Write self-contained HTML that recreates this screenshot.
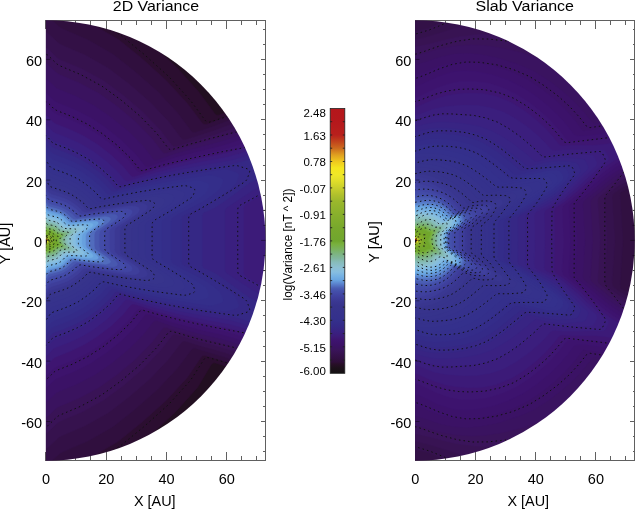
<!DOCTYPE html><html><head><meta charset="utf-8"><title>Variance</title><style>html,body{margin:0;padding:0;background:#fff;}body{width:635px;height:509px;overflow:hidden;font-family:"Liberation Sans",sans-serif;}svg{display:block;will-change:transform;}</style></head><body><svg width="635" height="509" viewBox="0 0 635 509" font-family="'Liberation Sans', sans-serif"><rect width="635" height="509" fill="#fff"/><g stroke="#606060" stroke-width="1" fill="none" shape-rendering="crispEdges"><rect x="46.5" y="20.2" width="219.0" height="440.5"/><path d="M45.8,460.7v-9.0M45.8,20.2v9.0M60.8,460.7v-4.5M60.8,20.2v4.5M75.9,460.7v-4.5M75.9,20.2v4.5M90.9,460.7v-4.5M90.9,20.2v4.5M106.0,460.7v-9.0M106.0,20.2v9.0M121.0,460.7v-4.5M121.0,20.2v4.5M136.1,460.7v-4.5M136.1,20.2v4.5M151.1,460.7v-4.5M151.1,20.2v4.5M166.2,460.7v-9.0M166.2,20.2v9.0M181.2,460.7v-4.5M181.2,20.2v4.5M196.3,460.7v-4.5M196.3,20.2v4.5M211.3,460.7v-4.5M211.3,20.2v4.5M226.4,460.7v-9.0M226.4,20.2v9.0M241.4,460.7v-4.5M241.4,20.2v4.5M256.5,460.7v-4.5M256.5,20.2v4.5M45.8,451.6h2.2M265.5,451.6h-2.2M45.8,436.6h2.2M265.5,436.6h-2.2M45.8,421.5h4.4M265.5,421.5h-4.4M45.8,406.4h2.2M265.5,406.4h-2.2M45.8,391.3h2.2M265.5,391.3h-2.2M45.8,376.2h2.2M265.5,376.2h-2.2M45.8,361.1h4.4M265.5,361.1h-4.4M45.8,346.0h2.2M265.5,346.0h-2.2M45.8,331.0h2.2M265.5,331.0h-2.2M45.8,315.9h2.2M265.5,315.9h-2.2M45.8,300.8h4.4M265.5,300.8h-4.4M45.8,285.7h2.2M265.5,285.7h-2.2M45.8,270.6h2.2M265.5,270.6h-2.2M45.8,255.5h2.2M265.5,255.5h-2.2M45.8,240.4h4.4M265.5,240.4h-4.4M45.8,225.4h2.2M265.5,225.4h-2.2M45.8,210.3h2.2M265.5,210.3h-2.2M45.8,195.2h2.2M265.5,195.2h-2.2M45.8,180.1h4.4M265.5,180.1h-4.4M45.8,165.0h2.2M265.5,165.0h-2.2M45.8,149.9h2.2M265.5,149.9h-2.2M45.8,134.9h2.2M265.5,134.9h-2.2M45.8,119.8h4.4M265.5,119.8h-4.4M45.8,104.7h2.2M265.5,104.7h-2.2M45.8,89.6h2.2M265.5,89.6h-2.2M45.8,74.5h2.2M265.5,74.5h-2.2M45.8,59.4h4.4M265.5,59.4h-4.4M45.8,44.3h2.2M265.5,44.3h-2.2M45.8,29.3h2.2M265.5,29.3h-2.2"/></g><g font-size="14.5" fill="#000"><text x="46.1" y="483.7" text-anchor="middle">0</text><text x="106.3" y="483.7" text-anchor="middle">20</text><text x="166.5" y="483.7" text-anchor="middle">40</text><text x="226.7" y="483.7" text-anchor="middle">60</text><text x="42.2" y="428.1" text-anchor="end">-60</text><text x="42.2" y="367.7" text-anchor="end">-40</text><text x="42.2" y="307.4" text-anchor="end">-20</text><text x="42.2" y="247.0" text-anchor="end">0</text><text x="42.2" y="186.7" text-anchor="end">20</text><text x="42.2" y="126.4" text-anchor="end">40</text><text x="42.2" y="66.0" text-anchor="end">60</text></g><text x="154.8" y="505.6" text-anchor="middle" font-size="14.4">X [AU]</text><text transform="translate(9.6,243.5) rotate(-90)" text-anchor="middle" font-size="14.5">Y [AU]</text><g stroke="#606060" stroke-width="1" fill="none" shape-rendering="crispEdges"><rect x="415.7" y="20.2" width="219.0" height="440.5"/><path d="M415.0,460.7v-9.0M415.0,20.2v9.0M430.0,460.7v-4.5M430.0,20.2v4.5M445.1,460.7v-4.5M445.1,20.2v4.5M460.1,460.7v-4.5M460.1,20.2v4.5M475.2,460.7v-9.0M475.2,20.2v9.0M490.2,460.7v-4.5M490.2,20.2v4.5M505.3,460.7v-4.5M505.3,20.2v4.5M520.3,460.7v-4.5M520.3,20.2v4.5M535.4,460.7v-9.0M535.4,20.2v9.0M550.4,460.7v-4.5M550.4,20.2v4.5M565.5,460.7v-4.5M565.5,20.2v4.5M580.5,460.7v-4.5M580.5,20.2v4.5M595.6,460.7v-9.0M595.6,20.2v9.0M610.6,460.7v-4.5M610.6,20.2v4.5M625.7,460.7v-4.5M625.7,20.2v4.5M415.0,451.6h2.2M634.7,451.6h-2.2M415.0,436.6h2.2M634.7,436.6h-2.2M415.0,421.5h4.4M634.7,421.5h-4.4M415.0,406.4h2.2M634.7,406.4h-2.2M415.0,391.3h2.2M634.7,391.3h-2.2M415.0,376.2h2.2M634.7,376.2h-2.2M415.0,361.1h4.4M634.7,361.1h-4.4M415.0,346.0h2.2M634.7,346.0h-2.2M415.0,331.0h2.2M634.7,331.0h-2.2M415.0,315.9h2.2M634.7,315.9h-2.2M415.0,300.8h4.4M634.7,300.8h-4.4M415.0,285.7h2.2M634.7,285.7h-2.2M415.0,270.6h2.2M634.7,270.6h-2.2M415.0,255.5h2.2M634.7,255.5h-2.2M415.0,240.4h4.4M634.7,240.4h-4.4M415.0,225.4h2.2M634.7,225.4h-2.2M415.0,210.3h2.2M634.7,210.3h-2.2M415.0,195.2h2.2M634.7,195.2h-2.2M415.0,180.1h4.4M634.7,180.1h-4.4M415.0,165.0h2.2M634.7,165.0h-2.2M415.0,149.9h2.2M634.7,149.9h-2.2M415.0,134.9h2.2M634.7,134.9h-2.2M415.0,119.8h4.4M634.7,119.8h-4.4M415.0,104.7h2.2M634.7,104.7h-2.2M415.0,89.6h2.2M634.7,89.6h-2.2M415.0,74.5h2.2M634.7,74.5h-2.2M415.0,59.4h4.4M634.7,59.4h-4.4M415.0,44.3h2.2M634.7,44.3h-2.2M415.0,29.3h2.2M634.7,29.3h-2.2"/></g><g font-size="14.5" fill="#000"><text x="415.3" y="483.7" text-anchor="middle">0</text><text x="475.5" y="483.7" text-anchor="middle">20</text><text x="535.7" y="483.7" text-anchor="middle">40</text><text x="595.9" y="483.7" text-anchor="middle">60</text><text x="411.4" y="428.1" text-anchor="end">-60</text><text x="411.4" y="367.7" text-anchor="end">-40</text><text x="411.4" y="307.4" text-anchor="end">-20</text><text x="411.4" y="247.0" text-anchor="end">0</text><text x="411.4" y="186.7" text-anchor="end">20</text><text x="411.4" y="126.4" text-anchor="end">40</text><text x="411.4" y="66.0" text-anchor="end">60</text></g><text x="528.3" y="505.6" text-anchor="middle" font-size="14.4">X [AU]</text><text transform="translate(378.7,242.0) rotate(-90)" text-anchor="middle" font-size="14.5">Y [AU]</text><mask id="cl" maskUnits="userSpaceOnUse" x="43.8" y="18.2" width="223.7" height="444.5"><path fill="#fff" d="M45.80,20.21A219.70,220.24 0 0 1 45.80,460.69Z"/></mask><g mask="url(#cl)" shape-rendering="geometricPrecision"><rect x="45.8" y="20.2" width="221.7" height="440.5" fill="#161014"/><g stroke-width="0.6" stroke-linejoin="round"><path stroke="#1b1019" fill="#1b1019" d="M45.8,240.5L29.6,472.2Q29.4,475.2 32.4,475.3L45.8,475.8L62.2,475.2L94.6,470.6L126.1,461.6L156.0,448.2L187.1,428.4L214.7,403.9L234.9,379.7L235.2,379.2Q235.5,378.6 235.6,378.7L235.6,378.7Q235.8,378.7 237.2,376.1L264.2,326.7L267.8,317.1L270.9,307.3L277.0,281.3L280.5,240.4L277.0,199.6L270.9,173.6L267.8,163.8L264.2,154.2L235.7,102.1L214.7,77.0L187.1,52.5L156.0,32.7L126.1,19.3L94.6,10.3L62.2,5.7L45.8,5.1L32.4,5.6Q29.4,5.7 29.6,8.7L45.8,240.5Z"/><path stroke="#220f21" fill="#220f21" d="M45.8,240.5L29.6,472.2Q29.4,475.2 32.4,475.3L45.8,475.8L62.2,475.2L94.6,470.6L126.1,461.6L156.0,448.2L167.2,441.1L184.6,425.1L206.5,400.2Q208.5,398.0 209.9,395.3L215.1,385.3L222.1,372.5Q223.5,369.9 226.3,370.9L235.0,373.9Q237.8,374.9 239.3,372.3L264.2,326.7L267.8,317.1L270.9,307.3L277.0,281.3L280.5,240.4L277.0,199.6L270.9,173.6L267.8,163.8L264.2,154.2L237.8,105.9Q236.4,103.3 233.8,104.4L233.8,104.4Q231.2,105.4 229.4,103.0L212.2,79.4L193.4,58.1L187.1,52.5L156.0,32.7L126.1,19.3L94.6,10.3L62.2,5.7L45.8,5.1L32.4,5.6Q29.4,5.7 29.6,8.7L45.8,240.5Z"/><path stroke="#2b0e30" fill="#2b0e30" d="M45.8,240.5L29.6,472.2Q29.4,475.2 32.4,475.3L45.8,475.8L62.2,475.2L94.6,470.6L104.4,467.8Q107.3,467.0 109.8,465.5L124.3,456.8L149.4,435.8L175.0,412.4L197.5,387.4L211.2,364.6Q212.8,362.0 215.6,363.0L228.8,367.2L237.0,370.2Q239.9,371.2 241.3,368.6L264.2,326.7L267.8,317.1L270.9,307.3L277.0,281.3L280.5,240.4L277.0,199.6L270.9,173.6L267.8,163.8L264.2,154.2L240.0,109.9Q238.5,107.3 235.8,108.4L219.3,115.0Q216.5,116.1 214.8,113.7L199.0,92.2L176.3,66.9L150.4,43.3L125.1,22.0L118.2,17.9Q115.6,16.3 112.8,15.5L94.6,10.3L62.2,5.7L45.8,5.1L32.4,5.6Q29.4,5.7 29.6,8.7L45.8,240.5Z"/><path stroke="#300f3e" fill="#300f3e" d="M45.8,240.5L30.0,467.2Q29.8,470.2 32.0,472.2L33.5,473.5Q35.8,475.4 38.8,475.5L45.8,475.8L52.8,475.5Q55.8,475.4 58.1,473.5L59.6,472.2Q61.8,470.2 64.6,469.0L91.7,457.0L118.6,441.1L142.1,422.0L166.1,400.5L187.3,377.4L201.0,357.2Q202.7,354.7 205.6,355.6L220.2,360.0L230.9,363.5L239.1,366.4Q241.9,367.4 243.4,364.8L264.2,326.7L267.8,317.1L270.9,307.3L277.0,281.3L280.5,240.4L277.0,199.6L270.9,173.6L267.8,163.8L264.2,154.2L242.1,113.9Q240.7,111.2 237.9,112.3L209.7,123.4L206.6,124.4Q203.8,125.4 202.0,123.0L187.3,103.4L166.1,80.4L142.2,58.7L118.7,39.8L91.7,23.9L64.6,11.9Q61.8,10.7 59.6,8.7L58.1,7.4Q55.8,5.5 52.8,5.4L45.8,5.1L38.8,5.4Q35.8,5.5 33.5,7.4L32.0,8.7Q29.8,10.7 30.0,13.7L45.8,240.5Z"/><path stroke="#331046" fill="#331046" d="M45.8,240.5L31.2,449.8Q31.0,452.8 33.2,454.8L43.6,463.9Q45.8,465.9 48.0,463.9L58.4,454.8Q60.6,452.8 63.4,451.6L88.3,440.8L113.3,426.4L135.2,409.1L157.7,389.3L177.6,368.0L191.1,350.0Q192.9,347.6 195.7,348.4L222.2,356.3L232.9,359.8L241.2,362.7Q244.0,363.7 245.4,361.0L264.2,326.7L267.8,317.1L270.9,307.3L277.0,281.3L280.5,240.4L277.0,199.6L270.9,173.6L267.8,163.8L264.2,154.2L244.3,117.8Q242.9,115.2 240.1,116.3L211.7,127.1L195.7,132.4Q192.9,133.3 191.1,130.9L177.6,112.9L157.7,91.6L135.2,71.8L113.3,54.5L88.3,40.1L63.4,29.3Q60.6,28.1 58.4,26.1L48.0,17.0Q45.8,15.0 43.6,17.0L33.2,26.1Q31.0,28.1 31.2,31.1L45.8,240.5Z"/><path stroke="#36124e" fill="#36124e" d="M45.8,240.5L32.3,433.8Q32.1,436.8 34.3,438.8L43.6,447.4Q45.8,449.4 48.0,447.4L57.3,438.8Q59.5,436.8 62.3,435.6L85.1,425.8L108.4,412.7L128.9,397.1L149.9,378.9L168.5,359.3L181.1,342.7Q182.9,340.3 185.8,341.2L194.9,344.2L204.1,346.9L214.0,349.5L224.3,352.6L234.9,356.1L243.2,358.9Q246.0,359.9 247.5,357.3L264.2,326.7L267.8,317.1L270.9,307.3L277.0,281.3L280.5,240.4L277.0,199.6L270.9,173.6L267.8,163.8L264.2,154.2L246.5,121.8Q245.0,119.2 242.2,120.2L213.7,130.8L185.8,139.7Q182.9,140.6 181.1,138.2L168.5,121.6L149.9,102.0L128.9,83.8L108.4,68.2L85.1,55.1L62.3,45.3Q59.5,44.1 57.3,42.1L48.0,33.5Q45.8,31.5 43.6,33.5L34.3,42.1Q32.1,44.1 32.3,47.1L45.8,240.5Z"/><path stroke="#391356" fill="#391356" d="M45.8,240.5L33.4,418.9Q33.1,421.9 35.3,424.0L43.6,432.0Q45.8,434.1 48.0,432.0L56.3,424.0Q58.5,421.9 61.2,420.7L82.2,412.0L103.8,400.1L122.9,385.9L142.6,369.2L160.1,351.1L171.7,335.9Q173.6,333.5 176.4,334.4L196.7,340.7L216.1,345.8L226.3,348.9L237.0,352.3L245.3,355.2Q248.1,356.1 249.5,353.5L264.2,326.7L267.8,317.1L270.9,307.3L277.0,281.3L280.5,240.4L277.0,199.6L270.9,173.6L267.8,163.8L264.2,154.2L248.7,125.8Q247.2,123.1 244.4,124.2L225.8,131.1L215.8,134.6L196.7,140.2L176.4,146.5Q173.6,147.4 171.7,145.0L160.1,129.8L142.6,111.7L122.9,95.0L103.8,80.8L82.2,68.9L61.2,60.2Q58.5,59.0 56.3,56.9L48.0,48.9Q45.8,46.8 43.6,48.9L35.3,56.9Q33.1,59.0 33.4,62.0L45.8,240.5Z"/><path stroke="#3a135f" fill="#3a135f" d="M45.8,240.5L34.4,404.0Q34.2,407.0 36.3,409.1L43.7,416.2Q45.8,418.3 47.9,416.2L55.3,409.1Q57.4,407.0 60.2,405.9L79.2,398.0L99.1,387.3L117.0,374.6L135.2,359.4L151.5,342.8L162.2,329.0Q164.1,326.6 166.9,327.6L173.5,329.9L189.8,334.8L198.6,337.3L218.1,342.1L228.3,345.2L247.3,351.4Q250.2,352.4 251.6,349.8L264.2,326.7L267.8,317.1L270.9,307.3L277.0,281.3L280.5,240.4L277.0,199.6L270.9,173.6L267.8,163.8L264.2,154.2L250.8,129.7Q249.4,127.1 246.6,128.1L227.9,134.9L217.8,138.3L198.6,143.6L181.4,148.6L173.5,151.0L166.9,153.3Q164.1,154.3 162.2,151.9L151.5,138.1L135.2,121.5L117.0,106.3L99.1,93.6L79.2,82.9L60.2,75.0Q57.4,73.9 55.3,71.8L47.9,64.7Q45.8,62.6 43.7,64.7L36.3,71.8Q34.2,73.9 34.4,76.9L45.8,240.5Z"/><path stroke="#3b1266" fill="#3b1266" d="M45.8,240.5L35.4,389.4Q35.2,392.4 37.3,394.5L43.6,400.7Q45.8,402.7 48.0,400.7L54.3,394.5Q56.4,392.4 59.2,391.3L76.3,384.3L94.6,374.9L111.1,363.5L128.0,349.8L143.1,334.7L152.9,322.2Q154.7,319.8 157.6,320.8L167.7,324.4L175.1,326.9L200.5,333.9L220.1,338.5L230.4,341.5L249.4,347.7Q252.2,348.6 253.7,346.0L264.2,326.7L267.8,317.1L270.9,307.3L277.0,281.3L280.5,240.4L277.0,199.6L270.9,173.6L267.8,163.8L264.2,154.2L253.0,133.7Q251.6,131.1 248.7,132.1L230.0,138.7L219.9,142.1L191.6,149.4L175.1,154.0L167.7,156.5L157.6,160.1Q154.7,161.1 152.9,158.7L143.1,146.2L128.0,131.1L111.1,117.4L94.6,106.0L76.3,96.6L59.2,89.6Q56.4,88.5 54.3,86.4L48.0,80.2Q45.8,78.2 43.6,80.2L37.3,86.4Q35.2,88.5 35.4,91.5L45.8,240.5Z"/><path stroke="#3d136c" fill="#3d136c" d="M45.8,240.5L36.3,376.1Q36.1,379.1 38.3,381.2L43.6,386.4Q45.8,388.5 48.0,386.4L53.3,381.2Q55.5,379.1 58.3,378.0L73.7,371.8L90.5,363.4L105.7,353.3L121.3,340.9L135.4,327.2L144.3,315.9Q146.2,313.5 149.0,314.5L162.2,319.2L176.8,323.8L202.4,330.4L222.1,334.8L232.4,337.8L251.4,343.9Q254.3,344.9 255.7,342.2L264.2,326.7L267.8,317.1L270.9,307.3L277.0,281.3L280.5,240.4L277.0,199.6L270.9,173.6L267.8,163.8L264.2,154.2L255.2,137.7Q253.7,135.0 250.9,136.0L232.1,142.5L221.9,145.8L193.4,152.7L176.8,157.1L162.2,161.7L149.0,166.4Q146.2,167.4 144.3,165.0L135.4,153.7L121.3,140.0L105.7,127.6L90.5,117.5L73.7,109.1L58.3,102.9Q55.5,101.8 53.3,99.7L48.0,94.5Q45.8,92.4 43.6,94.5L38.3,99.7Q36.1,101.8 36.3,104.8L45.8,240.5Z"/><path stroke="#3e1571" fill="#3e1571" d="M45.8,240.5L37.1,364.5Q36.9,367.5 39.0,369.6L43.7,374.3Q45.8,376.5 47.9,374.3L52.6,369.6Q54.7,367.5 57.5,366.4L71.3,360.9L86.8,353.4L101.0,344.4L115.4,333.1L128.5,320.5L136.7,310.3Q138.5,308.0 141.4,309.0L156.9,314.4L170.8,318.7L178.4,320.8L195.2,324.9L204.2,327.0L224.1,331.1L234.4,334.0L253.5,340.2Q256.3,341.1 257.8,338.5L264.2,326.7L267.8,317.1L270.9,307.3L277.0,281.3L280.5,240.4L277.0,199.6L270.9,173.6L267.8,163.8L264.2,154.2L257.3,141.6Q255.9,139.0 253.1,140.0L234.2,146.4L224.0,149.5L195.2,156.0L178.4,160.1L170.8,162.2L156.9,166.5L141.4,171.9Q138.5,172.9 136.7,170.6L128.5,160.4L115.4,147.8L101.0,136.5L86.8,127.5L71.3,120.0L57.5,114.5Q54.7,113.4 52.6,111.3L47.9,106.6Q45.8,104.4 43.7,106.6L39.0,111.3Q36.9,113.4 37.1,116.4L45.8,240.5Z"/><path stroke="#3c1b79" fill="#3c1b79" d="M45.8,240.5L37.8,354.6Q37.6,357.6 39.4,359.5L41.1,361.5L43.7,364.3Q45.8,366.5 47.9,364.3L50.5,361.5L52.2,359.5Q54.0,357.6 56.8,356.5L69.4,351.6L83.7,344.8L96.9,336.8L110.4,326.4L122.7,314.9L130.2,305.6Q132.0,303.3 134.9,304.2L158.3,311.8L172.4,315.8L180.1,317.8L197.0,321.6L206.1,323.6L226.1,327.4L236.5,330.3L255.5,336.4Q258.4,337.4 259.8,334.7L264.2,326.7L267.8,317.1L270.9,307.3L275.6,287.4Q276.2,284.5 273.6,283.1L269.5,280.9Q266.8,279.5 266.8,276.5L266.8,204.4Q266.8,201.4 269.5,200.0L273.6,197.8Q276.2,196.4 275.6,193.5L270.9,173.6L267.8,163.8L264.2,154.2L259.5,145.6Q258.1,143.0 255.2,143.9L236.3,150.2L226.0,153.3L197.0,159.3L180.1,163.1L172.4,165.1L158.3,169.1L134.9,176.7Q132.0,177.6 130.2,175.3L122.7,166.0L110.4,154.5L96.9,144.1L83.7,136.1L69.4,129.3L56.8,124.4Q54.0,123.3 52.2,121.4L50.5,119.4L47.9,116.6Q45.8,114.4 43.7,116.6L41.1,119.4L39.4,121.4Q37.6,123.3 37.8,126.3L45.8,240.5Z"/><path stroke="#3a1f7f" fill="#3a1f7f" d="M45.8,240.5L38.5,345.4Q38.3,348.4 40.2,350.7L43.9,355.0Q45.8,357.3 47.7,355.0L51.4,350.7Q53.3,348.4 56.1,347.3L67.5,343.0L80.8,336.9L93.1,329.7L105.7,320.2L117.2,309.6L124.1,301.2Q126.0,298.8 128.8,299.8L135.7,302.0L153.2,307.3L166.6,311.0L181.8,314.7L190.0,316.5L208.0,320.2L228.1,323.8L238.5,326.6L257.6,332.7Q260.4,333.6 261.9,331.0L264.2,326.7L267.8,317.1L270.9,307.3L273.7,295.2Q274.4,292.3 271.7,290.9L263.7,286.9L253.6,281.4L246.0,276.9Q243.5,275.4 243.5,272.4L243.5,208.5Q243.5,205.5 246.0,204.0L253.6,199.5L263.7,194.0L271.7,190.0Q274.4,188.6 273.7,185.7L270.9,173.6L267.8,163.8L264.2,154.2L261.7,149.6Q260.2,146.9 257.4,147.9L238.4,154.0L228.0,157.0L198.8,162.6L181.8,166.2L174.0,168.0L166.6,169.9L153.2,173.6L135.7,178.9L128.8,181.1Q126.0,182.1 124.1,179.7L117.2,171.3L105.7,160.7L93.1,151.2L80.8,144.0L67.5,137.9L56.1,133.6Q53.3,132.5 51.4,130.2L47.7,125.9Q45.8,123.6 43.9,125.9L40.2,130.2Q38.3,132.5 38.5,135.5L45.8,240.5Z"/><path stroke="#382382" fill="#382382" d="M45.8,240.5L39.1,337.0Q38.9,340.0 40.4,342.2L42.0,344.4L43.9,346.6Q45.8,348.8 47.7,346.6L49.6,344.4L51.2,342.2Q52.7,340.0 55.6,338.9L65.9,335.1L78.2,329.6L89.6,323.1L101.4,314.5L112.2,304.7L118.5,297.1Q120.4,294.8 123.2,295.7L131.6,298.3L142.4,301.5L154.6,304.9L168.1,308.3L183.4,311.7L191.7,313.4L209.9,316.7L230.1,320.1L240.5,322.9L259.6,328.9Q262.5,329.8 263.4,328.3L264.2,326.7L267.8,317.1L270.9,307.3L271.9,303.0Q272.6,300.1 269.9,298.8L261.8,294.9L251.6,289.8L233.4,277.7L227.1,273.7Q224.6,272.0 224.6,269.0L224.6,211.9Q224.6,208.9 227.1,207.2L233.4,203.2L251.6,191.1L261.8,186.0L269.9,182.1Q272.6,180.8 271.9,177.9L270.9,173.6L267.8,163.8L264.2,154.2L263.3,152.5Q262.4,150.9 259.5,151.8L240.4,157.8L230.1,160.7L209.9,164.2L191.7,167.5L183.4,169.2L168.1,172.6L154.6,176.0L142.4,179.4L131.6,182.6L123.2,185.2Q120.4,186.1 118.5,183.8L112.2,176.2L101.4,166.4L89.6,157.8L78.2,151.3L65.9,145.8L55.6,142.0Q52.7,140.9 51.2,138.7L49.6,136.5L47.7,134.3Q45.8,132.1 43.9,134.3L42.0,136.5L40.4,138.7Q38.9,140.9 39.1,143.9L45.8,240.5Z"/><path stroke="#352885" fill="#352885" d="M45.8,240.5L39.5,330.2Q39.3,333.2 41.1,335.6L43.7,339.2L44.8,340.5Q45.8,341.7 46.8,340.5L47.9,339.2L50.5,335.6Q52.3,333.2 55.1,332.2L64.5,328.7L76.0,323.7L86.8,317.8L97.9,309.7L108.0,300.7L113.8,293.7Q115.8,291.4 117.0,291.7L118.3,292.0L138.0,297.8L162.6,304.0L177.1,307.1L193.5,310.2L211.7,313.3L232.2,316.4L242.6,319.2L252.4,322.3Q255.2,323.2 258.1,322.2L264.1,320.3Q266.9,319.4 267.9,316.5L268.0,316.0Q269.0,313.2 268.0,310.4L267.5,308.8Q266.5,306.0 263.8,304.7L249.7,298.1L240.4,291.5L231.7,284.9L223.3,278.9L215.3,273.6L207.4,269.8L204.7,268.9Q202.1,268.1 202.1,265.1L202.1,215.8Q202.1,212.8 204.7,212.0L207.4,211.1L215.3,207.3L223.3,202.0L231.7,196.0L240.4,189.4L249.7,182.8L263.8,176.2Q266.5,174.9 267.5,172.1L268.0,170.5Q269.0,167.7 268.4,165.8L267.8,163.8L267.3,162.7Q266.9,161.5 264.1,160.6L258.1,158.7Q255.2,157.7 252.4,158.6L242.5,161.7L232.1,164.5L211.7,167.6L193.5,170.7L177.1,173.8L162.6,176.9L138.0,183.1L118.3,188.9L117.0,189.2Q115.8,189.5 113.8,187.2L108.0,180.2L97.9,171.2L86.8,163.1L76.0,157.2L64.5,152.2L55.1,148.7Q52.3,147.7 50.5,145.3L47.9,141.7L46.8,140.4Q45.8,139.2 44.8,140.4L43.7,141.7L41.1,145.3Q39.3,147.7 39.5,150.7L45.8,240.5Z"/><path stroke="#342b88" fill="#342b88" d="M45.8,240.5L39.9,324.3Q39.7,327.3 41.5,329.7L44.0,333.2Q45.8,335.6 47.6,333.2L50.1,329.7Q51.9,327.3 54.7,326.3L63.3,323.1L74.2,318.6L84.4,313.2L94.8,305.7L104.4,297.2L109.8,290.8Q111.8,288.5 114.7,289.2L119.3,290.3L139.1,295.7L150.9,298.5L164.0,301.4L186.7,305.6L213.6,309.9L223.1,311.2Q226.1,311.6 228.9,310.7L236.5,308.2Q239.4,307.3 238.4,304.4L236.7,299.7Q235.7,296.8 233.4,294.9L230.0,292.0L221.8,285.5L213.9,279.7L206.1,275.2L198.5,271.9L191.2,269.1L184.4,266.0L182.9,265.2Q181.4,264.4 181.4,261.4L181.4,240.4L181.4,219.5Q181.4,216.5 182.9,215.7L184.4,214.9L191.2,211.8L198.5,209.0L206.1,205.7L213.9,201.2L221.8,195.4L230.0,188.9L233.4,186.0Q235.7,184.1 236.7,181.2L238.4,176.5Q239.4,173.6 236.5,172.7L228.9,170.2Q226.1,169.3 223.1,169.7L213.6,171.0L186.7,175.3L164.0,179.5L150.9,182.4L139.1,185.2L119.3,190.6L114.7,191.7Q111.8,192.4 109.8,190.1L104.4,183.7L94.8,175.2L84.4,167.7L74.2,162.3L63.3,157.8L54.7,154.6Q51.9,153.6 50.1,151.2L47.6,147.7Q45.8,145.3 44.0,147.7L41.5,151.2Q39.7,153.6 39.9,156.6L45.8,240.5Z"/><path stroke="#342e8a" fill="#342e8a" d="M45.8,240.5L40.3,318.8Q40.1,321.8 41.9,324.3L44.1,327.4Q45.8,329.8 47.5,327.4L49.7,324.3Q51.5,321.8 54.3,320.8L62.2,318.0L72.4,313.8L82.1,308.8L91.9,301.8L101.1,293.9L106.1,288.0Q108.0,285.7 110.9,286.4L120.3,288.5L140.3,293.6L158.6,297.5L172.6,300.1L188.4,302.6L206.0,305.2L208.8,305.6Q211.7,305.9 214.5,305.0L221.1,302.9Q223.9,301.9 222.9,299.1L221.5,295.1Q220.5,292.3 218.2,290.4L212.4,285.8L204.9,280.5L197.4,276.4L183.5,269.5L173.7,264.1Q171.1,262.6 171.1,259.6L171.1,221.3Q171.1,218.3 173.7,216.8L183.5,211.4L197.4,204.5L204.9,200.4L212.4,195.1L218.2,190.5Q220.5,188.6 221.5,185.8L222.9,181.8Q223.9,179.0 221.1,178.0L214.5,175.9Q211.7,175.0 208.8,175.3L206.0,175.7L188.4,178.3L172.6,180.8L158.6,183.4L140.3,187.3L120.3,192.4L110.9,194.5Q108.0,195.2 106.1,192.9L101.1,187.0L91.9,179.1L82.1,172.1L72.4,167.1L62.2,162.9L54.3,160.1Q51.5,159.1 49.7,156.6L47.5,153.5Q45.8,151.1 44.1,153.5L41.9,156.6Q40.1,159.1 40.3,162.1L45.8,240.5Z"/><path stroke="#34308c" fill="#34308c" d="M45.8,240.5L40.7,313.7Q40.5,316.6 42.2,319.1L44.1,321.9Q45.8,324.4 47.5,321.9L49.4,319.1Q51.1,316.6 53.9,315.7L61.2,313.1L70.8,309.3L79.9,304.7L89.2,298.2L97.9,290.9L102.5,285.4Q104.4,283.2 107.4,283.8L121.2,286.8L141.4,291.5L153.4,293.9L166.8,296.2L174.1,297.4L195.4,300.3Q198.4,300.7 201.2,299.8L206.8,297.9Q209.6,297.0 208.7,294.2L207.6,291.0Q206.6,288.2 205.1,287.0L203.6,285.9L196.4,281.0L170.4,265.8L164.3,262.4Q161.6,260.9 161.6,257.9L161.6,240.4L161.6,223.0Q161.6,220.0 164.3,218.5L170.4,215.1L196.4,199.9L203.6,195.0L205.1,193.9Q206.6,192.7 207.6,189.9L208.7,186.7Q209.6,183.9 206.8,183.0L201.2,181.1Q198.4,180.2 195.4,180.6L174.1,183.5L166.8,184.7L153.4,187.0L141.4,189.4L121.2,194.1L107.4,197.1Q104.4,197.7 102.5,195.5L97.9,190.0L89.2,182.7L79.9,176.2L70.8,171.6L61.2,167.8L53.9,165.2Q51.1,164.3 49.4,161.8L47.5,159.0Q45.8,156.5 44.1,159.0L42.2,161.8Q40.5,164.3 40.7,167.2L45.8,240.5Z"/><path stroke="#35318c" fill="#35318c" d="M45.8,240.5L41.0,308.9Q40.8,311.9 42.4,314.5L44.0,317.0L44.9,318.2Q45.8,319.5 46.7,318.2L47.6,317.0L49.2,314.5Q50.8,311.9 53.6,310.9L60.3,308.6L69.3,305.1L77.9,300.9L86.7,294.9L94.9,288.0L99.2,283.0Q101.2,280.8 104.1,281.4L122.2,285.0L142.6,289.4L161.3,292.6L175.6,294.6L183.3,295.6Q186.3,295.9 189.1,295.0L193.8,293.5Q196.7,292.5 195.7,289.7L194.8,287.2Q193.8,284.4 191.3,282.7L188.5,280.7L169.7,268.9L164.0,265.5L155.5,260.8Q152.9,259.4 152.9,256.4L152.9,224.5Q152.9,221.5 155.5,220.1L164.0,215.4L169.7,212.0L188.5,200.2L191.3,198.2Q193.8,196.5 194.8,193.7L195.7,191.2Q196.7,188.4 193.8,187.4L189.1,185.9Q186.3,185.0 183.3,185.3L175.6,186.3L161.3,188.3L142.6,191.5L122.2,195.9L104.1,199.5Q101.2,200.1 99.2,197.9L94.9,192.9L86.7,186.0L77.9,180.0L69.3,175.8L60.3,172.3L53.6,170.0Q50.8,169.0 49.2,166.4L47.6,163.9L46.7,162.7Q45.8,161.4 44.9,162.7L44.0,163.9L42.4,166.4Q40.8,169.0 41.0,172.0L45.8,240.5Z"/><path stroke="#36328c" fill="#36328c" d="M45.8,240.5L41.3,304.7Q41.1,307.7 42.7,310.2L44.2,312.5Q45.8,315.1 47.4,312.5L48.9,310.2Q50.5,307.7 53.3,306.7L59.4,304.6L67.9,301.4L76.1,297.6L84.5,291.9L92.3,285.5L96.2,280.9Q98.2,278.6 101.2,279.1L106.3,280.0L143.7,287.3L156.0,289.2L169.6,291.1L172.8,291.4Q175.7,291.8 178.6,290.8L182.5,289.5Q185.3,288.6 184.3,285.8L183.7,283.9Q182.7,281.1 180.2,279.4L174.9,275.8L163.3,268.5L147.9,259.5Q145.3,258.0 145.3,255.0L145.3,240.4L145.3,225.9Q145.3,222.9 147.9,221.4L163.3,212.4L174.9,205.1L180.2,201.5Q182.7,199.8 183.7,197.0L184.3,195.1Q185.3,192.3 182.5,191.4L178.6,190.1Q175.7,189.1 172.8,189.5L169.6,189.8L156.0,191.7L143.7,193.6L106.3,200.9L101.2,201.8Q98.2,202.3 96.2,200.0L92.3,195.4L84.5,189.0L76.1,183.3L67.9,179.5L59.4,176.3L53.3,174.2Q50.5,173.2 48.9,170.7L47.4,168.4Q45.8,165.8 44.2,168.4L42.7,170.7Q41.1,173.2 41.3,176.2L45.8,240.5Z"/><path stroke="#36338c" fill="#36338c" d="M45.8,240.5L41.6,300.5Q41.4,303.5 43.0,306.1L44.2,308.2Q45.8,310.7 47.4,308.2L48.6,306.1Q50.2,303.5 53.0,302.6L58.6,300.7L66.6,297.7L74.3,294.2L82.3,289.0L89.7,282.9L93.3,278.8Q95.3,276.5 98.3,276.9L103.5,277.7L133.9,283.3L144.9,285.2L157.2,286.9L163.2,287.6Q166.1,288.0 169.0,287.0L172.2,286.0Q175.1,285.1 174.1,282.2L173.6,280.9Q172.6,278.1 170.1,276.5L157.2,268.1L140.9,258.3Q138.3,256.8 138.3,255.5L138.3,254.3L138.3,227.1Q138.3,224.1 140.9,222.6L157.2,212.8L170.1,204.4Q172.6,202.8 173.6,200.0L174.1,198.7Q175.1,195.8 172.2,194.9L169.0,193.9Q166.1,192.9 163.2,193.3L157.2,194.0L144.9,195.7L133.9,197.6L103.5,203.2L98.3,204.0Q95.3,204.4 93.3,202.1L89.7,198.0L82.3,191.9L74.3,186.7L66.6,183.2L58.6,180.2L53.0,178.3Q50.2,177.4 48.6,174.8L47.4,172.7Q45.8,170.2 44.2,172.7L43.0,174.8Q41.4,177.4 41.6,180.4L45.8,240.5Z"/><path stroke="#37348c" fill="#37348c" d="M45.8,240.5L41.9,296.2Q41.7,299.2 42.7,301.0L43.7,302.8L44.8,304.5Q45.8,306.2 46.8,304.5L47.9,302.8L48.9,301.0Q49.9,299.2 52.7,298.2L65.2,293.9L72.5,290.7L79.9,285.9L86.9,280.3L90.2,276.5Q92.2,274.3 95.2,274.7L104.4,276.1L116.1,278.3L140.3,282.2L154.3,284.1Q157.3,284.5 160.1,283.5L162.6,282.7Q165.5,281.8 164.5,278.9L164.2,278.1Q163.2,275.3 160.7,273.7L151.4,267.6L134.4,257.2Q131.9,255.7 131.9,252.7L131.9,240.4L131.9,228.2Q131.9,225.2 134.4,223.7L151.4,213.3L160.7,207.2Q163.2,205.6 164.2,202.8L164.5,202.0Q165.5,199.1 162.6,198.2L160.1,197.4Q157.3,196.4 154.3,196.8L140.3,198.7L116.1,202.6L104.4,204.8L95.2,206.2Q92.2,206.6 90.2,204.4L86.9,200.6L79.9,195.0L72.5,190.2L65.2,187.0L52.7,182.7Q49.9,181.7 48.9,179.9L47.9,178.1L46.8,176.4Q45.8,174.7 44.8,176.4L43.7,178.1L42.7,179.9Q41.7,181.7 41.9,184.7L45.8,240.5Z"/><path stroke="#38358e" fill="#38358e" d="M45.8,240.5L42.2,292.1Q42.0,295.0 43.4,297.7L44.4,299.3Q45.8,301.9 47.2,299.3L48.2,297.7Q49.6,295.0 52.5,294.1L63.9,290.3L70.7,287.4L77.7,282.9L84.3,277.7L87.3,274.4Q89.3,272.1 92.3,272.6L105.3,274.5L117.0,276.6L130.9,278.7L146.0,280.8Q149.0,281.2 151.9,280.3L153.8,279.6Q156.6,278.7 155.6,275.9L155.5,275.6Q154.5,272.7 152.0,271.1L141.4,264.2L128.4,256.2Q125.8,254.6 125.8,251.6L125.8,240.4L125.8,229.3Q125.8,226.3 128.4,224.7L141.4,216.7L152.0,209.8Q154.5,208.2 155.5,205.3L155.6,205.0Q156.6,202.2 153.8,201.3L151.9,200.6Q149.0,199.7 146.0,200.1L130.9,202.2L117.0,204.3L105.3,206.4L92.3,208.3Q89.3,208.8 87.3,206.5L84.3,203.2L77.7,198.0L70.7,193.5L63.9,190.6L52.5,186.8Q49.6,185.9 48.2,183.2L47.2,181.6Q45.8,179.0 44.4,181.6L43.4,183.2Q42.0,185.9 42.2,188.8L45.8,240.5Z"/><path stroke="#3b3893" fill="#3b3893" d="M45.8,240.5L42.5,288.1Q42.3,291.1 43.0,292.5L43.6,294.0L44.7,295.9Q45.8,297.9 46.9,295.9L48.0,294.0L48.6,292.5Q49.3,291.1 52.2,290.1L62.6,286.7L69.0,284.2L75.6,280.1L81.8,275.3L84.4,272.3Q86.4,270.0 89.4,270.5L106.1,272.9L117.9,274.9L138.1,277.7Q141.0,278.1 143.9,277.1L145.2,276.7Q148.1,275.8 147.1,273.0L147.1,273.0Q146.1,270.2 143.6,268.6L132.3,261.2L122.5,255.1Q120.0,253.6 120.0,250.6L120.0,230.3Q120.0,227.3 122.5,225.8L132.3,219.7L143.6,212.3Q146.1,210.7 147.1,207.9L147.1,207.9Q148.1,205.1 145.2,204.2L143.9,203.8Q141.0,202.8 138.1,203.2L117.9,206.0L106.1,208.0L89.4,210.4Q86.4,210.9 84.4,208.6L81.8,205.6L75.6,200.8L69.0,196.7L62.6,194.2L52.2,190.8Q49.3,189.8 48.6,188.4L48.0,186.9L46.9,185.0Q45.8,183.0 44.7,185.0L43.6,186.9L43.0,188.4Q42.3,189.8 42.5,192.8L45.8,240.5Z"/><path stroke="#3e3e9a" fill="#3e3e9a" d="M45.8,240.5L42.7,284.4Q42.5,287.4 43.4,289.3L44.4,291.3L45.1,292.7Q45.8,294.0 46.5,292.7L47.2,291.3L48.2,289.3Q49.1,287.4 51.9,286.4L61.4,283.4L67.4,281.2L73.6,277.4L79.4,272.9L81.7,270.3Q83.7,268.1 86.7,268.5L107.0,271.3L118.8,273.3L130.7,274.8Q133.6,275.1 136.5,274.2L137.3,273.9Q140.1,273.0 139.2,270.5L139.2,270.5Q138.3,267.9 135.9,266.3L127.8,260.9L117.0,254.2Q114.5,252.6 114.5,249.6L114.5,244.1L114.5,231.3Q114.5,228.3 117.0,226.7L127.8,220.0L135.9,214.6Q138.3,213.0 139.2,210.4L139.2,210.4Q140.1,207.9 137.3,207.0L136.5,206.7Q133.6,205.8 130.7,206.1L118.8,207.6L107.0,209.6L86.7,212.4Q83.7,212.8 81.7,210.6L79.4,208.0L73.6,203.5L67.4,199.7L61.4,197.5L51.9,194.5Q49.1,193.5 48.2,191.6L47.2,189.6L46.5,188.2Q45.8,186.9 45.1,188.2L44.4,189.6L43.4,191.6Q42.5,193.5 42.7,196.5L45.8,240.5Z"/><path stroke="#4145a2" fill="#4145a2" d="M45.8,240.5L43.0,280.9Q42.8,283.9 44.0,286.6L44.5,287.7Q45.8,290.4 47.1,287.7L47.6,286.6Q48.8,283.9 51.7,283.0L60.3,280.4L65.9,278.3L71.7,274.9L77.1,270.8L79.2,268.5Q81.2,266.3 84.2,266.6L104.3,269.2L119.7,271.6L123.8,272.1Q126.8,272.4 129.7,271.5L129.9,271.4Q132.8,270.5 132.0,268.1L132.0,268.1Q131.1,265.8 129.2,264.5L127.3,263.2L116.5,256.4L111.9,253.4Q109.4,251.7 109.4,248.7L109.4,232.2Q109.4,229.2 111.9,227.5L116.5,224.5L127.3,217.7L129.2,216.4Q131.1,215.1 132.0,212.8L132.0,212.8Q132.8,210.4 129.9,209.5L129.7,209.4Q126.8,208.5 123.8,208.8L119.7,209.3L104.3,211.7L84.2,214.3Q81.2,214.6 79.2,212.4L77.1,210.1L71.7,206.0L65.9,202.6L60.3,200.5L51.7,197.9Q48.8,197.0 47.6,194.3L47.1,193.2Q45.8,190.5 44.5,193.2L44.0,194.3Q42.8,197.0 43.0,200.0L45.8,240.5Z"/><path stroke="#434ca8" fill="#434ca8" d="M45.8,240.5L43.2,277.6Q43.0,280.6 44.2,283.3L44.6,284.2Q45.8,286.9 47.0,284.2L47.4,283.3Q48.6,280.6 51.5,279.7L59.2,277.5L64.5,275.6L69.8,272.4L74.9,268.6L76.9,266.6Q78.8,264.5 81.8,264.8L105.1,267.6L117.4,269.5Q120.4,269.9 123.2,269.0L123.2,269.0Q125.9,268.1 125.1,265.9L125.1,265.9Q124.2,263.7 121.7,262.1L112.8,256.5L107.1,252.5Q104.6,250.8 104.6,247.8L104.6,233.1Q104.6,230.1 107.1,228.4L112.8,224.4L121.7,218.8Q124.2,217.2 125.1,215.0L125.1,215.0Q125.9,212.8 123.2,211.9L123.2,211.9Q120.4,211.0 117.4,211.4L105.1,213.3L81.8,216.1Q78.8,216.4 76.9,214.3L74.9,212.3L69.8,208.5L64.5,205.3L59.2,203.4L51.5,201.2Q48.6,200.3 47.4,197.6L47.0,196.7Q45.8,194.0 44.6,196.7L44.2,197.6Q43.0,200.3 43.2,203.3L45.8,240.5Z"/><path stroke="#4858af" fill="#4858af" d="M45.8,240.5L43.5,274.0Q43.2,277.0 44.5,279.8L44.6,280.1Q45.8,282.8 47.0,280.1L47.1,279.8Q48.4,277.0 51.2,276.2L58.1,274.3L62.9,272.7L67.9,269.8L72.5,266.3L74.3,264.4Q76.1,262.5 78.1,262.8L80.2,263.2L96.1,264.8L110.1,266.6Q113.0,267.0 115.5,266.2L115.5,266.2Q118.0,265.4 117.3,263.4L117.3,263.4Q116.6,261.5 114.1,259.8L109.3,256.6L103.7,252.7L101.4,251.3Q99.2,249.9 99.2,246.9L99.2,241.8L99.2,234.0Q99.2,231.0 101.4,229.6L103.7,228.2L109.3,224.3L114.1,221.1Q116.6,219.4 117.3,217.5L117.3,217.5Q118.0,215.5 115.5,214.7L115.5,214.7Q113.0,213.9 110.1,214.3L96.1,216.1L80.2,217.7L78.1,218.1Q76.1,218.4 74.3,216.5L72.5,214.6L67.9,211.1L62.9,208.2L58.1,206.6L51.2,204.7Q48.4,203.9 47.1,201.1L47.0,200.8Q45.8,198.1 44.6,200.8L44.5,201.1Q43.2,203.9 43.5,206.9L45.8,240.5Z"/><path stroke="#516cbd" fill="#516cbd" d="M45.8,240.5L43.6,271.3Q43.4,274.3 43.9,275.2L44.4,276.0L45.1,277.5Q45.8,279.0 46.5,277.5L47.2,276.0L47.7,275.2Q48.2,274.3 51.1,273.6L57.2,271.9L61.7,270.4L66.3,267.7L70.2,264.1L71.9,262.4Q73.5,260.6 76.5,261.1L81.0,261.8L91.1,262.7L103.4,264.0Q106.4,264.4 108.6,263.6L108.6,263.6Q110.9,262.9 110.3,261.2L110.3,261.2Q109.6,259.4 107.2,257.7L100.5,253.1L96.7,250.6Q94.2,249.0 94.2,246.0L94.2,240.4L94.2,234.9Q94.2,231.9 96.7,230.3L100.5,227.8L107.2,223.2Q109.6,221.5 110.3,219.7L110.3,219.7Q110.9,218.0 108.6,217.3L108.6,217.3Q106.4,216.5 103.4,216.9L91.1,218.2L81.0,219.1L76.5,219.8Q73.5,220.3 71.9,218.5L70.2,216.8L66.3,213.2L61.7,210.5L57.2,209.0L51.1,207.3Q48.2,206.6 47.7,205.7L47.2,204.9L46.5,203.4Q45.8,201.9 45.1,203.4L44.4,204.9L43.9,205.7Q43.4,206.6 43.6,209.6L45.8,240.5Z"/><path stroke="#5c86cf" fill="#5c86cf" d="M45.8,240.5L43.8,269.0Q43.6,272.0 44.7,273.8L44.7,273.8Q45.8,275.7 46.9,273.8L46.9,273.8Q48.0,272.0 50.9,271.2L56.5,269.8L60.6,268.4L62.8,267.2Q65.0,266.0 66.7,264.2L68.5,262.4L70.0,260.8Q71.5,259.1 74.5,259.5L81.8,260.4L97.4,261.7Q100.4,262.0 102.4,261.3L102.4,261.3Q104.4,260.7 103.9,259.1L103.9,259.1Q103.3,257.5 100.9,255.8L95.2,251.9L92.1,249.8Q89.6,248.2 89.6,245.2L89.6,240.4L89.6,235.7Q89.6,232.7 92.1,231.1L95.2,229.0L100.9,225.1Q103.3,223.4 103.9,221.8L103.9,221.8Q104.4,220.2 102.4,219.6L102.4,219.6Q100.4,218.9 97.4,219.2L81.8,220.5L74.5,221.4Q71.5,221.8 70.0,220.1L68.5,218.5L66.7,216.7Q65.0,214.9 62.8,213.7L60.6,212.5L56.5,211.1L50.9,209.7Q48.0,208.9 46.9,207.1L46.9,207.1Q45.8,205.2 44.7,207.1L44.7,207.1Q43.6,208.9 43.8,211.9L45.8,240.5Z"/><path stroke="#67a0de" fill="#67a0de" d="M45.8,240.5L44.0,266.8Q43.8,269.8 44.8,271.5L44.8,271.5Q45.8,273.3 46.8,271.5L46.8,271.5Q47.8,269.8 50.8,269.1L55.7,267.8L59.7,266.6L61.7,265.4Q63.7,264.3 65.8,262.1L67.7,260.1Q69.8,257.9 72.1,258.0L74.4,258.1L82.5,259.0L92.0,259.7Q95.0,259.9 96.8,259.3L96.8,259.3Q98.6,258.7 98.1,257.3L98.1,257.3Q97.6,255.8 95.2,254.1L90.4,250.7L88.0,249.1Q85.5,247.5 85.5,244.5L85.5,240.4L85.5,236.4Q85.5,233.4 88.0,231.8L90.4,230.2L95.2,226.8Q97.6,225.1 98.1,223.6L98.1,223.6Q98.6,222.2 96.8,221.6L96.8,221.6Q95.0,221.0 92.0,221.2L82.5,221.9L74.4,222.8L72.1,222.9Q69.8,223.0 67.7,220.8L65.8,218.8Q63.7,216.6 61.7,215.5L59.7,214.3L55.7,213.1L50.8,211.8Q47.8,211.1 46.8,209.4L46.8,209.4Q45.8,207.6 44.8,209.4L44.8,209.4Q43.8,211.1 44.0,214.1L45.8,240.5Z"/><path stroke="#71ade3" fill="#71ade3" d="M45.8,240.5L44.1,264.8Q43.9,267.8 44.8,269.4L44.8,269.4Q45.8,271.1 46.8,269.4L46.8,269.4Q47.7,267.8 50.6,267.1L55.1,266.0L58.7,264.9L60.7,263.8Q62.6,262.7 64.6,260.5L66.1,258.9Q68.1,256.7 70.7,256.7L73.2,256.8L87.1,257.7Q90.1,258.0 91.8,257.4L91.8,257.4Q93.4,256.9 93.0,255.6L93.0,255.6Q92.5,254.3 90.1,252.6L84.3,248.5Q81.8,246.8 81.8,243.8L81.8,240.4L81.8,237.1Q81.8,234.1 84.3,232.4L90.1,228.3Q92.5,226.6 93.0,225.3L93.0,225.3Q93.4,224.0 91.8,223.5L91.8,223.5Q90.1,222.9 87.1,223.2L73.2,224.1L70.7,224.2Q68.1,224.2 66.1,222.0L64.6,220.4Q62.6,218.2 60.7,217.1L58.7,216.0L55.1,214.9L50.6,213.8Q47.7,213.1 46.8,211.5L46.8,211.5Q45.8,209.8 44.8,211.5L44.8,211.5Q43.9,213.1 44.1,216.1L45.8,240.5Z"/><path stroke="#7bb6e3" fill="#7bb6e3" d="M45.8,240.5L44.2,262.9Q44.0,265.9 44.9,267.5L44.9,267.5Q45.8,269.1 46.7,267.5L46.7,267.5Q47.6,265.9 50.5,265.2L54.5,264.3L57.9,263.3L59.7,262.3Q61.5,261.3 63.5,259.1L64.6,257.8Q66.7,255.6 69.7,255.6L73.8,255.6L82.8,256.1Q85.8,256.2 87.2,255.7L87.2,255.7Q88.7,255.3 88.3,254.1L88.3,254.1Q87.9,252.9 85.4,251.2L80.9,248.0Q78.4,246.2 78.4,243.3L78.4,240.4L78.4,237.6Q78.4,234.7 80.9,232.9L85.4,229.7Q87.9,228.0 88.3,226.8L88.3,226.8Q88.7,225.6 87.2,225.2L87.2,225.2Q85.8,224.7 82.8,224.8L73.8,225.3L69.7,225.3Q66.7,225.3 64.6,223.1L63.5,221.8Q61.5,219.6 59.7,218.6L57.9,217.6L54.5,216.6L50.5,215.7Q47.6,215.0 46.7,213.4L46.7,213.4Q45.8,211.8 44.9,213.4L44.9,213.4Q44.0,215.0 44.2,218.0L45.8,240.5Z"/><path stroke="#87bee0" fill="#87bee0" d="M45.8,240.5L44.4,261.2Q44.1,264.1 45.0,265.6L45.0,265.6Q45.8,267.1 46.6,265.6L46.6,265.6Q47.5,264.1 50.4,263.5L53.9,262.7L57.1,261.8L58.8,260.8Q60.5,259.9 62.5,257.7L63.2,256.8Q65.3,254.6 68.3,254.5L72.7,254.4L78.8,254.6Q81.8,254.7 83.1,254.2L83.1,254.2Q84.5,253.8 84.1,252.8L84.1,252.8Q83.7,251.7 81.3,250.0L77.8,247.4Q75.4,245.7 75.4,242.7L75.4,238.2Q75.4,235.2 77.8,233.5L81.3,230.9Q83.7,229.2 84.1,228.1L84.1,228.1Q84.5,227.1 83.1,226.7L83.1,226.7Q81.8,226.2 78.8,226.3L72.7,226.5L68.3,226.4Q65.3,226.3 63.2,224.1L62.5,223.2Q60.5,221.0 58.8,220.1L57.1,219.1L53.9,218.2L50.4,217.4Q47.5,216.8 46.6,215.3L46.6,215.3Q45.8,213.8 45.0,215.3L45.0,215.3Q44.1,216.8 44.4,219.7L45.8,240.5Z"/><path stroke="#8bbfd6" fill="#8bbfd6" d="M45.8,240.5L44.5,259.5Q44.3,262.5 45.0,263.8L45.0,263.8Q45.8,265.1 46.6,263.8L46.6,263.8Q47.3,262.5 50.3,261.8L53.4,261.0Q56.4,260.3 57.9,259.5L57.9,259.5Q59.5,258.7 61.5,256.4L62.0,255.9Q63.9,253.7 66.9,253.4L70.0,253.2L75.2,253.2Q78.2,253.3 79.4,252.9L79.4,252.9Q80.6,252.5 80.3,251.5L80.3,251.5Q80.0,250.6 77.6,248.8L75.0,247.0Q72.6,245.2 72.6,242.2L72.6,238.7Q72.6,235.7 75.0,233.9L77.6,232.1Q80.0,230.3 80.3,229.4L80.3,229.4Q80.6,228.4 79.4,228.0L79.4,228.0Q78.2,227.6 75.2,227.7L70.0,227.7L66.9,227.5Q63.9,227.2 62.0,225.0L61.5,224.5Q59.5,222.2 57.9,221.4L57.9,221.4Q56.4,220.6 53.4,219.9L50.3,219.1Q47.3,218.4 46.6,217.1L46.6,217.1Q45.8,215.8 45.0,217.1L45.0,217.1Q44.3,218.4 44.5,221.4L45.8,240.5Z"/><path stroke="#8bbfcb" fill="#8bbfcb" d="M45.8,240.5L44.6,258.0Q44.4,261.0 45.1,262.2L45.1,262.2Q45.8,263.3 46.5,262.2L46.5,262.2Q47.2,261.0 50.2,260.3L52.7,259.7Q55.7,259.0 57.1,258.3L57.1,258.3Q58.6,257.5 60.6,255.2L60.8,255.0Q62.7,252.8 65.1,252.5L67.5,252.2L72.0,252.1Q75.0,252.0 76.1,251.6L76.1,251.6Q77.2,251.3 76.9,250.4L76.9,250.4Q76.6,249.6 74.2,247.8L72.5,246.5Q70.1,244.7 70.1,242.6L70.1,240.4L70.1,238.3Q70.1,236.2 72.5,234.4L74.2,233.1Q76.6,231.3 76.9,230.5L76.9,230.5Q77.2,229.6 76.1,229.3L76.1,229.3Q75.0,228.9 72.0,228.8L67.5,228.7L65.1,228.4Q62.7,228.1 60.8,225.9L60.6,225.7Q58.6,223.4 57.1,222.6L57.1,222.6Q55.7,221.9 52.7,221.2L50.2,220.6Q47.2,219.9 46.5,218.7L46.5,218.7Q45.8,217.6 45.1,218.7L45.1,218.7Q44.4,219.9 44.6,222.9L45.8,240.5Z"/><path stroke="#88bdbd" fill="#88bdbd" d="M45.8,240.5L44.7,256.6Q44.5,259.6 45.1,260.6L45.1,260.6Q45.8,261.7 46.5,260.6L46.5,260.6Q47.1,259.6 50.1,258.9L52.1,258.5Q55.0,257.8 56.4,257.1L56.4,257.1Q57.8,256.4 59.7,254.2L59.7,254.2Q61.6,252.0 64.1,251.6L66.7,251.2L69.4,251.0Q72.1,250.9 73.1,250.5L73.1,250.5Q74.1,250.2 73.8,249.5L73.8,249.5Q73.5,248.7 71.2,246.8L70.4,246.2Q68.1,244.4 67.9,242.4L67.8,240.4L67.9,238.5Q68.1,236.5 70.4,234.7L71.2,234.1Q73.5,232.2 73.8,231.4L73.8,231.4Q74.1,230.7 73.1,230.4L73.1,230.4Q72.1,230.0 69.4,229.9L66.7,229.7L64.1,229.3Q61.6,228.9 59.7,226.7L59.7,226.7Q57.8,224.5 56.4,223.8L56.4,223.8Q55.0,223.1 52.1,222.4L50.1,222.0Q47.1,221.3 46.5,220.3L46.5,220.3Q45.8,219.2 45.1,220.3L45.1,220.3Q44.5,221.3 44.7,224.3L45.8,240.5Z"/><path stroke="#84b9aa" fill="#84b9aa" d="M45.8,240.5L44.8,255.2Q44.6,258.1 45.2,259.2L45.2,259.2Q45.8,260.2 46.4,259.2L46.4,259.2Q47.0,258.1 50.0,257.6L51.5,257.3Q54.4,256.7 55.7,256.0L55.7,256.0Q57.0,255.3 58.8,253.3L58.8,253.3Q60.5,251.2 62.5,250.8L64.5,250.3L69.5,249.8L70.4,249.5Q71.3,249.3 71.1,248.6L71.1,248.6Q70.8,247.9 68.5,246.0L68.5,246.0Q66.3,244.1 66.0,242.3L66.0,242.3Q65.7,240.4 66.0,238.6L66.0,238.6Q66.3,236.8 68.5,234.9L68.5,234.9Q70.8,233.0 71.1,232.3L71.1,232.3Q71.3,231.6 70.4,231.4L69.5,231.1L64.5,230.6L62.5,230.1Q60.5,229.7 58.8,227.6L58.8,227.6Q57.0,225.6 55.7,224.9L55.7,224.9Q54.4,224.2 51.5,223.6L50.0,223.3Q47.0,222.8 46.4,221.7L46.4,221.7Q45.8,220.7 45.2,221.7L45.2,221.7Q44.6,222.8 44.8,225.7L45.8,240.5Z"/><path stroke="#7fb695" fill="#7fb695" d="M45.8,240.5L44.9,253.5Q44.7,256.5 45.2,257.6L45.2,257.6Q45.8,258.8 46.4,257.6L46.4,257.6Q46.9,256.5 48.0,256.3L49.1,256.0L51.4,255.7Q53.7,255.3 54.9,254.7L54.9,254.7Q56.1,254.2 57.1,253.3L58.1,252.3L58.8,251.4Q59.6,250.5 61.1,250.0L62.6,249.6L67.2,248.9L68.0,248.6Q68.8,248.4 68.6,247.8L68.6,247.8Q68.3,247.1 66.5,245.5L66.5,245.5Q64.6,243.8 64.3,242.1L64.3,242.1Q63.9,240.4 64.3,238.8L64.3,238.8Q64.6,237.1 66.5,235.4L66.5,235.4Q68.3,233.8 68.6,233.1L68.6,233.1Q68.8,232.5 68.0,232.3L67.2,232.0L62.6,231.3L61.1,230.9Q59.6,230.4 58.8,229.5L58.1,228.6L57.1,227.6Q56.1,226.7 54.9,226.2L54.9,226.2Q53.7,225.6 51.4,225.2L49.1,224.9L48.0,224.6Q46.9,224.4 46.4,223.3L46.4,223.3Q45.8,222.1 45.2,223.3L45.2,223.3Q44.7,224.4 44.9,227.4L45.8,240.5Z"/><path stroke="#7db483" fill="#7db483" d="M45.8,240.5L45.0,252.0Q44.8,255.0 45.3,256.0L45.3,256.0Q45.8,257.0 46.3,256.0L46.3,256.0Q46.8,255.0 47.8,254.8L48.8,254.6L50.9,254.3Q53.0,254.0 54.1,253.5L54.1,253.5Q55.2,253.0 56.2,252.2L57.1,251.4L57.8,250.5Q58.5,249.7 60.3,249.2L62.0,248.7L65.1,248.1L65.8,247.8Q66.5,247.6 66.3,247.0L66.3,247.0Q66.1,246.5 64.6,245.0L64.6,245.0Q63.1,243.5 62.6,242.0L62.6,242.0Q62.2,240.4 62.6,238.9L62.6,238.9Q63.1,237.4 64.6,235.9L64.6,235.9Q66.1,234.4 66.3,233.9L66.3,233.9Q66.5,233.3 65.8,233.1L65.1,232.8L62.0,232.2L60.3,231.7Q58.5,231.2 57.8,230.4L57.1,229.5L56.2,228.7Q55.2,227.9 54.1,227.4L54.1,227.4Q53.0,226.9 50.9,226.6L48.8,226.3L47.8,226.1Q46.8,225.9 46.3,224.9L46.3,224.9Q45.8,223.9 45.3,224.9L45.3,224.9Q44.8,225.9 45.0,228.9L45.8,240.5Z"/><path stroke="#7bb36d" fill="#7bb36d" d="M45.8,240.5L45.1,250.7Q44.9,253.7 45.3,254.5L45.3,254.5Q45.8,255.4 46.3,254.5L46.3,254.5Q46.7,253.7 47.6,253.5L48.5,253.3L50.4,253.0Q52.4,252.8 53.4,252.4L53.4,252.4Q54.4,251.9 55.3,251.2L56.2,250.5L56.8,249.7Q57.4,248.9 60.3,248.1L61.6,247.7Q64.5,246.9 64.3,246.4L64.3,246.4Q64.1,245.9 62.9,244.6L62.9,244.6Q61.7,243.3 61.2,241.9L61.2,241.9Q60.6,240.4 61.2,239.0L61.2,239.0Q61.7,237.6 62.9,236.3L62.9,236.3Q64.1,235.0 64.3,234.5L64.3,234.5Q64.5,234.0 61.6,233.2L60.3,232.8Q57.4,232.0 56.8,231.2L56.2,230.4L55.3,229.7Q54.4,229.0 53.4,228.5L53.4,228.5Q52.4,228.1 50.4,227.9L48.5,227.6L47.6,227.4Q46.7,227.2 46.3,226.4L46.3,226.4Q45.8,225.5 45.3,226.4L45.3,226.4Q44.9,227.2 45.1,230.2L45.8,240.5Z"/><path stroke="#79b158" fill="#79b158" d="M45.8,240.5L45.2,249.4Q45.0,252.4 45.4,253.2L45.4,253.2Q45.8,253.9 46.2,253.2L46.2,253.2Q46.6,252.4 47.5,252.3L48.3,252.1L50.0,251.9Q51.8,251.7 52.7,251.3L52.7,251.3Q53.7,250.9 54.5,250.3L55.3,249.6L55.9,248.9Q56.4,248.2 59.3,247.3L59.7,247.2Q62.6,246.3 62.5,245.8L62.5,245.8Q62.3,245.3 61.4,244.2L61.4,244.2Q60.4,243.0 59.8,241.7L59.8,241.7Q59.2,240.4 59.8,239.2L59.8,239.2Q60.4,237.9 61.4,236.7L61.4,236.7Q62.3,235.6 62.5,235.1L62.5,235.1Q62.6,234.6 59.7,233.7L59.3,233.6Q56.4,232.7 55.9,232.0L55.3,231.3L54.5,230.6Q53.7,230.0 52.7,229.6L52.7,229.6Q51.8,229.2 50.0,229.0L48.3,228.8L47.5,228.6Q46.6,228.5 46.2,227.7L46.2,227.7Q45.8,227.0 45.4,227.7L45.4,227.7Q45.0,228.5 45.2,231.5L45.8,240.5Z"/><path stroke="#78b045" fill="#78b045" d="M45.8,240.5L45.3,248.3Q45.0,251.3 45.4,252.1L45.4,252.1Q45.8,252.8 46.2,252.1L46.2,252.1Q46.6,251.3 47.3,251.2L48.0,251.0L49.6,250.9Q51.2,250.7 52.1,250.4L52.1,250.4Q53.0,250.0 53.7,249.4L54.5,248.8L55.0,248.2Q55.5,247.5 58.2,246.6L58.2,246.6Q60.9,245.7 60.8,245.3L60.8,245.3Q60.7,244.9 59.9,243.8L59.2,242.8L58.6,241.6Q58.0,240.4 58.6,239.3L59.2,238.1L59.9,237.1Q60.7,236.0 60.8,235.6L60.8,235.6Q60.9,235.2 58.2,234.3L58.2,234.3Q55.5,233.4 55.0,232.7L54.5,232.1L53.7,231.5Q53.0,230.9 52.1,230.5L52.1,230.5Q51.2,230.2 49.6,230.0L48.0,229.9L47.3,229.7Q46.6,229.6 46.2,228.8L46.2,228.8Q45.8,228.1 45.4,228.8L45.4,228.8Q45.0,229.6 45.3,232.6L45.8,240.5Z"/><path stroke="#74ab34" fill="#74ab34" d="M45.8,240.5L45.3,247.3Q45.1,250.3 45.5,251.1L45.5,251.1Q45.8,251.8 46.1,251.1L46.1,251.1Q46.5,250.3 47.2,250.2L47.8,250.0L49.3,249.9Q50.8,249.8 51.6,249.5L51.6,249.5Q52.4,249.2 53.0,248.7L53.7,248.1L54.2,247.5Q54.7,246.9 57.1,246.1L57.1,246.1Q59.4,245.2 59.3,244.8L59.2,244.4L58.0,242.4Q56.8,240.4 58.0,238.5L59.2,236.5L59.3,236.1Q59.4,235.7 57.1,234.8L57.1,234.8Q54.7,234.0 54.2,233.4L53.7,232.8L53.0,232.2Q52.4,231.7 51.6,231.4L51.6,231.4Q50.8,231.1 49.3,231.0L47.8,230.9L47.2,230.7Q46.5,230.6 46.1,229.8L46.1,229.8Q45.8,229.1 45.5,229.8L45.5,229.8Q45.1,230.6 45.3,233.6L45.8,240.5Z"/><path stroke="#71a62e" fill="#71a62e" d="M45.8,240.5L45.4,246.4Q45.2,249.4 45.5,250.1L45.5,250.1Q45.8,250.9 46.1,250.1L46.1,250.1Q46.4,249.4 47.0,249.3L47.6,249.1L49.0,249.1Q50.3,249.0 51.1,248.7L51.1,248.7Q51.8,248.4 52.4,247.9L53.1,247.5L53.5,246.9Q54.0,246.4 56.0,245.5L56.0,245.5Q58.1,244.7 58.0,244.4L57.9,244.0L56.8,242.2Q55.8,240.4 56.8,238.7L57.9,236.9L58.0,236.5Q58.1,236.2 56.0,235.4L56.0,235.4Q54.0,234.5 53.5,234.0L53.1,233.4L52.4,233.0Q51.8,232.5 51.1,232.2L51.1,232.2Q50.3,231.9 49.0,231.8L47.6,231.8L47.0,231.6Q46.4,231.5 46.1,230.8L46.1,230.8Q45.8,230.0 45.5,230.8L45.5,230.8Q45.2,231.5 45.4,234.5L45.8,240.5Z"/><path stroke="#73a72d" fill="#73a72d" d="M45.8,240.5L45.4,245.5Q45.2,248.5 45.5,249.3L45.5,249.3Q45.8,250.1 46.1,249.3L46.1,249.3Q46.4,248.5 46.9,248.4L47.5,248.3L48.7,248.3Q49.9,248.2 50.6,248.0L50.6,248.0Q51.3,247.7 51.9,247.3L52.4,246.9L52.9,246.4Q53.3,245.9 55.1,245.1L55.1,245.1Q56.9,244.3 55.9,242.4L55.9,242.4Q54.9,240.4 55.9,238.5L55.9,238.5Q56.9,236.6 55.1,235.8L55.1,235.8Q53.3,235.0 52.9,234.5L52.4,234.0L51.9,233.6Q51.3,233.2 50.6,232.9L50.6,232.9Q49.9,232.7 48.7,232.6L47.5,232.6L46.9,232.5Q46.4,232.4 46.1,231.6L46.1,231.6Q45.8,230.8 45.5,231.6L45.5,231.6Q45.2,232.4 45.4,235.4L45.8,240.5Z"/><path stroke="#75a72d" fill="#75a72d" d="M45.8,240.5L45.5,244.8Q45.3,247.8 45.5,248.5L45.5,248.5Q45.8,249.3 46.1,248.5L46.1,248.5Q46.3,247.8 47.9,247.7L47.9,247.7Q49.6,247.5 50.2,247.3L50.2,247.3Q50.8,247.1 51.3,246.7L51.9,246.3L52.3,245.9Q52.6,245.4 53.8,244.8L55.0,244.2L55.4,244.0Q55.8,243.9 54.9,242.2L54.9,242.2Q54.0,240.4 54.9,238.7L54.9,238.7Q55.8,237.0 55.4,236.9L55.0,236.7L53.8,236.1Q52.6,235.5 52.3,235.0L51.9,234.6L51.3,234.2Q50.8,233.8 50.2,233.6L50.2,233.6Q49.6,233.4 47.9,233.2L47.9,233.2Q46.3,233.1 46.1,232.4L46.1,232.4Q45.8,231.6 45.5,232.4L45.5,232.4Q45.3,233.1 45.5,236.1L45.8,240.5Z"/><path stroke="#76a82c" fill="#76a82c" d="M45.8,240.5L45.5,244.1Q45.3,247.1 45.6,247.8L45.6,247.8Q45.8,248.6 46.0,247.8L46.0,247.8Q46.3,247.1 47.7,247.0L47.7,247.0Q49.2,246.9 49.8,246.7L49.8,246.7Q50.4,246.5 50.9,246.2L51.4,245.8L51.7,245.4Q52.1,245.0 53.1,244.4L54.1,243.8L54.5,243.7Q54.8,243.6 54.0,242.0L54.0,242.0Q53.2,240.4 54.0,238.9L54.0,238.9Q54.8,237.3 54.5,237.2L54.1,237.1L53.1,236.5Q52.1,235.9 51.7,235.5L51.4,235.1L50.9,234.7Q50.4,234.4 49.8,234.2L49.8,234.2Q49.2,234.0 47.7,233.9L47.7,233.9Q46.3,233.8 46.0,233.1L46.0,233.1Q45.8,232.3 45.6,233.1L45.6,233.1Q45.3,233.8 45.5,236.8L45.8,240.5Z"/><path stroke="#78a82c" fill="#78a82c" d="M45.8,240.5L45.6,243.5Q45.4,246.5 45.6,247.2L45.6,247.2Q45.8,247.9 46.0,247.2L46.0,247.2Q46.2,246.5 47.6,246.4L47.6,246.4Q48.9,246.3 49.5,246.2L49.5,246.2Q50.0,246.0 50.4,245.7L50.9,245.4L51.9,244.3L52.6,243.9Q53.3,243.4 53.6,243.3L53.6,243.3Q53.9,243.2 53.2,241.8L53.2,241.8Q52.5,240.4 53.2,239.1L53.2,239.1Q53.9,237.7 53.6,237.6L53.6,237.6Q53.3,237.5 52.6,237.0L51.9,236.6L50.9,235.5L50.4,235.2Q50.0,234.9 49.5,234.7L49.5,234.7Q48.9,234.6 47.6,234.5L47.6,234.5Q46.2,234.4 46.0,233.7L46.0,233.7Q45.8,233.0 45.6,233.7L45.6,233.7Q45.4,234.4 45.6,237.4L45.8,240.5Z"/><path stroke="#7caa2c" fill="#7caa2c" d="M45.8,240.5L45.6,243.2Q45.4,245.9 45.6,246.6L45.6,246.6Q45.8,247.3 46.0,246.6L46.0,246.6Q46.2,245.9 47.4,245.9L47.4,245.9Q48.7,245.8 49.1,245.7L49.1,245.7Q49.6,245.5 50.8,244.6L51.9,243.6L52.5,243.3Q53.1,243.0 52.5,241.7L52.5,241.7Q51.9,240.4 52.5,239.2L52.5,239.2Q53.1,237.9 52.5,237.6L51.9,237.3L50.8,236.3Q49.6,235.4 49.1,235.2L49.1,235.2Q48.7,235.1 47.4,235.0L47.4,235.0Q46.2,235.0 46.0,234.3L46.0,234.3Q45.8,233.6 45.6,234.3L45.6,234.3Q45.4,235.0 45.6,237.7L45.8,240.5Z"/><path stroke="#7fac2c" fill="#7fac2c" d="M45.8,240.5L45.6,242.9Q45.5,245.4 45.6,246.1L45.6,246.1Q45.8,246.8 46.0,246.1L46.0,246.1Q46.1,245.4 47.3,245.4L47.3,245.4Q48.4,245.4 48.8,245.2L48.8,245.2Q49.3,245.1 49.7,244.8L50.1,244.6L51.0,243.7Q51.9,242.9 52.2,242.8L52.2,242.8Q52.4,242.7 51.9,241.6L51.9,241.6Q51.3,240.4 51.9,239.3L51.9,239.3Q52.4,238.2 52.2,238.1L52.2,238.1Q51.9,238.0 51.0,237.2L50.1,236.3L49.7,236.1Q49.3,235.8 48.8,235.7L48.8,235.7Q48.4,235.5 47.3,235.5L47.3,235.5Q46.1,235.5 46.0,234.8L46.0,234.8Q45.8,234.1 45.6,234.8L45.6,234.8Q45.5,235.5 45.6,238.0L45.8,240.5Z"/><path stroke="#83ad2c" fill="#83ad2c" d="M45.8,240.5L45.6,242.7Q45.5,244.9 45.6,245.6L45.6,245.6Q45.8,246.3 46.0,245.6L46.0,245.6Q46.1,244.9 47.1,244.9L47.1,244.9Q48.2,244.9 48.6,244.8L48.6,244.8Q49.0,244.7 49.3,244.4L49.7,244.2L50.5,243.4Q51.3,242.6 51.5,242.6L51.5,242.6Q51.7,242.5 51.3,241.5L51.3,241.5Q50.8,240.4 51.3,239.4L51.3,239.4Q51.7,238.4 51.5,238.3L51.5,238.3Q51.3,238.3 50.5,237.5L49.7,236.7L49.3,236.5Q49.0,236.2 48.6,236.1L48.6,236.1Q48.2,236.0 47.1,236.0L47.1,236.0Q46.1,236.0 46.0,235.3L46.0,235.3Q45.8,234.6 45.6,235.3L45.6,235.3Q45.5,236.0 45.6,238.2L45.8,240.5Z"/><path stroke="#86af2c" fill="#86af2c" d="M45.8,240.5L45.7,242.5Q45.5,244.5 45.7,245.2L45.7,245.2Q45.8,245.8 45.9,245.2L45.9,245.2Q46.1,244.5 47.0,244.5L47.0,244.5Q48.0,244.5 48.3,244.4L48.3,244.4Q48.7,244.3 49.0,244.1L49.4,243.9L50.1,243.2Q50.8,242.4 51.0,242.4L51.0,242.4Q51.1,242.3 50.7,241.4L50.7,241.4Q50.4,240.4 50.7,239.5L50.7,239.5Q51.1,238.6 51.0,238.5L51.0,238.5Q50.8,238.5 50.1,237.7L49.4,237.0L49.0,236.8Q48.7,236.6 48.3,236.5L48.3,236.5Q48.0,236.4 47.0,236.4L47.0,236.4Q46.1,236.4 45.9,235.7L45.9,235.7Q45.8,235.1 45.7,235.7L45.7,235.7Q45.5,236.4 45.7,238.4L45.8,240.5Z"/><path stroke="#8ab12c" fill="#8ab12c" d="M45.8,240.5L45.7,242.3Q45.5,244.1 45.7,244.7L45.7,244.7Q45.8,245.4 45.9,244.7L45.9,244.7Q46.1,244.1 46.9,244.2L46.9,244.2Q47.8,244.2 48.1,244.1L48.1,244.1Q48.5,244.0 48.8,243.8L48.8,243.8Q49.1,243.6 49.7,242.9L49.7,242.9Q50.3,242.2 50.5,242.2L50.5,242.2Q50.6,242.1 50.3,241.3L50.3,241.3Q49.9,240.4 50.3,239.6L50.3,239.6Q50.6,238.8 50.5,238.7L50.5,238.7Q50.3,238.7 49.7,238.0L49.7,238.0Q49.1,237.3 48.8,237.1L48.8,237.1Q48.5,236.9 48.1,236.8L48.1,236.8Q47.8,236.7 46.9,236.7L46.9,236.7Q46.1,236.8 45.9,236.2L45.9,236.2Q45.8,235.5 45.7,236.2L45.7,236.2Q45.5,236.8 45.7,238.6L45.8,240.5Z"/><path stroke="#8fb32c" fill="#8fb32c" d="M45.8,240.5L45.7,242.1Q45.6,243.8 45.7,244.4L45.7,244.4Q45.8,245.0 45.9,244.4L45.9,244.4Q46.0,243.8 46.8,243.8L46.8,243.8Q47.6,243.8 47.9,243.8L47.9,243.8Q48.2,243.7 48.5,243.5L48.5,243.5Q48.8,243.3 49.3,242.7L49.3,242.7Q49.8,242.0 50.0,242.0L50.0,242.0Q50.1,241.9 49.8,241.2L49.8,241.2Q49.5,240.4 49.8,239.7L49.8,239.7Q50.1,239.0 50.0,238.9L50.0,238.9Q49.8,238.9 49.3,238.2L49.3,238.2Q48.8,237.6 48.5,237.4L48.5,237.4Q48.2,237.2 47.9,237.1L47.9,237.1Q47.6,237.1 46.8,237.1L46.8,237.1Q46.0,237.1 45.9,236.5L45.9,236.5Q45.8,235.9 45.7,236.5L45.7,236.5Q45.6,237.1 45.7,238.8L45.8,240.5Z"/><path stroke="#93b42c" fill="#93b42c" d="M45.8,240.5L45.7,242.0Q45.6,243.5 45.7,244.0L45.7,244.0Q45.8,244.6 45.9,244.0L45.9,244.0Q46.0,243.5 46.7,243.5L46.7,243.5Q47.4,243.5 47.7,243.5L47.7,243.5Q48.0,243.4 48.3,243.2L48.3,243.2Q48.5,243.1 49.0,242.5L49.0,242.5Q49.4,241.9 49.6,241.8L49.6,241.8Q49.7,241.8 49.4,241.1L49.4,241.1Q49.2,240.4 49.4,239.8L49.4,239.8Q49.7,239.1 49.6,239.1L49.6,239.1Q49.4,239.0 49.0,238.4L49.0,238.4Q48.5,237.8 48.3,237.7L48.3,237.7Q48.0,237.5 47.7,237.4L47.7,237.4Q47.4,237.4 46.7,237.4L46.7,237.4Q46.0,237.4 45.9,236.9L45.9,236.9Q45.8,236.3 45.7,236.9L45.7,236.9Q45.6,237.4 45.7,239.0L45.8,240.5Z"/><path stroke="#97b62c" fill="#97b62c" d="M45.8,240.5L45.7,241.8Q45.6,243.2 45.7,243.7L45.7,243.7Q45.8,244.3 45.9,243.7L45.9,243.7Q46.0,243.2 46.6,243.2L46.6,243.2Q47.3,243.3 47.6,243.2L47.6,243.2Q47.8,243.1 48.1,243.0L48.1,243.0Q48.3,242.9 48.7,242.3L48.7,242.3Q49.1,241.7 49.2,241.7L49.2,241.7Q49.3,241.7 49.1,241.1L49.1,241.1Q48.9,240.4 49.1,239.8L49.1,239.8Q49.3,239.2 49.2,239.2L49.2,239.2Q49.1,239.2 48.7,238.6L48.7,238.6Q48.3,238.0 48.1,237.9L48.1,237.9Q47.8,237.8 47.6,237.7L47.6,237.7Q47.3,237.6 46.6,237.7L46.6,237.7Q46.0,237.7 45.9,237.2L45.9,237.2Q45.8,236.6 45.7,237.2L45.7,237.2Q45.6,237.7 45.7,239.1L45.8,240.5Z"/><path stroke="#9cb82c" fill="#9cb82c" d="M45.8,240.5L45.6,242.9L45.7,243.4Q45.8,243.9 45.9,243.4L45.9,243.4Q46.0,242.9 46.6,243.0L46.6,243.0Q47.2,243.0 47.4,243.0L47.4,243.0Q47.6,242.9 48.0,242.6L48.0,242.6Q48.4,242.3 48.6,242.0L48.6,242.0Q48.8,241.6 48.9,241.6L48.9,241.6Q49.0,241.5 48.8,241.0L48.8,241.0Q48.6,240.4 48.8,239.9L48.8,239.9Q49.0,239.4 48.9,239.3L48.9,239.3Q48.8,239.3 48.6,238.9L48.6,238.9Q48.4,238.6 48.0,238.3L48.0,238.3Q47.6,238.0 47.4,237.9L47.4,237.9Q47.2,237.9 46.6,237.9L46.6,237.9Q46.0,238.0 45.9,237.5L45.9,237.5Q45.8,237.0 45.7,237.5L45.6,238.0L45.8,240.5Z"/><path stroke="#a5bc2c" fill="#a5bc2c" d="M45.8,240.5L45.6,242.7L45.7,243.2Q45.8,243.7 45.9,243.2L45.9,243.2Q46.0,242.7 46.7,242.7L46.7,242.7Q47.5,242.7 47.8,242.4L47.8,242.4Q48.2,242.2 48.3,241.8L48.3,241.8Q48.5,241.5 48.6,241.5L48.6,241.5Q48.7,241.4 48.5,240.9L48.5,240.9Q48.3,240.4 48.5,240.0L48.5,240.0Q48.7,239.5 48.6,239.4L48.6,239.4Q48.5,239.4 48.3,239.1L48.3,239.1Q48.2,238.7 47.8,238.5L47.8,238.5Q47.5,238.2 46.7,238.2L46.7,238.2Q46.0,238.2 45.9,237.7L45.9,237.7Q45.8,237.2 45.7,237.7L45.6,238.2L45.8,240.5Z"/><path stroke="#afc02c" fill="#afc02c" d="M45.8,240.5L45.7,242.5L45.7,242.9Q45.8,243.4 45.9,242.9L45.9,242.9Q45.9,242.5 46.6,242.5L46.6,242.5Q47.3,242.5 47.7,242.3L47.7,242.3Q48.0,242.0 48.1,241.7L48.1,241.7Q48.2,241.4 48.3,241.4L48.3,241.4Q48.4,241.3 48.2,240.9L48.2,240.9Q48.1,240.4 48.2,240.0L48.2,240.0Q48.4,239.6 48.3,239.5L48.3,239.5Q48.2,239.5 48.1,239.2L48.1,239.2Q48.0,238.9 47.7,238.6L47.7,238.6Q47.3,238.4 46.6,238.4L46.6,238.4Q45.9,238.4 45.9,238.0L45.9,238.0Q45.8,237.5 45.7,238.0L45.7,238.4L45.8,240.5Z"/><path stroke="#b9c62c" fill="#b9c62c" d="M45.8,240.5L45.7,242.3L45.7,242.7Q45.8,243.2 45.9,242.7L45.9,242.7Q45.9,242.3 46.6,242.3L46.6,242.3Q47.2,242.3 47.5,242.1L47.5,242.1Q47.8,241.9 47.9,241.6L47.9,241.6Q48.0,241.3 48.0,241.3L48.0,241.3Q48.1,241.3 48.0,240.9L48.0,240.9Q47.9,240.4 48.0,240.0L48.0,240.0Q48.1,239.6 48.0,239.6L48.0,239.6Q48.0,239.6 47.9,239.3L47.9,239.3Q47.8,239.0 47.5,238.8L47.5,238.8Q47.2,238.6 46.6,238.6L46.6,238.6Q45.9,238.6 45.9,238.2L45.9,238.2Q45.8,237.7 45.7,238.2L45.7,238.6L45.8,240.5Z"/><path stroke="#c3cc2c" fill="#c3cc2c" d="M45.8,240.5L45.7,242.1L45.7,242.5Q45.8,243.0 45.9,242.5L45.9,242.5Q45.9,242.1 46.5,242.1L46.5,242.1Q47.1,242.2 47.4,242.0L47.4,242.0Q47.6,241.8 47.7,241.5L47.7,241.5Q47.8,241.2 47.8,241.2L47.8,241.2Q47.9,241.2 47.8,240.8L47.8,240.8Q47.7,240.4 47.8,240.1L47.8,240.1Q47.9,239.7 47.8,239.7L47.8,239.7Q47.8,239.7 47.7,239.4L47.7,239.4Q47.6,239.1 47.4,238.9L47.4,238.9Q47.1,238.7 46.5,238.8L46.5,238.8Q45.9,238.8 45.9,238.4L45.9,238.4Q45.8,237.9 45.7,238.4L45.7,238.8L45.8,240.5Z"/><path stroke="#cdd22c" fill="#cdd22c" d="M45.8,240.5L45.7,242.0L45.7,242.4Q45.8,242.8 45.9,242.4L45.9,242.4Q45.9,242.0 46.4,242.0L46.4,242.0Q47.0,242.0 47.2,241.8L47.2,241.8Q47.5,241.7 47.5,241.4L47.5,241.4Q47.6,241.1 47.6,241.1L47.6,241.1Q47.7,241.1 47.6,240.8L47.6,240.8Q47.5,240.4 47.6,240.1L47.6,240.1Q47.7,239.8 47.6,239.8L47.6,239.8Q47.6,239.8 47.5,239.5L47.5,239.5Q47.5,239.2 47.2,239.1L47.2,239.1Q47.0,238.9 46.4,238.9L46.4,238.9Q45.9,238.9 45.9,238.5L45.9,238.5Q45.8,238.1 45.7,238.5L45.7,238.9L45.8,240.5Z"/><path stroke="#d7d92b" fill="#d7d92b" d="M45.8,240.5L45.8,241.5Q45.8,242.6 45.8,242.2L45.8,242.2Q45.9,241.8 46.2,241.9L46.2,241.9Q46.6,241.9 46.9,241.8L46.9,241.8Q47.1,241.7 47.3,241.4L47.3,241.4Q47.5,241.0 47.4,240.7L47.4,240.7Q47.3,240.4 47.4,240.2L47.4,240.2Q47.5,239.9 47.4,239.6L47.4,239.6Q47.3,239.3 47.1,239.2L47.1,239.2Q46.9,239.0 46.4,239.0L46.4,239.0Q45.9,239.1 45.8,238.7L45.8,238.7Q45.8,238.3 45.8,239.4L45.8,240.5Z"/><path stroke="#e1df2a" fill="#e1df2a" d="M45.8,240.5L45.8,241.4Q45.8,242.4 45.8,242.1L45.8,242.1Q45.9,241.7 46.2,241.7L46.2,241.7Q46.5,241.8 46.8,241.7L46.8,241.7Q47.0,241.6 47.2,241.3L47.2,241.3Q47.3,241.0 47.3,240.2L47.3,240.2Q47.2,239.4 47.0,239.3L47.0,239.3Q46.8,239.1 46.3,239.2L46.3,239.2Q45.9,239.2 45.8,238.8L45.8,238.8Q45.8,238.5 45.8,239.5L45.8,240.5Z"/><path stroke="#e9e329" fill="#e9e329" d="M45.8,240.5L45.8,241.4Q45.8,242.2 45.8,241.9L45.8,241.9Q45.9,241.6 46.2,241.6L46.2,241.6Q46.5,241.7 46.7,241.6L46.7,241.6Q46.9,241.5 47.1,241.2L47.1,241.2Q47.2,240.9 47.1,240.2L47.1,240.2Q47.1,239.5 46.9,239.4L46.9,239.4Q46.7,239.3 46.3,239.3L46.3,239.3Q45.9,239.3 45.8,239.0L45.8,239.0Q45.8,238.7 45.8,239.6L45.8,240.5Z"/><path stroke="#f0e828" fill="#f0e828" d="M45.8,240.5L45.8,241.3Q45.8,242.1 45.8,241.8L45.8,241.8Q45.9,241.5 46.1,241.5L46.1,241.5Q46.4,241.6 46.6,241.5L46.6,241.5Q46.8,241.4 46.9,241.2L46.9,241.2Q47.0,240.9 47.0,240.2L47.0,240.2Q47.0,239.6 46.8,239.5L46.8,239.5Q46.6,239.4 46.2,239.4L46.2,239.4Q45.9,239.4 45.8,239.1L45.8,239.1Q45.8,238.8 45.8,239.6L45.8,240.5Z"/><path stroke="#f2e724" fill="#f2e724" d="M45.8,240.5L45.8,241.2Q45.8,242.0 45.8,241.7L45.8,241.7Q45.9,241.4 46.3,241.4L46.3,241.4Q46.7,241.4 46.8,241.1L46.8,241.1Q46.9,240.8 46.9,240.3L46.9,240.3Q46.9,239.7 46.7,239.6L46.7,239.6Q46.5,239.5 46.2,239.5L46.2,239.5Q45.9,239.5 45.8,239.2L45.8,239.2Q45.8,238.9 45.8,239.7L45.8,240.5Z"/><path stroke="#f4e61f" fill="#f4e61f" d="M45.8,240.5L45.8,241.2Q45.8,241.9 45.8,241.6L45.8,241.6Q45.9,241.3 46.3,241.3L46.3,241.3Q46.7,241.3 46.7,241.0L46.7,241.0Q46.8,240.8 46.8,240.3L46.8,240.3Q46.8,239.7 46.6,239.6L46.6,239.6Q46.5,239.5 46.2,239.6L46.2,239.6Q45.9,239.6 45.8,239.3L45.8,239.3Q45.8,239.0 45.8,239.8L45.8,240.5Z"/><path stroke="#f3dc1e" fill="#f3dc1e" d="M45.8,240.5L45.8,241.1Q45.8,241.7 45.8,241.5L45.8,241.5Q45.9,241.3 46.2,241.3L46.2,241.3Q46.6,241.2 46.6,241.0L46.6,241.0Q46.7,240.8 46.7,240.3L46.7,240.3Q46.7,239.8 46.6,239.7L46.6,239.7Q46.4,239.6 46.1,239.6L46.1,239.6Q45.9,239.6 45.8,239.4L45.8,239.4Q45.8,239.2 45.8,239.8L45.8,240.5Z"/><path stroke="#f0ce1e" fill="#f0ce1e" d="M45.8,240.5L45.8,241.1Q45.8,241.6 45.8,241.5L45.8,241.5Q45.9,241.3 46.2,241.2L46.2,241.2Q46.6,241.1 46.6,240.8L46.7,240.6L46.6,240.2Q46.6,239.8 46.2,239.7L46.2,239.7Q45.9,239.6 45.8,239.4L45.8,239.4Q45.8,239.3 45.8,239.9L45.8,240.5Z"/><path stroke="#ebbf1e" fill="#ebbf1e" d="M45.8,240.5L45.8,241.0Q45.8,241.5 45.8,241.4L45.8,241.4Q45.9,241.2 46.2,241.1L46.2,241.1Q46.6,241.0 46.6,240.8L46.6,240.8Q46.6,240.6 46.6,240.2L46.6,240.2Q46.6,239.9 46.2,239.8L46.2,239.8Q45.9,239.7 45.8,239.5L45.8,239.5Q45.8,239.4 45.8,239.9L45.8,240.5Z"/><path stroke="#e5ac1f" fill="#e5ac1f" d="M45.8,240.5L45.8,241.0Q45.8,241.5 45.8,241.3L45.8,241.3Q45.9,241.2 46.2,241.1L46.2,241.1Q46.5,241.0 46.6,240.8L46.6,240.8Q46.6,240.6 46.6,240.3L46.6,240.3Q46.5,239.9 46.2,239.8L46.2,239.8Q45.9,239.7 45.8,239.6L45.8,239.6Q45.8,239.4 45.8,240.0L45.8,240.5Z"/><path stroke="#dd9920" fill="#dd9920" d="M45.8,240.5L45.8,240.9Q45.8,241.4 45.8,241.3L45.8,241.3Q45.9,241.2 46.2,241.1L46.2,241.1Q46.5,240.9 46.5,240.8L46.5,240.8Q46.6,240.6 46.5,240.3L46.5,240.3Q46.5,240.0 46.2,239.8L46.2,239.8Q45.9,239.7 45.8,239.6L45.8,239.6Q45.8,239.5 45.8,240.0L45.8,240.5Z"/><path stroke="#d5811f" fill="#d5811f" d="M45.8,240.5L45.8,240.9Q45.8,241.3 45.8,241.2L45.8,241.2Q45.8,241.1 46.1,241.0L46.1,241.0Q46.5,240.9 46.5,240.8L46.5,240.8Q46.5,240.6 46.5,240.3L46.5,240.3Q46.5,240.0 46.1,239.9L46.1,239.9Q45.8,239.8 45.8,239.7L45.8,239.7Q45.8,239.6 45.8,240.0L45.8,240.5Z"/><path stroke="#cc6a1e" fill="#cc6a1e" d="M45.8,240.5L45.8,240.9Q45.8,241.3 45.8,241.2L45.8,241.2Q45.8,241.1 46.1,241.0L46.1,241.0Q46.4,240.9 46.5,240.7L46.5,240.7Q46.5,240.6 46.5,240.3L46.5,240.3Q46.4,240.0 46.1,239.9L46.1,239.9Q45.8,239.8 45.8,239.7L45.8,239.7Q45.8,239.6 45.8,240.0L45.8,240.5Z"/><path stroke="#c7591d" fill="#c7591d" d="M45.8,240.5L45.8,240.9Q45.8,241.2 45.8,241.2L45.8,241.2Q45.8,241.1 46.1,241.0L46.1,241.0Q46.4,240.9 46.4,240.7L46.4,240.7Q46.5,240.6 46.4,240.3L46.4,240.3Q46.4,240.0 46.1,239.9L46.1,239.9Q45.8,239.8 45.8,239.7L45.8,239.7Q45.8,239.7 45.8,240.1L45.8,240.5Z"/><path stroke="#c2481c" fill="#c2481c" d="M45.8,240.5L45.8,240.8Q45.8,241.2 45.8,241.1L45.8,241.1Q45.8,241.0 46.1,240.9L46.1,240.9Q46.4,240.9 46.4,240.7L46.4,240.7Q46.4,240.6 46.4,240.3L46.4,240.3Q46.4,240.0 46.1,240.0L46.1,240.0Q45.8,239.9 45.8,239.8L45.8,239.8Q45.8,239.7 45.8,240.1L45.8,240.5Z"/><path stroke="#be371c" fill="#be371c" d="M45.8,240.5L45.8,240.8Q45.8,241.2 45.8,241.1L45.8,241.1Q45.8,241.0 46.1,240.9L46.1,240.9Q46.3,240.8 46.4,240.7L46.4,240.7Q46.4,240.6 46.4,240.3L46.4,240.3Q46.3,240.1 46.1,240.0L46.1,240.0Q45.8,239.9 45.8,239.8L45.8,239.8Q45.8,239.7 45.8,240.1L45.8,240.5Z"/><path stroke="#ba281c" fill="#ba281c" d="M45.8,240.5L45.8,240.8Q45.8,241.1 45.8,241.0L45.8,241.0Q45.8,241.0 46.1,240.9L46.1,240.9Q46.3,240.8 46.3,240.7L46.3,240.7Q46.4,240.5 46.3,240.3L46.3,240.3Q46.3,240.1 46.1,240.0L46.1,240.0Q45.8,239.9 45.8,239.9L45.8,239.9Q45.8,239.8 45.8,240.1L45.8,240.5Z"/><path stroke="#b81f1c" fill="#b81f1c" d="M45.8,240.5L45.8,240.8Q45.8,241.1 46.0,240.9L46.0,240.9Q46.3,240.8 46.3,240.7L46.3,240.7Q46.3,240.5 46.3,240.3L46.3,240.3Q46.3,240.1 46.0,240.0L46.0,240.0Q45.8,239.8 45.8,240.2L45.8,240.5Z"/><path stroke="#b71d1c" fill="#b71d1c" d="M45.8,240.5L45.8,240.8Q45.8,241.0 46.0,240.9L46.0,240.9Q46.2,240.8 46.3,240.7L46.3,240.7Q46.3,240.5 46.3,240.3L46.3,240.3Q46.2,240.1 46.0,240.0L46.0,240.0Q45.8,239.9 45.8,240.2L45.8,240.5Z"/><path stroke="#b61c1c" fill="#b61c1c" d="M45.8,240.5L45.8,240.7Q45.8,241.0 46.0,240.9L46.0,240.9Q46.2,240.7 46.2,240.6L46.2,240.6Q46.3,240.5 46.2,240.3L46.2,240.3Q46.2,240.2 46.0,240.0L46.0,240.0Q45.8,239.9 45.8,240.2L45.8,240.5Z"/><path stroke="#b61a1c" fill="#b61a1c" d="M45.8,240.5L45.8,240.7Q45.8,241.0 46.0,240.8L46.0,240.8Q46.2,240.7 46.2,240.6L46.2,240.6Q46.2,240.5 46.2,240.3L46.2,240.3Q46.2,240.2 46.0,240.1L46.0,240.1Q45.8,239.9 45.8,240.2L45.8,240.5Z"/><path stroke="#b5181c" fill="#b5181c" d="M45.8,240.5L45.8,240.7Q45.8,240.9 46.0,240.8L46.0,240.8Q46.1,240.7 46.2,240.6L46.2,240.6Q46.2,240.5 46.2,240.4L46.2,240.4Q46.1,240.2 46.0,240.1L46.0,240.1Q45.8,240.0 45.8,240.2L45.8,240.5Z"/><path stroke="#b5181c" fill="#b5181c" d="M45.8,240.5L45.8,240.7Q45.8,240.9 46.0,240.7L46.0,240.7Q46.2,240.5 46.1,240.4L46.1,240.4Q46.1,240.2 46.0,240.1L46.0,240.1Q45.8,240.0 45.8,240.3L45.8,240.5Z"/><path stroke="#b5171c" fill="#b5171c" d="M45.8,240.5L45.8,240.7Q45.8,240.8 46.0,240.7L46.0,240.7Q46.1,240.5 46.1,240.4L46.1,240.4Q46.1,240.2 45.9,240.2L45.9,240.2Q45.8,240.1 45.8,240.3L45.8,240.5Z"/><path stroke="#b5171b" fill="#b5171b" d="M45.8,240.5L45.8,240.6Q45.8,240.8 45.9,240.6L45.9,240.6Q46.1,240.5 46.1,240.4L46.1,240.4Q46.1,240.3 45.9,240.2L45.9,240.2Q45.8,240.1 45.8,240.3L45.8,240.5Z"/><path stroke="#b5161b" fill="#b5161b" d="M45.8,240.5L45.8,240.6Q45.8,240.7 45.9,240.6L45.9,240.6Q46.0,240.5 46.0,240.4L46.0,240.4Q46.0,240.3 45.9,240.2L45.9,240.2Q45.8,240.2 45.8,240.3L45.8,240.5Z"/><path stroke="#b5161b" fill="#b5161b" d="M45.8,240.5L45.8,240.6Q45.8,240.7 45.9,240.6L45.9,240.6Q46.0,240.5 45.9,240.3L45.9,240.3Q45.8,240.2 45.8,240.3L45.8,240.5Z"/><path stroke="#b5161b" fill="#b5161b" d="M45.8,240.5L45.8,240.6Q45.8,240.7 45.9,240.6L45.9,240.6Q46.0,240.5 45.9,240.4L45.9,240.4Q45.8,240.2 45.8,240.4L45.8,240.5Z"/></g><path d="M64.2,474.9L92.8,462.3L120.4,445.9L144.4,426.3L168.9,404.2L190.4,380.5L204.0,359.4Q205.6,356.9 208.5,357.7L242.2,366.9M241.3,112.3L219.2,119.0L210.0,122.0Q207.1,122.9 205.3,120.5L190.4,100.4L168.9,76.7L144.4,54.6L120.4,35.0L92.8,18.6L64.2,6.0M33.6,415.8L43.6,425.6Q45.8,427.6 48.0,425.6L55.9,417.9Q58.0,415.8 60.8,414.7L80.9,406.2L101.9,394.8L120.5,381.3L139.6,365.2L156.6,347.7L167.9,333.1Q169.7,330.7 172.6,331.5L188.9,336.4L197.7,338.9L207.2,341.3L250.8,351.2M250.2,128.6L227.5,134.1L207.1,139.4L188.9,144.5L172.6,149.4Q169.7,150.2 167.9,147.8L156.6,133.2L139.6,115.7L120.5,99.6L101.9,86.1L80.9,74.7L60.8,66.2Q58.0,65.1 55.9,63.0L48.0,55.3Q45.8,53.3 43.6,55.3L33.6,65.1M36.7,371.1L40.0,374.5L43.6,378.0Q45.8,380.1 48.0,378.0L51.6,374.5L53.2,372.8Q54.9,371.1 57.7,370.0L72.1,364.3L87.9,356.5L102.4,347.2L117.3,335.5L130.7,322.6L139.1,312.1Q140.9,309.7 143.8,310.5L163.9,316.0L179.0,319.8L195.8,323.6L214.7,327.5L259.4,335.5M273.9,294.3L253.3,282.7L240.4,275.8Q237.8,274.4 237.8,271.4L237.7,240.4L237.8,209.5Q237.8,206.5 240.4,205.1L253.3,198.2L273.9,186.6M259.2,145.0L224.9,151.2L195.8,157.3L179.0,161.1L163.9,164.9L143.8,170.4Q140.9,171.2 139.1,168.8L130.7,158.3L117.3,145.4L102.4,133.7L87.9,124.4L72.1,116.6L57.7,110.9Q54.9,109.8 53.2,108.1L51.6,106.4L48.0,102.9Q45.8,100.8 43.6,102.9L40.0,106.4L36.7,109.8M39.0,337.8L44.0,344.1Q45.8,346.4 47.6,344.1L50.7,340.1Q52.6,337.8 55.4,336.7L65.4,333.0L77.5,327.7L88.7,321.4L100.2,312.9L110.8,303.4L116.9,296.0Q118.8,293.6 121.7,294.4L132.2,297.1L143.4,299.7L155.9,302.4L169.8,305.2L185.4,308.0L202.8,310.9L233.3,315.2Q236.3,315.7 239.1,314.7L247.5,312.0Q250.4,311.1 249.4,308.2L247.5,302.9Q246.5,300.0 243.9,298.5L230.5,290.0L213.8,280.0L198.7,271.2L191.3,267.2Q188.7,265.7 188.7,262.7L188.7,240.4L188.7,218.2Q188.7,215.2 191.3,213.7L198.7,209.7L213.8,200.9L230.5,190.9L243.9,182.4Q246.5,180.9 247.5,178.0L249.4,172.7Q250.4,169.8 247.5,168.9L239.1,166.2Q236.3,165.2 233.3,165.7L202.8,170.0L185.4,172.9L169.8,175.7L155.9,178.5L143.4,181.2L132.2,183.8L121.7,186.5Q118.8,187.3 116.9,184.9L110.8,177.5L100.2,168.0L88.7,159.5L77.5,153.2L65.4,147.9L55.4,144.2Q52.6,143.1 50.7,140.8L47.6,136.8Q45.8,134.5 44.0,136.8L39.0,143.1M40.7,312.9L43.3,317.0L44.5,318.7Q45.8,320.5 47.1,318.7L48.3,317.0L49.6,314.9Q50.9,312.9 53.7,311.9L60.5,309.6L69.6,306.0L78.3,301.8L87.3,295.6L95.6,288.6L99.9,283.6Q101.9,281.3 104.8,282.0L117.3,284.8L136.9,288.6L148.4,290.5L161.4,292.4L182.2,295.1Q185.2,295.5 188.0,294.6L192.6,293.1Q195.5,292.1 194.5,289.3L193.7,286.9Q192.7,284.1 190.1,282.4L181.8,277.0L169.5,269.4L154.7,260.8Q152.1,259.2 152.1,256.2L152.1,224.7Q152.1,221.7 154.7,220.1L169.5,211.5L181.8,203.9L190.1,198.5Q192.7,196.8 193.7,194.0L194.5,191.6Q195.5,188.8 192.6,187.8L188.0,186.3Q185.2,185.4 182.2,185.8L161.4,188.5L148.4,190.4L136.9,192.3L117.3,196.1L104.8,198.9Q101.9,199.6 99.9,197.3L95.6,192.3L87.3,185.3L78.3,179.1L69.6,174.9L60.5,171.3L53.7,169.0Q50.9,168.0 49.6,166.0L48.3,163.9L47.1,162.2Q45.8,160.4 44.5,162.2L43.3,163.9L40.7,168.0M42.0,294.4L43.2,296.8L44.5,299.1Q45.8,301.3 47.1,299.1L48.4,296.8L49.0,295.6Q49.6,294.4 52.4,293.5L63.7,289.7L70.5,286.9L77.4,282.5L83.9,277.4L86.9,274.0Q88.8,271.8 91.8,272.4L101.4,274.4L116.8,276.9L130.8,278.8L144.8,280.4Q147.8,280.7 150.6,279.8L152.5,279.2Q155.3,278.3 154.3,275.4L154.2,275.2Q153.3,272.4 150.7,270.7L136.9,261.7L127.5,256.0Q124.9,254.4 124.9,251.4L124.9,229.5Q124.9,226.5 127.5,224.9L136.9,219.2L150.7,210.2Q153.3,208.5 154.2,205.7L154.3,205.5Q155.3,202.6 152.5,201.7L150.6,201.1Q147.8,200.2 144.8,200.5L130.8,202.1L116.8,204.0L101.4,206.5L91.8,208.5Q88.8,209.1 86.9,206.9L83.9,203.5L77.4,198.4L70.5,194.0L63.7,191.2L52.4,187.4Q49.6,186.5 49.0,185.3L48.4,184.1L47.1,181.8Q45.8,179.6 44.5,181.8L43.2,184.1L42.0,186.5M43.0,280.7L44.6,284.3Q45.8,287.0 47.0,284.3L47.4,283.4Q48.6,280.7 51.5,279.8L59.2,277.5L64.5,275.7L69.9,272.5L75.0,268.7L76.9,266.6Q78.9,264.5 81.8,265.0L89.1,266.3L98.0,267.6L108.4,268.8L117.4,269.6Q120.4,269.9 123.2,269.0L123.2,269.0Q125.9,268.1 125.2,266.0L125.2,266.0Q124.4,263.8 121.9,262.1L112.9,256.0L107.2,252.5Q104.7,250.9 104.7,247.9L104.7,244.3L104.7,233.0Q104.7,230.0 107.2,228.4L112.9,224.9L121.9,218.8Q124.4,217.1 125.2,214.9L125.2,214.9Q125.9,212.8 123.2,211.9L123.2,211.9Q120.4,211.0 117.4,211.3L108.4,212.1L98.0,213.3L89.1,214.6L81.8,215.9Q78.9,216.4 76.9,214.3L75.0,212.2L69.9,208.4L64.5,205.2L59.2,203.4L51.5,201.1Q48.6,200.2 47.4,197.5L47.0,196.6Q45.8,193.9 44.6,196.6L43.0,200.2M43.6,272.0L44.7,273.8Q45.8,275.7 46.9,273.8L46.9,273.8Q48.0,272.0 50.9,271.2L56.5,269.8L60.6,268.4L62.8,267.2Q65.0,266.0 66.7,264.2L68.5,262.4L70.0,260.8Q71.5,259.1 74.5,259.5L86.5,260.9L97.4,261.8Q100.4,262.0 102.4,261.3L102.4,261.3Q104.4,260.7 103.9,259.1L103.9,259.1Q103.3,257.5 100.9,255.8L95.2,251.9L92.1,249.8Q89.6,248.2 89.6,245.2L89.6,240.4L89.6,235.7Q89.6,232.7 92.1,231.1L95.2,229.0L100.9,225.1Q103.3,223.4 103.9,221.8L103.9,221.8Q104.4,220.2 102.4,219.6L102.4,219.6Q100.4,218.9 97.4,219.1L86.5,220.0L74.5,221.4Q71.5,221.8 70.0,220.1L68.5,218.5L66.7,216.7Q65.0,214.9 62.8,213.7L60.6,212.5L56.5,211.1L50.9,209.7Q48.0,208.9 46.9,207.1L46.9,207.1Q45.8,205.2 44.7,207.1L43.6,208.9M44.0,265.9L44.9,267.5Q45.8,269.1 46.7,267.5L46.7,267.5Q47.6,265.9 50.5,265.2L54.5,264.3L57.9,263.3L59.7,262.3Q61.5,261.3 63.5,259.1L64.6,257.8Q66.7,255.6 69.7,255.6L73.8,255.6L82.8,256.1Q85.8,256.2 87.2,255.7L87.2,255.7Q88.7,255.3 88.3,254.1L88.3,254.1Q87.9,252.9 85.4,251.2L80.9,248.0Q78.4,246.2 78.4,243.3L78.4,240.4L78.4,237.6Q78.4,234.7 80.9,232.9L85.4,229.7Q87.9,228.0 88.3,226.8L88.3,226.8Q88.7,225.6 87.2,225.2L87.2,225.2Q85.8,224.7 82.8,224.8L73.8,225.3L69.7,225.3Q66.7,225.3 64.6,223.1L63.5,221.8Q61.5,219.6 59.7,218.6L57.9,217.6L54.5,216.6L50.5,215.7Q47.6,215.0 46.7,213.4L46.7,213.4Q45.8,211.8 44.9,213.4L44.0,215.0M44.4,261.0L45.1,262.2Q45.8,263.3 46.5,262.2L46.5,262.2Q47.2,261.0 50.2,260.3L52.7,259.7Q55.7,259.0 57.1,258.3L57.1,258.3Q58.6,257.5 60.6,255.2L60.8,255.0Q62.7,252.8 65.1,252.5L67.5,252.2L72.0,252.1Q75.0,252.0 76.1,251.6L76.1,251.6Q77.2,251.3 76.9,250.4L76.9,250.4Q76.6,249.6 74.2,247.8L72.5,246.5Q70.1,244.7 70.1,242.6L70.1,240.4L70.1,238.3Q70.1,236.2 72.5,234.4L74.2,233.1Q76.6,231.3 76.9,230.5L76.9,230.5Q77.2,229.6 76.1,229.3L76.1,229.3Q75.0,228.9 72.0,228.8L67.5,228.7L65.1,228.4Q62.7,228.1 60.8,225.9L60.6,225.7Q58.6,223.4 57.1,222.6L57.1,222.6Q55.7,221.9 52.7,221.2L50.2,220.6Q47.2,219.9 46.5,218.7L46.5,218.7Q45.8,217.6 45.1,218.7L44.4,219.9M44.7,256.5L45.2,257.6Q45.8,258.8 46.4,257.6L46.4,257.6Q46.9,256.5 48.0,256.3L49.1,256.0L51.4,255.7Q53.7,255.3 54.9,254.7L54.9,254.7Q56.1,254.2 57.1,253.3L58.1,252.3L58.8,251.4Q59.6,250.5 61.1,250.0L62.6,249.6L67.2,248.9L68.0,248.6Q68.8,248.4 68.6,247.8L68.6,247.8Q68.3,247.1 66.5,245.5L66.5,245.5Q64.6,243.8 64.3,242.1L64.3,242.1Q63.9,240.4 64.3,238.8L64.3,238.8Q64.6,237.1 66.5,235.4L66.5,235.4Q68.3,233.8 68.6,233.1L68.6,233.1Q68.8,232.5 68.0,232.3L67.2,232.0L62.6,231.3L61.1,230.9Q59.6,230.4 58.8,229.5L58.1,228.6L57.1,227.6Q56.1,226.7 54.9,226.2L54.9,226.2Q53.7,225.6 51.4,225.2L49.1,224.9L48.0,224.6Q46.9,224.4 46.4,223.3L46.4,223.3Q45.8,222.1 45.2,223.3L44.7,224.4M45.0,252.4L45.4,253.2Q45.8,253.9 46.2,253.2L46.2,253.2Q46.6,252.4 47.5,252.3L48.3,252.1L50.0,251.9Q51.8,251.7 52.7,251.3L52.7,251.3Q53.7,250.9 54.5,250.3L55.3,249.6L55.9,248.9Q56.4,248.2 59.3,247.3L59.7,247.2Q62.6,246.3 62.5,245.8L62.5,245.8Q62.3,245.3 61.4,244.2L61.4,244.2Q60.4,243.0 59.8,241.7L59.8,241.7Q59.2,240.4 59.8,239.2L59.8,239.2Q60.4,237.9 61.4,236.7L61.4,236.7Q62.3,235.6 62.5,235.1L62.5,235.1Q62.6,234.6 59.7,233.7L59.3,233.6Q56.4,232.7 55.9,232.0L55.3,231.3L54.5,230.6Q53.7,230.0 52.7,229.6L52.7,229.6Q51.8,229.2 50.0,229.0L48.3,228.8L47.5,228.6Q46.6,228.5 46.2,227.7L46.2,227.7Q45.8,227.0 45.4,227.7L45.0,228.5M45.2,249.4L45.5,250.1Q45.8,250.9 46.1,250.1L46.1,250.1Q46.4,249.4 47.0,249.3L47.6,249.1L49.0,249.1Q50.3,249.0 51.1,248.7L51.1,248.7Q51.8,248.4 52.4,247.9L53.1,247.5L53.5,246.9Q54.0,246.4 56.0,245.5L56.0,245.5Q58.1,244.7 58.0,244.4L57.9,244.0L56.8,242.2Q55.8,240.4 56.8,238.7L57.9,236.9L58.0,236.5Q58.1,236.2 56.0,235.4L56.0,235.4Q54.0,234.5 53.5,234.0L53.1,233.4L52.4,233.0Q51.8,232.5 51.1,232.2L51.1,232.2Q50.3,231.9 49.0,231.8L47.6,231.8L47.0,231.6Q46.4,231.5 46.1,230.8L46.1,230.8Q45.8,230.0 45.5,230.8L45.2,231.5M45.3,247.1L45.6,247.8Q45.8,248.6 46.0,247.8L46.0,247.8Q46.3,247.1 47.7,247.0L47.7,247.0Q49.2,246.9 49.8,246.7L49.8,246.7Q50.4,246.5 50.9,246.2L51.4,245.8L51.7,245.4Q52.1,245.0 53.1,244.4L54.1,243.8L54.5,243.7Q54.8,243.6 54.0,242.0L54.0,242.0Q53.2,240.4 54.0,238.9L54.0,238.9Q54.8,237.3 54.5,237.2L54.1,237.1L53.1,236.5Q52.1,235.9 51.7,235.5L51.4,235.1L50.9,234.7Q50.4,234.4 49.8,234.2L49.8,234.2Q49.2,234.0 47.7,233.9L47.7,233.9Q46.3,233.8 46.0,233.1L46.0,233.1Q45.8,232.3 45.6,233.1L45.3,233.8M45.5,245.4L45.6,246.1Q45.8,246.8 46.0,246.1L46.0,246.1Q46.1,245.4 47.3,245.4L47.3,245.4Q48.4,245.4 48.8,245.2L48.8,245.2Q49.3,245.1 49.7,244.8L50.1,244.6L51.0,243.7Q51.9,242.9 52.2,242.8L52.2,242.8Q52.4,242.7 51.9,241.6L51.9,241.6Q51.3,240.4 51.9,239.3L51.9,239.3Q52.4,238.2 52.2,238.1L52.2,238.1Q51.9,238.0 51.0,237.2L50.1,236.3L49.7,236.1Q49.3,235.8 48.8,235.7L48.8,235.7Q48.4,235.5 47.3,235.5L47.3,235.5Q46.1,235.5 46.0,234.8L46.0,234.8Q45.8,234.1 45.6,234.8L45.5,235.5M45.5,244.1L45.7,244.7Q45.8,245.4 45.9,244.7L45.9,244.7Q46.1,244.1 46.9,244.2L46.9,244.2Q47.8,244.2 48.1,244.1L48.1,244.1Q48.5,244.0 48.8,243.8L48.8,243.8Q49.1,243.6 49.7,242.9L49.7,242.9Q50.3,242.2 50.5,242.2L50.5,242.2Q50.6,242.1 50.3,241.3L50.3,241.3Q49.9,240.4 50.3,239.6L50.3,239.6Q50.6,238.8 50.5,238.7L50.5,238.7Q50.3,238.7 49.7,238.0L49.7,238.0Q49.1,237.3 48.8,237.1L48.8,237.1Q48.5,236.9 48.1,236.8L48.1,236.8Q47.8,236.7 46.9,236.7L46.9,236.7Q46.1,236.8 45.9,236.2L45.9,236.2Q45.8,235.5 45.7,236.2L45.5,236.8M45.6,243.2L45.7,243.7Q45.8,244.3 45.9,243.7L45.9,243.7Q46.0,243.2 46.6,243.2L46.6,243.2Q47.3,243.3 47.6,243.2L47.6,243.2Q47.8,243.1 48.1,243.0L48.1,243.0Q48.3,242.9 48.7,242.3L48.7,242.3Q49.1,241.7 49.2,241.7L49.2,241.7Q49.3,241.7 49.1,241.1L49.1,241.1Q48.9,240.5 49.1,239.8L49.1,239.8Q49.3,239.2 49.2,239.2L49.2,239.2Q49.1,239.2 48.9,238.8L48.9,238.8Q48.6,238.4 48.2,238.1L48.2,238.1Q47.8,237.8 47.6,237.7L47.6,237.7Q47.3,237.6 46.6,237.7L46.6,237.7Q46.0,237.7 45.9,237.2L45.9,237.2Q45.8,236.6 45.7,237.2L45.6,237.7M45.7,242.5L45.7,242.9Q45.8,243.4 45.9,242.9L45.9,242.9Q45.9,242.5 46.6,242.5L46.6,242.5Q47.3,242.5 47.7,242.3L47.7,242.3Q48.0,242.0 48.1,241.7L48.1,241.7Q48.2,241.4 48.3,241.4L48.3,241.4Q48.4,241.3 48.2,240.9L48.2,240.9Q48.1,240.4 48.2,240.0L48.2,240.0Q48.4,239.6 48.3,239.5L48.3,239.5Q48.2,239.5 48.1,239.2L48.1,239.2Q48.0,238.9 47.7,238.6L47.7,238.6Q47.3,238.4 46.6,238.4L46.6,238.4Q45.9,238.4 45.9,238.0L45.9,238.0Q45.8,237.5 45.7,238.0L45.7,238.4M45.7,242.0L45.7,242.4Q45.8,242.8 45.9,242.4L45.9,242.4Q45.9,242.0 46.4,242.0L46.4,242.0Q47.0,242.0 47.2,241.8L47.2,241.8Q47.5,241.7 47.5,241.4L47.5,241.4Q47.6,241.1 47.6,241.1L47.6,241.1Q47.7,241.1 47.6,240.8L47.6,240.8Q47.5,240.4 47.6,240.1L47.6,240.1Q47.7,239.8 47.6,239.8L47.6,239.8Q47.6,239.8 47.5,239.5L47.5,239.5Q47.5,239.2 47.2,239.1L47.2,239.1Q47.0,238.9 46.4,238.9L46.4,238.9Q45.9,238.9 45.9,238.5L45.9,238.5Q45.8,238.1 45.7,238.5L45.7,238.9M45.7,241.6L45.8,241.9Q45.8,242.2 45.8,241.9L45.8,241.9Q45.9,241.6 46.2,241.6L46.2,241.6Q46.5,241.7 46.7,241.6L46.7,241.6Q46.9,241.5 47.1,241.2L47.1,241.2Q47.2,240.9 47.1,240.2L47.1,240.2Q47.1,239.5 46.9,239.4L46.9,239.4Q46.7,239.3 46.3,239.3L46.3,239.3Q45.9,239.3 45.8,239.0L45.8,239.0Q45.8,238.7 45.8,239.0L45.7,239.3M45.7,241.3L45.8,241.6Q45.8,241.9 45.8,241.6L45.8,241.6Q45.9,241.3 46.3,241.3L46.3,241.3Q46.7,241.3 46.7,241.0L46.7,241.0Q46.8,240.8 46.8,240.3L46.8,240.3Q46.8,239.7 46.6,239.6L46.6,239.6Q46.5,239.5 46.2,239.6L46.2,239.6Q45.9,239.6 45.8,239.3L45.8,239.3Q45.8,239.0 45.8,239.3L45.7,239.6M45.7,241.3L45.8,241.4Q45.8,241.5 45.8,241.4L45.8,241.4Q45.9,241.3 46.2,241.2L46.2,241.2Q46.5,241.1 46.5,240.8L46.5,240.8Q46.6,240.6 46.6,240.2L46.6,240.2Q46.6,239.9 46.2,239.8L46.2,239.8Q45.9,239.6 45.8,239.5L45.8,239.5Q45.8,239.4 45.8,239.5L45.7,239.6M45.7,241.2L45.8,241.3Q45.8,241.3 45.8,241.3L45.8,241.3Q45.9,241.2 46.1,241.1L46.1,241.1Q46.4,241.0 46.5,240.7L46.5,240.7Q46.6,240.4 46.5,240.2L46.5,240.2Q46.4,239.9 46.1,239.8L46.1,239.8Q45.9,239.7 45.8,239.6L45.8,239.6Q45.8,239.6 45.8,239.6L45.7,239.7M45.8,241.1L45.8,241.2Q45.8,241.3 45.8,241.2L45.8,241.2Q45.8,241.1 46.1,241.0L46.1,241.0Q46.4,241.0 46.4,240.7L46.4,240.7Q46.5,240.4 46.4,240.2L46.4,240.2Q46.4,239.9 46.1,239.9L46.1,239.9Q45.8,239.8 45.8,239.7L45.8,239.7Q45.8,239.6 45.8,239.7L45.8,239.8M45.8,241.0L45.8,241.1Q45.8,241.2 45.8,241.1L45.8,241.1Q45.8,241.0 46.1,241.0L46.1,241.0Q46.3,240.9 46.4,240.7L46.4,240.7Q46.4,240.4 46.4,240.2L46.4,240.2Q46.3,240.0 46.1,239.9L46.1,239.9Q45.8,239.9 45.8,239.8L45.8,239.8Q45.8,239.7 45.8,239.8L45.8,239.9M45.8,241.0L45.8,241.1Q45.8,241.1 45.8,241.1L45.8,241.1Q45.8,241.0 46.0,240.9L46.0,240.9Q46.3,240.9 46.3,240.7L46.3,240.7Q46.3,240.4 46.3,240.2L46.3,240.2Q46.3,240.0 46.0,240.0L46.0,240.0Q45.8,239.9 45.8,239.8L45.8,239.8Q45.8,239.8 45.8,239.8L45.8,239.9M45.8,240.9L45.8,241.0Q45.8,241.1 45.8,241.0L45.8,241.0Q45.8,240.9 46.0,240.8L46.0,240.8Q46.3,240.8 46.3,240.4L46.3,240.4Q46.3,240.1 46.0,240.1L46.0,240.1Q45.8,240.0 45.8,239.9L45.8,239.9Q45.8,239.8 45.8,239.9L45.8,240.0M45.8,240.8L45.8,240.9Q45.8,241.0 45.8,240.9L45.8,240.9Q45.8,240.8 46.0,240.8L46.0,240.8Q46.2,240.7 46.2,240.4L46.2,240.4Q46.2,240.2 46.0,240.1L46.0,240.1Q45.8,240.1 45.8,240.0L45.8,240.0Q45.8,239.9 45.8,240.0L45.8,240.1" fill="none" stroke="#101010" stroke-width="1" stroke-dasharray="1.5,3.1" stroke-linecap="butt"/></g><mask id="cr" maskUnits="userSpaceOnUse" x="413.0" y="18.2" width="223.7" height="444.5"><path fill="#fff" d="M415.00,20.21A219.70,220.24 0 0 1 415.00,460.69Z"/></mask><g mask="url(#cr)" shape-rendering="geometricPrecision"><rect x="415.0" y="20.2" width="221.7" height="440.5" fill="#161014"/><g stroke-width="0.6" stroke-linejoin="round"><path stroke="#191017" fill="#191017" d="M415.0,240.5L398.8,472.2Q398.6,475.2 401.6,475.3L415.0,475.8L431.4,475.2L447.7,473.5L463.8,470.6L479.7,466.7L495.3,461.6L514.2,453.7L532.4,444.2L549.6,433.2L565.9,420.7L581.0,406.9L592.2,394.8L602.5,382.1L611.9,368.6L620.3,354.5L626.9,341.8L631.9,330.5L643.7,293.4L649.7,240.4L643.7,187.5L631.9,150.4L626.9,139.1L620.3,126.4L611.9,112.3L602.5,98.8L592.2,86.1L581.0,74.0L565.9,60.2L549.6,47.7L532.4,36.7L514.2,27.2L495.3,19.3L479.7,14.2L463.8,10.3L447.7,7.4L431.4,5.7L415.0,5.1L401.6,5.6Q398.6,5.7 398.8,8.7L415.0,240.5Z"/><path stroke="#1d101b" fill="#1d101b" d="M415.0,240.5L398.8,472.2Q398.6,475.2 401.6,475.3L415.0,475.8L431.4,475.2L447.7,473.5L463.8,470.6L479.7,466.7L495.3,461.6L514.2,453.7L532.4,444.2L549.6,433.2L565.9,420.7L581.0,406.9L592.2,394.8L602.5,382.1L611.9,368.6L620.3,354.5L626.9,341.8L631.9,330.5L643.7,293.4L649.7,240.4L643.7,187.5L631.9,150.4L626.9,139.1L620.3,126.4L611.9,112.3L602.5,98.8L592.2,86.1L581.0,74.0L565.9,60.2L549.6,47.7L532.4,36.7L514.2,27.2L495.3,19.3L479.7,14.2L463.8,10.3L447.7,7.4L431.4,5.7L415.0,5.1L401.6,5.6Q398.6,5.7 398.8,8.7L415.0,240.5Z"/><path stroke="#230f22" fill="#230f22" d="M415.0,240.5L398.8,472.2Q398.6,475.2 401.6,475.3L415.0,475.8L431.4,475.2L447.7,473.5L463.8,470.6L479.7,466.7L495.3,461.6L514.2,453.7L532.4,444.2L549.6,433.2L565.9,420.7L581.0,406.9L592.2,394.8L602.5,382.1L611.9,368.6L620.3,354.5L626.9,341.8L631.9,330.5L643.7,293.4L649.7,240.4L643.7,187.5L631.9,150.4L626.9,139.1L620.3,126.4L611.9,112.3L602.5,98.8L592.2,86.1L581.0,74.0L565.9,60.2L549.6,47.7L532.4,36.7L514.2,27.2L495.3,19.3L479.7,14.2L463.8,10.3L447.7,7.4L431.4,5.7L415.0,5.1L401.6,5.6Q398.6,5.7 398.8,8.7L415.0,240.5Z"/><path stroke="#2a0e2d" fill="#2a0e2d" d="M415.0,240.5L398.8,472.2Q398.6,475.2 401.6,475.3L415.0,475.8L431.4,475.2L447.7,473.5L463.8,470.6L479.7,466.7L495.3,461.6L514.2,453.7L532.4,444.2L549.6,433.2L565.9,420.7L581.0,406.9L592.2,394.8L602.5,382.1L611.9,368.6L620.3,354.5L626.9,341.8L631.9,330.5L643.7,293.4L649.7,240.4L643.7,187.5L631.9,150.4L626.9,139.1L620.3,126.4L611.9,112.3L602.5,98.8L592.2,86.1L581.0,74.0L565.9,60.2L549.6,47.7L532.4,36.7L514.2,27.2L495.3,19.3L479.7,14.2L463.8,10.3L447.7,7.4L431.4,5.7L415.0,5.1L401.6,5.6Q398.6,5.7 398.8,8.7L415.0,240.5Z"/><path stroke="#2f0e3b" fill="#2f0e3b" d="M415.0,240.5L398.8,472.2Q398.6,475.2 401.6,475.3L415.0,475.8L431.4,475.2L447.7,473.5L463.8,470.6L479.7,466.7L495.3,461.6L514.2,453.7L532.4,444.2L549.6,433.2L565.9,420.7L581.0,406.9L592.2,394.8L602.5,382.1L611.9,368.6L620.3,354.5L626.9,341.8L631.9,330.5L643.7,293.4L649.7,240.4L643.7,187.5L631.9,150.4L626.9,139.1L620.3,126.4L611.9,112.3L602.5,98.8L592.2,86.1L581.0,74.0L565.9,60.2L549.6,47.7L532.4,36.7L514.2,27.2L495.3,19.3L479.7,14.2L463.8,10.3L447.7,7.4L431.4,5.7L415.0,5.1L401.6,5.6Q398.6,5.7 398.8,8.7L415.0,240.5Z"/><path stroke="#311041" fill="#311041" d="M415.0,240.5L398.8,472.2Q398.6,475.2 399.1,475.2L399.1,475.2Q399.5,475.2 402.3,474.2L412.2,470.4Q415.0,469.3 417.8,470.4L427.7,474.2Q430.5,475.2 430.9,475.2L431.4,475.2L447.7,473.5L463.8,470.6L479.7,466.7L495.3,461.6L514.2,453.7L532.4,444.2L549.6,433.2L565.9,420.7L581.0,406.9L592.2,394.8L602.5,382.1L611.9,368.6L620.3,354.5L626.9,341.8L631.9,330.5L642.4,297.7Q643.3,294.8 640.5,293.6L639.1,292.9Q636.3,291.7 636.3,288.7L636.3,224.8L636.3,192.2Q636.3,189.2 639.1,188.0L640.5,187.3Q643.3,186.1 642.4,183.2L631.9,150.4L626.9,139.1L620.3,126.4L611.9,112.3L602.5,98.8L592.2,86.1L581.0,74.0L565.9,60.2L549.6,47.7L532.4,36.7L514.2,27.2L495.3,19.3L479.7,14.2L463.8,10.3L447.7,7.4L431.4,5.7L430.9,5.7Q430.5,5.7 427.7,6.7L417.8,10.5Q415.0,11.6 412.2,10.5L402.3,6.7Q399.5,5.7 399.1,5.7L399.1,5.7Q398.6,5.7 398.8,8.7L415.0,240.5Z"/><path stroke="#331147" fill="#331147" d="M415.0,240.5L399.6,461.2Q399.4,464.2 402.2,463.2L412.2,459.6Q415.0,458.6 417.8,459.6L430.6,464.2L447.5,472.4L448.5,472.8Q449.5,473.2 452.4,472.6L463.8,470.6L479.7,466.7L495.3,461.6L514.2,453.7L532.4,444.2L549.6,433.2L565.9,420.7L581.0,406.9L592.2,394.8L602.5,382.1L611.9,368.6L620.3,354.5L626.9,341.8L631.9,330.5L641.2,301.4Q642.1,298.5 639.4,297.2L621.4,288.9L620.7,288.4Q620.1,287.9 620.2,284.9L622.9,240.5L620.2,196.0Q620.1,193.0 620.7,192.5L621.4,192.0L639.4,183.7Q642.1,182.4 641.2,179.5L631.9,150.4L626.9,139.1L620.3,126.4L611.9,112.3L602.5,98.8L592.2,86.1L581.0,74.0L565.9,60.2L549.6,47.7L532.4,36.7L514.2,27.2L495.3,19.3L479.7,14.2L463.8,10.3L452.4,8.3Q449.5,7.7 448.5,8.1L447.5,8.5L430.6,16.7L417.8,21.3Q415.0,22.3 412.2,21.3L402.2,17.7Q399.4,16.7 399.6,19.7L415.0,240.5Z"/><path stroke="#35124d" fill="#35124d" d="M415.0,240.5L400.4,450.3Q400.2,453.3 401.3,452.9L402.5,452.5L412.1,450.0Q415.0,449.2 417.9,450.0L427.5,452.5L429.8,453.3L445.8,460.5L463.1,467.1L467.8,468.2Q470.7,468.9 473.6,468.2L479.7,466.7L495.3,461.6L514.2,453.7L532.4,444.2L549.6,433.2L565.9,420.7L581.0,406.9L592.2,394.8L602.5,382.1L611.9,368.6L620.3,354.5L626.9,341.8L631.9,330.5L640.0,305.0Q640.9,302.2 638.2,300.9L620.3,292.2L614.3,287.8Q611.9,286.0 612.1,283.0L614.7,240.4L612.1,197.9Q611.9,194.9 614.3,193.1L620.3,188.7L638.2,180.0Q640.9,178.7 640.0,175.9L631.9,150.4L626.9,139.1L620.3,126.4L611.9,112.3L602.5,98.8L592.2,86.1L581.0,74.0L565.9,60.2L549.6,47.7L532.4,36.7L514.2,27.2L495.3,19.3L479.7,14.2L473.6,12.7Q470.7,12.0 467.8,12.7L463.1,13.8L445.8,20.4L429.8,27.6L427.5,28.4L417.9,30.9Q415.0,31.7 412.1,30.9L402.5,28.4L401.3,28.0Q400.2,27.6 400.4,30.6L415.0,240.5Z"/><path stroke="#381353" fill="#381353" d="M415.0,240.5L401.0,441.7Q400.8,444.7 403.7,444.0L412.1,441.9Q415.0,441.2 417.9,441.9L429.2,444.7L444.3,449.5L447.8,450.3L460.4,454.8L470.5,456.9L477.4,458.5L494.5,459.4L498.9,459.1Q501.9,458.8 504.7,457.7L514.2,453.7L532.4,444.2L549.6,433.2L565.9,420.7L581.0,406.9L592.2,394.8L602.5,382.1L611.9,368.6L620.3,354.5L626.9,341.8L631.9,330.5L638.8,308.7Q639.8,305.8 637.1,304.5L619.2,295.5L610.3,289.0L606.9,286.2Q604.6,284.3 604.8,281.3L607.3,240.4L604.8,199.6Q604.6,196.6 606.9,194.7L610.3,191.9L619.2,185.4L637.1,176.4Q639.8,175.1 638.8,172.2L631.9,150.4L626.9,139.1L620.3,126.4L611.9,112.3L602.5,98.8L592.2,86.1L581.0,74.0L565.9,60.2L549.6,47.7L532.4,36.7L514.2,27.2L504.7,23.2Q501.9,22.1 498.9,21.8L494.5,21.5L477.4,22.4L470.5,24.0L460.4,26.1L447.8,30.6L444.3,31.4L429.2,36.2L417.9,39.0Q415.0,39.7 412.1,39.0L403.7,36.9Q400.8,36.2 401.0,39.2L415.0,240.5Z"/><path stroke="#3a145a" fill="#3a145a" d="M415.0,240.5L401.5,433.7Q401.3,436.7 404.2,436.1L412.1,434.3Q415.0,433.7 417.9,434.3L428.7,436.7L443.0,440.5L458.2,444.0L470.6,445.4L473.8,446.1L489.8,446.5L510.0,444.8L530.2,440.5L546.0,434.7Q548.9,433.7 551.2,431.9L565.9,420.7L581.0,406.9L592.2,394.8L602.5,382.1L611.9,368.6L620.3,354.5L626.9,341.8L631.9,330.5L637.7,312.4Q638.6,309.5 635.9,308.1L618.2,298.9L609.2,292.3L599.8,284.6Q597.4,282.7 597.6,279.7L600.1,240.4L597.6,201.2Q597.4,198.2 599.8,196.3L609.2,188.6L618.2,182.0L635.9,172.8Q638.6,171.4 637.7,168.5L631.9,150.4L626.9,139.1L620.3,126.4L611.9,112.3L602.5,98.8L592.2,86.1L581.0,74.0L565.9,60.2L549.6,47.7L548.9,47.2L530.2,40.4L510.0,36.1L489.8,34.4L473.8,34.8L470.6,35.5L458.2,36.9L443.0,40.4L428.7,44.2L417.9,46.6Q415.0,47.2 412.1,46.6L404.2,44.8Q401.3,44.2 401.5,47.2L415.0,240.5Z"/><path stroke="#3a1360" fill="#3a1360" d="M415.0,240.5L402.1,425.6Q401.9,428.6 404.8,427.8L412.1,425.8Q415.0,425.0 417.9,425.8L428.1,428.6L436.1,431.1L441.9,432.6L456.3,435.0L466.7,435.5L470.9,436.0L485.7,435.2L504.3,432.3L507.9,431.3L522.9,427.8L541.1,420.9L557.8,411.0L573.7,399.5L585.7,389.2L596.6,377.6L604.8,367.6Q606.7,365.3 609.7,365.9L610.1,366.0Q613.1,366.7 614.6,364.1L620.3,354.5L626.9,341.8L631.9,330.5L636.5,316.0Q637.4,313.2 634.8,311.8L617.1,302.2L608.2,295.6L592.6,282.9Q590.3,281.0 590.4,278.0L592.6,240.4L590.4,202.9Q590.3,199.9 592.6,198.0L608.2,185.3L617.1,178.7L634.8,169.1Q637.4,167.7 636.5,164.9L631.9,150.4L626.9,139.1L620.3,126.4L614.6,116.8Q613.1,114.2 610.1,114.9L609.7,115.0Q606.7,115.6 604.8,113.3L596.6,103.3L585.7,91.7L573.7,81.4L557.8,69.9L541.1,60.0L522.9,53.1L507.9,49.6L504.3,48.6L485.7,45.7L470.9,44.9L466.7,45.4L456.3,45.9L441.9,48.3L436.1,49.8L428.1,52.3L417.9,55.1Q415.0,55.9 412.1,55.1L404.8,53.1Q401.9,52.3 402.1,55.3L415.0,240.5Z"/><path stroke="#3b1265" fill="#3b1265" d="M415.0,240.5L402.7,416.5Q402.5,419.5 405.4,418.7L412.1,416.6Q415.0,415.7 417.9,416.6L427.5,419.5L433.7,421.7L440.7,424.0L454.5,426.8L468.5,427.5L482.4,426.1L499.7,422.5L506.6,420.1L516.8,417.1L533.4,409.9L548.8,400.3L563.3,389.1L574.3,379.2L584.2,368.3L591.7,359.0Q593.6,356.7 596.5,357.3L613.2,360.8Q616.2,361.5 617.7,358.9L620.3,354.5L626.9,341.8L631.9,330.5L635.3,319.7Q636.2,316.9 633.6,315.4L616.0,305.5L607.1,299.0L590.9,285.5L585.0,281.1Q582.6,279.2 582.8,276.3L584.8,240.4L582.8,204.6Q582.6,201.7 585.0,199.8L590.9,195.4L607.1,181.9L616.0,175.4L633.6,165.5Q636.2,164.0 635.3,161.2L631.9,150.4L626.9,139.1L620.3,126.4L617.7,122.0Q616.2,119.4 613.2,120.1L596.5,123.6Q593.6,124.2 591.7,121.9L584.2,112.6L574.3,101.7L563.3,91.8L548.8,80.6L533.4,71.0L516.8,63.8L506.6,60.8L499.7,58.4L482.4,54.8L468.5,53.4L454.5,54.1L440.7,56.9L433.7,59.2L427.5,61.4L417.9,64.3Q415.0,65.2 412.1,64.3L405.4,62.2Q402.5,61.4 402.7,64.4L415.0,240.5Z"/><path stroke="#3c126a" fill="#3c126a" d="M415.0,240.5L403.4,406.7Q403.2,409.7 406.0,408.5L412.2,406.0Q415.0,404.9 417.8,406.0L426.8,409.7L433.5,412.6L439.4,414.8L452.6,418.0L466.1,419.0L479.4,417.8L495.9,414.4L512.0,408.9L527.5,401.4L541.8,391.9L555.3,381.1L565.4,371.5L574.6,361.0L581.2,352.2Q583.0,349.8 583.6,349.9L584.3,349.9L595.6,351.5L616.3,355.7Q619.3,356.3 619.8,355.4L620.3,354.5L626.9,341.8L631.9,330.5L634.1,323.4Q635.1,320.5 632.5,319.0L615.0,308.8L606.0,302.3L589.9,288.7L582.4,282.7L577.6,279.3Q575.2,277.5 575.4,274.5L577.4,240.4L575.4,206.4Q575.2,203.4 577.6,201.6L582.4,198.2L589.9,192.2L606.0,178.6L615.0,172.1L632.5,161.9Q635.1,160.4 634.1,157.5L631.9,150.4L626.9,139.1L620.3,126.4L619.8,125.5Q619.3,124.6 616.3,125.2L595.6,129.4L584.3,131.0L583.6,131.0Q583.0,131.1 581.2,128.7L574.6,119.9L565.4,109.4L555.3,99.8L541.8,89.0L527.5,79.5L512.0,72.0L495.9,66.5L479.4,63.1L466.1,61.9L452.6,62.9L439.4,66.1L433.5,68.3L426.8,71.2L417.8,74.9Q415.0,76.0 412.2,74.9L406.0,72.4Q403.2,71.2 403.4,74.2L415.0,240.5Z"/><path stroke="#3d136e" fill="#3d136e" d="M415.0,240.5L404.2,395.6Q404.0,398.6 406.7,397.3L412.3,394.8Q415.0,393.5 417.7,394.8L426.0,398.6L438.0,404.4L450.6,408.5L454.1,409.2L463.5,410.1L476.3,409.3L492.1,406.2L507.5,401.1L522.2,394.0L535.9,384.9L548.7,374.5L558.3,365.3L567.1,355.3L573.3,347.1Q575.1,344.7 578.1,344.8L587.1,345.1L598.5,346.6L619.2,350.4Q622.1,351.0 623.5,348.3L626.9,341.8L631.9,330.5L633.0,327.1Q633.9,324.2 631.3,322.7L613.9,312.2L605.0,305.7L581.4,285.7L571.1,277.8Q568.7,276.0 568.9,273.0L570.4,240.5L568.9,207.9Q568.7,204.9 571.1,203.1L581.4,195.2L605.0,175.2L613.9,168.7L631.3,158.2Q633.9,156.7 633.0,153.8L631.9,150.4L626.9,139.1L623.5,132.6Q622.1,129.9 619.2,130.5L598.5,134.3L587.1,135.8L578.1,136.1Q575.1,136.2 573.3,133.8L567.1,125.6L558.3,115.6L548.7,106.4L535.9,96.0L522.2,86.9L507.5,79.8L492.1,74.7L476.3,71.6L463.5,70.8L454.1,71.7L450.6,72.4L438.0,76.5L426.0,82.3L417.7,86.1Q415.0,87.4 412.3,86.1L406.7,83.6Q404.0,82.3 404.2,85.3L415.0,240.5Z"/><path stroke="#3e1672" fill="#3e1672" d="M415.0,240.5L405.0,384.5Q404.7,387.5 407.4,386.2L412.3,383.9Q415.0,382.6 417.7,383.8L436.3,392.7L448.2,397.0L458.3,399.2L460.5,399.6L472.8,399.7L488.2,397.8L502.9,393.1L517.0,386.5L530.1,377.9L542.4,368.1L551.5,359.4L559.9,349.9L565.8,342.2Q567.6,339.8 570.6,339.9L578.4,340.1L590.0,340.3L601.4,341.6L622.0,345.1Q624.9,345.6 625.9,343.7L626.9,341.8L631.9,330.5L632.3,329.2Q632.7,327.9 630.2,326.3L612.8,315.5L603.9,309.0L580.5,288.7L566.5,277.6L564.3,276.0Q562.1,274.5 562.2,271.5L563.5,240.4L562.2,209.4Q562.1,206.4 564.3,204.9L566.5,203.3L580.5,192.2L603.9,171.9L612.8,165.4L630.2,154.6Q632.7,153.0 632.3,151.7L631.9,150.4L626.9,139.1L625.9,137.2Q624.9,135.3 622.0,135.8L601.4,139.3L590.0,140.6L578.4,140.8L570.6,141.0Q567.6,141.1 565.8,138.7L559.9,131.0L551.5,121.5L542.4,112.8L530.1,103.0L517.0,94.4L502.9,87.8L488.2,83.1L472.8,81.2L460.5,81.3L458.3,81.7L448.2,83.9L436.3,88.2L417.7,97.1Q415.0,98.3 412.3,97.0L407.4,94.7Q404.7,93.4 405.0,96.4L415.0,240.5Z"/><path stroke="#3c1a78" fill="#3c1a78" d="M415.0,240.5L405.7,374.3Q405.5,377.3 408.2,376.0L412.3,374.1Q415.0,372.8 417.7,374.1L424.5,377.3L434.8,381.6L445.6,384.9L456.9,386.8L468.4,387.6L483.2,387.2L492.8,385.3L497.7,384.0L511.3,378.4L523.9,370.5L535.7,361.4L544.5,353.3L552.6,344.4L558.2,337.2Q560.0,334.9 563.0,335.0L570.2,335.4L586.2,335.6L592.7,335.4L604.0,336.4L618.7,338.8Q621.7,339.3 622.9,336.5L625.4,331.0Q626.6,328.3 624.1,326.7L611.8,318.8L602.8,312.4L586.8,298.4L579.5,291.6L565.7,280.1L559.0,275.4L556.6,274.0Q554.1,272.6 554.2,269.6L554.5,240.4L554.2,211.3Q554.1,208.3 556.6,206.9L559.0,205.5L565.7,200.8L579.5,189.3L586.8,182.5L602.8,168.5L611.8,162.1L624.1,154.2Q626.6,152.6 625.4,149.9L622.9,144.4Q621.7,141.6 618.7,142.1L604.0,144.5L592.7,145.5L586.2,145.3L570.2,145.5L563.0,145.9Q560.0,146.0 558.2,143.7L552.6,136.5L544.5,127.6L535.7,119.5L523.9,110.4L511.3,102.5L497.7,96.9L492.8,95.6L483.2,93.7L468.4,93.3L456.9,94.1L445.6,96.0L434.8,99.3L424.5,103.6L417.7,106.8Q415.0,108.1 412.3,106.8L408.2,104.9Q405.5,103.6 405.7,106.6L415.0,240.5Z"/><path stroke="#3b1e7d" fill="#3b1e7d" d="M415.0,240.5L406.3,365.2Q406.1,368.1 406.5,368.0L406.9,367.8L412.2,366.0Q415.0,365.1 417.8,366.0L423.1,367.8L433.4,371.8L437.8,372.7L443.3,374.0L453.5,374.9L464.1,375.6L477.7,375.3L491.3,372.9L504.3,368.4L516.4,361.6L527.8,353.6L536.5,346.3L544.7,338.4L550.3,332.1Q552.3,329.8 555.3,330.2L562.2,331.0L578.1,331.1L595.3,330.4L601.8,330.9Q604.8,331.2 606.0,328.4L608.0,323.8Q609.2,321.1 606.8,319.3L601.8,315.7L585.8,301.6L578.6,294.6L564.8,282.7L558.3,277.8L551.7,274.1L546.7,271.6Q544.0,270.3 544.1,267.3L544.7,240.4L544.1,213.6Q544.0,210.6 546.7,209.3L551.7,206.8L558.3,203.1L564.8,198.2L578.6,186.3L585.8,179.3L601.8,165.2L606.8,161.6Q609.2,159.8 608.0,157.1L606.0,152.5Q604.8,149.7 601.8,150.0L595.3,150.5L578.1,149.8L562.2,149.9L555.3,150.7Q552.3,151.1 550.3,148.8L544.7,142.5L536.5,134.6L527.8,127.3L516.4,119.3L504.3,112.5L491.3,108.0L477.7,105.6L464.1,105.3L453.5,106.0L443.3,106.9L437.8,108.2L433.4,109.1L423.1,113.1L417.8,114.9Q415.0,115.8 412.2,114.9L406.9,113.1L406.5,112.9Q406.1,112.8 406.3,115.7L415.0,240.5Z"/><path stroke="#3a2181" fill="#3a2181" d="M415.0,240.5L406.7,358.7Q406.5,361.7 409.4,360.9L412.1,360.1Q415.0,359.2 417.9,360.1L423.5,361.7L432.3,364.1L441.4,365.1L450.8,365.5L460.3,365.3L464.8,365.0L472.8,364.8L485.4,362.6L497.6,358.6L508.8,352.5L519.5,345.2L527.7,338.6L535.8,331.7L541.3,326.2Q543.4,324.0 544.9,324.4L546.4,324.8L554.9,326.6L564.5,327.2L570.9,327.1L575.2,326.6L590.4,325.9Q593.4,325.8 594.6,323.0L596.4,319.0Q597.6,316.3 595.4,314.3L584.8,304.8L577.6,297.6L570.7,291.1L564.0,285.2L557.5,280.2L551.0,276.4L536.8,269.4Q534.1,268.0 534.2,265.0L534.8,240.4L534.2,215.9Q534.1,212.9 536.8,211.5L551.0,204.5L557.5,200.7L564.0,195.7L570.7,189.8L577.6,183.3L584.8,176.1L595.4,166.6Q597.6,164.6 596.4,161.9L594.6,157.9Q593.4,155.1 590.4,155.0L575.2,154.3L570.9,153.8L564.5,153.7L554.9,154.3L546.4,156.1L544.9,156.5Q543.4,156.9 541.3,154.7L535.8,149.2L527.7,142.3L519.5,135.7L508.8,128.4L497.6,122.3L485.4,118.3L472.8,116.1L464.8,115.9L460.3,115.6L450.8,115.4L441.4,115.8L432.3,116.8L423.5,119.2L417.9,120.8Q415.0,121.7 412.1,120.8L409.4,120.0Q406.5,119.2 406.7,122.2L415.0,240.5Z"/><path stroke="#382483" fill="#382483" d="M415.0,240.5L407.1,353.1Q406.9,356.1 409.8,355.3L412.1,354.6Q415.0,353.8 417.9,354.6L423.1,356.1L431.5,358.0L440.1,358.8L448.8,358.5L457.7,358.0L469.0,356.5L480.5,354.1L491.6,350.0L502.0,344.3L512.1,337.8L527.8,325.6L533.1,320.8Q535.3,318.8 537.7,319.4L540.2,320.1L548.1,322.0L556.9,323.3L564.4,323.5L566.8,323.3L577.6,322.1L581.9,321.9Q584.9,321.7 586.1,318.9L587.7,315.4Q588.9,312.7 586.7,310.6L583.8,308.0L576.7,300.6L569.8,293.9L563.2,287.8L556.7,282.6L550.2,278.8L544.0,275.4L528.0,267.3Q525.3,266.0 525.4,263.0L525.9,240.4L525.4,217.9Q525.3,214.9 528.0,213.6L544.0,205.5L550.2,202.1L556.7,198.3L563.2,193.1L569.8,187.0L576.7,180.3L583.8,172.9L586.7,170.3Q588.9,168.2 587.7,165.5L586.1,162.0Q584.9,159.2 581.9,159.0L577.6,158.8L566.8,157.6L564.4,157.4L556.9,157.6L548.1,158.9L540.2,160.8L537.7,161.5Q535.3,162.1 533.1,160.1L527.8,155.3L512.1,143.1L502.0,136.6L491.6,130.9L480.5,126.8L469.0,124.4L457.7,122.9L448.8,122.4L440.1,122.1L431.5,122.9L423.1,124.8L417.9,126.3Q415.0,127.1 412.1,126.3L409.8,125.6Q406.9,124.8 407.1,127.8L415.0,240.5Z"/><path stroke="#362785" fill="#362785" d="M415.0,240.5L407.5,347.7Q407.3,350.7 410.2,350.0L412.1,349.5Q415.0,348.7 417.9,349.5L422.7,350.7L430.7,352.4L438.9,353.0L447.1,352.7L455.5,351.9L466.1,350.3L476.7,347.6L487.0,343.5L496.6,337.9L505.9,331.5L520.6,320.2L525.5,315.9Q527.8,313.9 530.7,314.7L541.7,317.6L549.8,319.1L558.0,319.9L568.8,319.4L574.4,318.5Q577.4,318.1 578.6,315.4L580.0,312.2Q581.2,309.5 579.2,307.3L575.7,303.5L568.9,296.6L562.4,290.4L556.0,285.1L549.5,281.1L537.3,274.4L520.2,265.6Q517.5,264.2 517.6,261.2L518.0,240.4L517.6,219.7Q517.5,216.7 520.2,215.3L537.3,206.5L549.5,199.8L556.0,195.8L562.4,190.5L568.9,184.3L575.7,177.4L579.2,173.6Q581.2,171.4 580.0,168.7L578.6,165.5Q577.4,162.8 574.4,162.4L568.8,161.5L558.0,161.0L549.8,161.8L541.7,163.3L530.7,166.2Q527.8,167.0 525.5,165.0L520.6,160.7L505.9,149.4L496.6,143.0L487.0,137.4L476.7,133.3L466.1,130.6L455.5,129.0L447.1,128.2L438.9,127.9L430.7,128.5L422.7,130.2L417.9,131.4Q415.0,132.2 412.1,131.4L410.2,130.9Q407.3,130.2 407.5,133.2L415.0,240.5Z"/><path stroke="#342a87" fill="#342a87" d="M415.0,240.5L407.9,342.6Q407.7,345.6 410.6,344.9L412.1,344.5Q415.0,343.8 417.9,344.5L422.3,345.6L429.9,347.0L437.7,347.5L445.5,347.0L453.4,346.3L463.5,344.7L473.4,341.9L483.1,337.9L492.1,332.5L500.7,326.4L514.4,315.5L518.9,311.5Q521.1,309.5 524.0,310.2L543.2,315.0L551.5,316.3L560.6,316.5L568.5,315.6Q571.5,315.3 572.7,312.6L574.0,309.7Q575.2,307.0 573.2,304.8L568.1,299.4L561.6,292.9L555.2,287.5L548.7,283.5L531.0,273.4L520.6,267.8L513.0,263.9Q510.3,262.5 510.4,259.5L510.8,240.4L510.4,221.4Q510.3,218.4 513.0,217.0L520.6,213.1L531.0,207.5L548.7,197.4L555.2,193.4L561.6,188.0L568.1,181.5L573.2,176.1Q575.2,173.9 574.0,171.2L572.7,168.3Q571.5,165.6 568.5,165.3L560.6,164.4L551.5,164.6L543.2,165.9L524.0,170.7Q521.1,171.4 518.9,169.4L514.4,165.4L500.7,154.5L492.1,148.4L483.1,143.0L473.4,139.0L463.5,136.2L453.4,134.6L445.5,133.9L437.7,133.4L429.9,133.9L422.3,135.3L417.9,136.4Q415.0,137.1 412.1,136.4L410.6,136.0Q407.7,135.3 407.9,138.3L415.0,240.5Z"/><path stroke="#342c89" fill="#342c89" d="M415.0,240.5L408.2,337.6Q408.0,340.6 410.9,339.9L412.1,339.6Q415.0,339.0 417.9,339.6L422.0,340.6L429.2,341.8L436.6,342.2L443.9,341.6L451.4,340.8L460.9,339.1L470.3,336.5L479.4,332.7L487.9,327.5L496.1,321.7L508.8,311.3L512.8,307.6Q515.0,305.6 517.9,306.2L530.1,309.0L544.7,312.5L553.0,313.4L562.4,313.0L564.2,312.8Q566.0,312.6 567.2,309.9L568.3,307.4Q569.5,304.6 567.5,302.5L560.8,295.5L554.4,289.9L541.8,282.1L530.4,275.4L515.1,266.9L506.5,262.4Q503.8,261.0 503.9,258.0L504.2,240.4L503.9,222.9Q503.8,219.9 506.5,218.5L515.1,214.0L530.4,205.5L541.8,198.8L554.4,191.0L560.8,185.4L567.5,178.4Q569.5,176.3 568.3,173.5L567.2,171.0Q566.0,168.3 564.2,168.1L562.4,167.9L553.0,167.5L544.7,168.4L530.1,171.9L517.9,174.7Q515.0,175.3 512.8,173.3L508.8,169.6L496.1,159.2L487.9,153.4L479.4,148.2L470.3,144.4L460.9,141.8L451.4,140.1L443.9,139.3L436.6,138.7L429.2,139.1L422.0,140.3L417.9,141.3Q415.0,141.9 412.1,141.3L410.9,141.0Q408.0,140.3 408.2,143.3L415.0,240.5Z"/><path stroke="#342f8b" fill="#342f8b" d="M415.0,240.5L408.6,332.7Q408.4,335.7 411.3,335.1L412.1,335.0Q415.0,334.3 417.9,335.0L421.6,335.7L428.5,336.7L435.5,337.0L442.5,336.4L449.5,335.5L458.4,333.8L467.2,331.2L475.8,327.5L483.8,322.6L491.4,317.0L503.4,307.2L507.0,303.8Q509.2,301.8 512.2,302.4L524.7,305.0L546.1,309.9L554.5,310.5L557.6,310.3Q560.6,310.1 561.8,307.3L562.8,305.1Q564.0,302.3 562.0,300.2L559.9,298.0L553.6,292.3L541.1,284.3L519.4,271.3L510.0,266.1L500.4,261.0Q497.8,259.6 497.8,256.6L498.2,240.4L497.8,224.3Q497.8,221.3 500.4,219.9L510.0,214.8L519.4,209.6L541.1,196.6L553.6,188.6L559.9,182.9L562.0,180.7Q564.0,178.6 562.8,175.8L561.8,173.6Q560.6,170.8 557.6,170.6L554.5,170.4L546.1,171.0L524.7,175.9L512.2,178.5Q509.2,179.1 507.0,177.1L503.4,173.7L491.4,163.9L483.8,158.3L475.8,153.4L467.2,149.7L458.4,147.1L449.5,145.4L442.5,144.5L435.5,143.9L428.5,144.2L421.6,145.2L417.9,145.9Q415.0,146.6 412.1,145.9L411.3,145.8Q408.4,145.2 408.6,148.2L415.0,240.5Z"/><path stroke="#34308c" fill="#34308c" d="M415.0,240.5L408.9,328.2Q408.7,331.2 411.6,330.7L412.0,330.7Q415.0,330.2 418.0,330.7L421.3,331.2L427.8,331.9L434.4,332.0L441.0,331.3L447.7,330.4L456.0,328.7L464.3,326.1L472.3,322.5L479.8,317.9L486.9,312.6L498.0,303.2L501.2,300.1Q503.4,298.0 506.4,298.6L547.4,307.3L552.3,307.4Q555.3,307.5 556.5,304.8L557.4,302.8Q558.6,300.1 556.4,298.0L552.9,294.7L534.6,282.9L518.8,273.1L505.1,265.3L495.0,259.8Q492.3,258.3 492.4,255.3L493.0,240.4L492.4,225.6Q492.3,222.6 495.0,221.1L505.1,215.6L518.8,207.8L534.6,198.0L552.9,186.2L556.4,182.9Q558.6,180.8 557.4,178.1L556.5,176.1Q555.3,173.4 552.3,173.5L547.4,173.6L506.4,182.3Q503.4,182.9 501.2,180.8L498.0,177.7L486.9,168.3L479.8,163.0L472.3,158.4L464.3,154.8L456.0,152.2L447.7,150.5L441.0,149.6L434.4,148.9L427.8,149.0L421.3,149.7L418.0,150.2Q415.0,150.7 412.0,150.2L411.6,150.2Q408.7,149.7 408.9,152.7L415.0,240.5Z"/><path stroke="#35318c" fill="#35318c" d="M415.0,240.5L409.1,324.4Q408.9,327.4 411.9,327.0L415.0,326.7L421.1,327.4L427.2,327.7L433.4,327.4L439.6,326.6L445.9,325.6L453.7,323.7L461.5,321.1L468.9,317.7L475.9,313.2L482.6,308.2L492.9,299.3L495.8,296.5Q497.9,294.4 500.9,295.1L514.5,297.9L527.3,300.3L546.4,304.1Q549.3,304.7 550.6,301.9L551.3,300.3Q552.5,297.5 552.3,297.4L552.1,297.2L534.0,285.0L518.3,274.9L509.0,269.3L492.8,260.2L490.5,258.8Q488.1,257.4 488.3,254.4L489.0,240.4L488.3,226.5Q488.1,223.5 490.5,222.1L492.8,220.7L509.0,211.6L518.3,206.0L534.0,195.9L552.1,183.7L552.3,183.5Q552.5,183.4 551.3,180.6L550.6,179.0Q549.3,176.2 546.4,176.8L527.3,180.6L514.5,183.0L500.9,185.8Q497.9,186.5 495.8,184.4L492.9,181.6L482.6,172.7L475.9,167.7L468.9,163.2L461.5,159.8L453.7,157.2L445.9,155.3L439.6,154.3L433.4,153.5L427.2,153.2L421.1,153.5L415.0,154.2L411.9,153.9Q408.9,153.5 409.1,156.5L415.0,240.5Z"/><path stroke="#35318c" fill="#35318c" d="M415.0,240.5L409.4,320.9Q409.2,323.9 412.1,323.6L415.0,323.4L420.8,323.9L426.7,324.0L432.6,323.6L438.5,322.6L444.4,321.4L451.7,319.3L458.8,316.6L465.7,313.1L472.2,308.8L478.4,304.0L487.9,295.5L490.3,293.0Q492.4,290.9 495.4,291.6L498.9,292.4L509.9,294.6L522.1,296.7L536.5,299.4Q539.5,300.0 540.7,297.2L541.2,296.1Q542.4,293.3 539.9,291.7L522.7,279.9L513.0,273.7L504.2,268.3L492.4,261.5L487.1,258.2Q484.6,256.6 484.7,253.6L485.4,240.4L484.7,227.3Q484.6,224.3 487.1,222.7L492.4,219.4L504.2,212.6L513.0,207.2L522.7,201.0L539.9,189.2Q542.4,187.6 541.2,184.8L540.7,183.7Q539.5,180.9 536.5,181.5L522.1,184.2L509.9,186.3L498.9,188.5L495.4,189.3Q492.4,190.0 490.3,187.9L487.9,185.4L478.4,176.9L472.2,172.1L465.7,167.8L458.8,164.3L451.7,161.6L444.4,159.5L438.5,158.3L432.6,157.3L426.7,156.9L420.8,157.0L415.0,157.5L412.1,157.3Q409.2,157.0 409.4,160.0L415.0,240.5Z"/><path stroke="#36328c" fill="#36328c" d="M415.0,240.5L409.6,317.5Q409.4,320.5 412.2,320.4L415.0,320.3L420.6,320.5L426.2,320.4L431.8,319.9L437.4,318.8L443.0,317.5L449.8,315.3L456.5,312.5L462.9,309.0L468.9,304.9L474.6,300.2L478.9,296.1L483.2,292.0L485.2,289.7Q487.2,287.5 490.2,288.2L495.0,289.3L505.4,291.4L527.3,295.1Q530.3,295.6 531.5,292.8L531.8,292.2Q533.0,289.5 530.6,287.8L512.5,275.3L488.5,260.6L483.7,257.4Q481.2,255.8 481.4,252.8L482.0,240.4L481.4,228.1Q481.2,225.1 483.7,223.5L488.5,220.3L512.5,205.6L530.6,193.1Q533.0,191.4 531.8,188.7L531.5,188.1Q530.3,185.3 527.3,185.8L505.4,189.5L495.0,191.6L490.2,192.7Q487.2,193.4 485.2,191.2L483.2,188.9L478.9,184.8L474.6,180.7L468.9,176.0L462.9,171.9L456.5,168.4L449.8,165.6L443.0,163.4L437.4,162.1L431.8,161.0L426.2,160.5L420.6,160.4L415.0,160.6L412.2,160.5Q409.4,160.4 409.6,163.4L415.0,240.5Z"/><path stroke="#36338c" fill="#36338c" d="M415.0,240.5L409.8,314.3Q409.6,317.3 412.6,317.3L420.4,317.3L425.7,317.0L431.1,316.3L436.4,315.2L441.6,313.8L448.1,311.5L454.3,308.6L460.2,305.2L465.8,301.2L471.1,296.7L475.0,292.8L478.8,288.7L480.6,286.5Q482.4,284.3 485.3,284.9L501.3,288.4L512.2,290.2L519.1,291.2Q522.1,291.6 523.3,288.9L523.4,288.7Q524.6,286.0 522.1,284.2L511.9,277.0L481.7,257.8L479.9,256.4Q478.1,255.1 478.2,252.1L478.8,240.4L478.2,228.8Q478.1,225.8 479.9,224.5L481.7,223.1L511.9,203.9L522.1,196.7Q524.6,194.9 523.4,192.2L523.3,192.0Q522.1,189.3 519.1,189.7L512.2,190.7L501.3,192.5L485.3,196.0Q482.4,196.6 480.6,194.4L478.8,192.2L475.0,188.1L471.1,184.2L465.8,179.7L460.2,175.7L454.3,172.3L448.1,169.4L441.6,167.1L436.4,165.7L431.1,164.6L425.7,163.9L420.4,163.6L412.6,163.6Q409.6,163.6 409.8,166.6L415.0,240.5Z"/><path stroke="#37338c" fill="#37338c" d="M415.0,240.5L410.1,310.8Q409.9,313.8 412.9,313.8L420.1,313.8L425.2,313.4L430.3,312.6L435.3,311.4L440.2,309.9L446.2,307.6L452.0,304.7L457.5,301.3L462.7,297.5L467.6,293.1L471.2,289.4L474.6,285.4L476.1,283.3Q477.7,281.3 480.6,282.0L483.4,282.7L497.2,285.4L507.7,287.2L511.9,287.8Q514.9,288.2 516.1,285.6L516.1,285.6Q517.2,282.9 514.8,281.2L511.4,278.7L502.7,272.9L498.6,270.4L487.7,263.1L481.2,259.1L478.3,257.0L476.7,255.7Q475.2,254.4 475.3,251.4L475.8,240.4L475.3,229.5Q475.2,226.5 476.7,225.2L478.3,223.9L481.2,221.8L487.7,217.8L498.6,210.5L502.7,208.0L511.4,202.2L514.8,199.7Q517.2,198.0 516.1,195.3L516.1,195.3Q514.9,192.7 511.9,193.1L507.7,193.7L497.2,195.5L483.4,198.2L480.6,198.9Q477.7,199.6 476.1,197.6L474.6,195.5L471.2,191.5L467.6,187.8L462.7,183.4L457.5,179.6L452.0,176.2L446.2,173.3L440.2,171.0L435.3,169.5L430.3,168.3L425.2,167.5L420.1,167.1L412.9,167.1Q409.9,167.1 410.1,170.1L415.0,240.5Z"/><path stroke="#37348c" fill="#37348c" d="M415.0,240.5L410.3,307.4Q410.1,310.4 412.6,310.5L415.0,310.6L419.9,310.4L424.7,309.7L429.5,308.8L434.2,307.6L438.8,306.0L444.3,303.5L449.6,300.6L454.7,297.2L459.4,293.5L463.8,289.4L467.0,285.8L469.9,282.0L471.3,279.9Q472.6,277.9 475.4,278.8L480.3,280.2L498.3,283.5L505.2,284.5Q508.1,285.0 509.2,282.5L509.2,282.5Q510.3,280.0 507.8,278.3L487.3,264.3L480.8,260.4L477.9,258.4L474.6,255.7Q472.3,253.7 472.5,250.7L473.0,240.4L472.5,230.2Q472.3,227.2 474.6,225.2L477.9,222.5L480.8,220.5L487.3,216.6L507.8,202.6Q510.3,200.9 509.2,198.4L509.2,198.4Q508.1,195.9 505.2,196.4L498.3,197.4L480.3,200.7L475.4,202.1Q472.6,203.0 471.3,201.0L469.9,198.9L467.0,195.1L463.8,191.5L459.4,187.4L454.7,183.7L449.6,180.3L444.3,177.4L438.8,174.9L434.2,173.3L429.5,172.1L424.7,171.2L419.9,170.5L415.0,170.3L412.6,170.4Q410.1,170.5 410.3,173.5L415.0,240.5Z"/><path stroke="#39368f" fill="#39368f" d="M415.0,240.5L410.6,304.0Q410.4,307.0 412.7,307.2L415.0,307.5L419.6,307.0L424.2,306.2L428.7,305.2L433.1,303.9L437.4,302.2L442.6,299.7L447.4,296.8L452.0,293.5L456.4,289.9L460.3,285.9L463.2,282.5L465.7,278.8L466.8,276.8Q467.9,274.9 470.8,275.7L481.2,278.7L494.5,280.6L498.5,281.3Q501.5,281.8 502.5,279.5L502.5,279.5Q503.5,277.2 501.0,275.5L497.7,273.3L486.9,265.6L480.4,261.8L477.4,259.8L471.9,255.1Q469.6,253.1 469.8,250.1L470.3,240.4L469.8,230.8Q469.6,227.8 471.9,225.8L477.4,221.1L480.4,219.1L486.9,215.3L497.7,207.6L501.0,205.4Q503.5,203.7 502.5,201.4L502.5,201.4Q501.5,199.1 498.5,199.6L494.5,200.3L481.2,202.2L470.8,205.2Q467.9,206.0 466.8,204.1L465.7,202.1L463.2,198.4L460.3,195.0L456.4,191.0L452.0,187.4L447.4,184.1L442.6,181.2L437.4,178.7L433.1,177.0L428.7,175.7L424.2,174.7L419.6,173.9L415.0,173.4L412.7,173.7Q410.4,173.9 410.6,176.9L415.0,240.5Z"/><path stroke="#3a3892" fill="#3a3892" d="M415.0,240.5L410.8,300.9Q410.6,303.9 412.8,304.2L412.8,304.2Q415.0,304.5 417.2,304.2L419.4,303.9L423.8,303.0L428.0,301.9L432.2,300.5L436.2,298.8L440.9,296.2L445.4,293.3L449.7,290.1L453.6,286.6L457.3,282.8L459.9,279.6L462.7,275.1Q464.4,272.6 466.1,273.1L467.8,273.6L478.3,276.1L482.0,277.2L491.8,278.3Q494.8,278.6 495.7,276.5L495.7,276.5Q496.7,274.4 494.2,272.6L486.5,266.8L480.0,263.1L477.0,261.2L469.3,254.5Q467.0,252.5 467.2,249.5L467.6,240.4L467.2,231.4Q467.0,228.4 469.3,226.4L477.0,219.7L480.0,217.8L486.5,214.1L494.2,208.3Q496.7,206.5 495.7,204.4L495.7,204.4Q494.8,202.3 491.8,202.6L482.0,203.7L478.3,204.8L467.8,207.3L466.1,207.8Q464.4,208.3 462.7,205.8L459.9,201.3L457.3,198.1L453.6,194.3L449.7,190.8L445.4,187.6L440.9,184.7L436.2,182.1L432.2,180.4L428.0,179.0L423.8,177.9L419.4,177.0L417.2,176.7Q415.0,176.4 412.8,176.7L412.8,176.7Q410.6,177.0 410.8,180.0L415.0,240.5Z"/><path stroke="#3d3c98" fill="#3d3c98" d="M415.0,240.5L411.0,297.8Q410.8,300.8 412.9,301.1L412.9,301.1Q415.0,301.5 417.1,301.1L419.2,300.8L423.3,299.8L427.3,298.6L431.2,297.2L435.0,295.5L439.5,293.0L443.7,290.3L447.7,287.3L451.5,284.1L455.1,280.6L457.6,277.6L459.9,274.4L461.0,272.7Q462.1,271.1 465.0,271.8L468.3,272.7L475.5,273.7L479.1,274.5L482.9,275.6L486.8,275.9Q489.7,276.2 490.6,274.2L490.6,274.2Q491.5,272.2 489.1,270.4L486.1,268.1L479.5,264.5L476.5,262.6L466.8,253.9Q464.6,251.9 464.7,248.9L465.1,240.4L464.7,232.0Q464.6,229.0 466.8,227.0L476.5,218.3L479.5,216.4L486.1,212.8L489.1,210.5Q491.5,208.7 490.6,206.7L490.6,206.7Q489.7,204.7 486.8,205.0L482.9,205.3L479.1,206.4L475.5,207.2L468.3,208.2L465.0,209.1Q462.1,209.8 461.0,208.2L459.9,206.5L457.6,203.3L455.1,200.3L451.5,196.8L447.7,193.6L443.7,190.6L439.5,187.9L435.0,185.4L431.2,183.7L427.3,182.3L423.3,181.1L419.2,180.1L417.1,179.8Q415.0,179.4 412.9,179.8L412.9,179.8Q410.8,180.1 411.0,183.1L415.0,240.5Z"/><path stroke="#3f409d" fill="#3f409d" d="M415.0,240.5L411.3,294.0Q411.1,296.9 413.0,297.3L413.0,297.3Q415.0,297.6 417.0,297.3L418.9,296.9L422.8,296.1L430.3,293.8L433.8,292.3L438.1,290.2L442.2,287.7L446.1,285.0L449.8,282.0L453.1,278.7L455.6,275.8L457.9,272.8L458.9,271.3Q459.9,269.7 461.3,270.1L462.6,270.4L468.9,271.7L470.3,271.8Q471.7,271.9 472.2,271.8L472.2,271.8Q472.7,271.6 474.6,271.7L476.5,271.8L483.7,274.0L484.6,274.1Q485.5,274.2 486.3,272.3L486.3,272.3Q487.2,270.4 486.5,269.9L485.7,269.3L478.7,265.5Q476.1,264.0 473.9,262.0L471.0,259.2L464.4,253.4Q462.2,251.4 462.2,248.4L462.3,240.4L462.2,232.5Q462.2,229.5 464.4,227.5L471.0,221.7L473.9,218.9Q476.1,216.9 478.7,215.4L485.7,211.6L486.5,211.0Q487.2,210.5 486.3,208.6L486.3,208.6Q485.5,206.7 484.6,206.8L483.7,206.9L476.5,209.1L474.6,209.2Q472.7,209.3 472.2,209.1L472.2,209.1Q471.7,209.0 470.3,209.1L468.9,209.2L462.6,210.5L461.3,210.8Q459.9,211.2 458.9,209.6L457.9,208.1L455.6,205.1L453.1,202.2L449.8,198.9L446.1,195.9L442.2,193.2L438.1,190.7L433.8,188.6L430.3,187.1L422.8,184.8L418.9,184.0L417.0,183.6Q415.0,183.3 413.0,183.6L413.0,183.6Q411.1,184.0 411.3,186.9L415.0,240.5Z"/><path stroke="#4146a3" fill="#4146a3" d="M415.0,240.5L411.5,290.2Q411.3,293.2 413.2,293.4L415.0,293.6L418.7,293.2L422.3,292.6L425.9,291.8L429.4,290.7L432.8,289.4L436.9,287.5L440.8,285.3L444.6,282.8L448.1,280.0L451.3,276.9L453.7,274.2L455.9,271.4L456.9,269.9Q457.9,268.4 460.5,269.1L463.1,269.7L466.4,270.2Q469.4,270.7 471.7,269.9L471.7,269.9Q474.0,269.0 474.8,269.2L474.8,269.2Q475.5,269.4 476.2,267.8L476.2,267.8Q476.9,266.2 476.3,265.8L476.3,265.8Q475.6,265.4 473.5,263.4L463.9,254.4Q461.7,252.3 460.1,251.4L460.1,251.4Q458.4,250.5 458.4,247.5L458.4,242.5L458.4,233.4Q458.4,230.4 460.1,229.5L460.1,229.5Q461.7,228.6 463.9,226.5L473.5,217.5Q475.6,215.5 476.3,215.1L476.3,215.1Q476.9,214.7 476.2,213.1L476.2,213.1Q475.5,211.5 474.8,211.7L474.8,211.7Q474.0,211.9 471.7,211.0L471.7,211.0Q469.4,210.2 466.4,210.7L463.1,211.2L460.5,211.8Q457.9,212.5 456.9,211.0L455.9,209.5L453.7,206.7L451.3,204.0L448.1,200.9L444.6,198.1L440.8,195.6L436.9,193.4L432.8,191.5L429.4,190.2L425.9,189.1L422.3,188.3L418.7,187.7L415.0,187.3L413.2,187.5Q411.3,187.7 411.5,190.7L415.0,240.5Z"/><path stroke="#434ba7" fill="#434ba7" d="M415.0,240.5L411.8,286.6Q411.6,289.6 414.6,289.6L418.4,289.6L421.9,289.3L425.3,288.8L428.6,288.0L431.9,287.0L435.9,285.4L439.7,283.4L443.4,281.1L446.8,278.5L450.0,275.6L452.4,273.0L454.6,270.4L455.6,268.9Q456.6,267.5 459.5,268.2L463.5,269.0L465.4,269.3Q467.4,269.6 469.4,268.5L469.4,268.5Q471.5,267.4 472.1,265.9L472.1,265.9Q472.8,264.4 470.6,262.4L465.5,257.5L461.4,253.3L459.3,252.0L457.0,250.8Q454.7,249.6 454.7,246.6L454.7,240.4L454.7,234.3Q454.7,231.3 457.0,230.1L459.3,228.9L461.4,227.6L465.5,223.4L470.6,218.5Q472.8,216.5 472.1,215.0L472.1,215.0Q471.5,213.5 469.4,212.4L469.4,212.4Q467.4,211.3 465.4,211.6L463.5,211.9L459.5,212.7Q456.6,213.4 455.6,212.0L454.6,210.5L452.4,207.9L450.0,205.3L446.8,202.4L443.4,199.8L439.7,197.5L435.9,195.5L431.9,193.9L428.6,192.9L425.3,192.1L421.9,191.6L418.4,191.3L414.6,191.3Q411.6,191.3 411.8,194.3L415.0,240.5Z"/><path stroke="#4552ab" fill="#4552ab" d="M415.0,240.5L412.0,283.1Q411.8,286.1 413.4,285.9L415.0,285.7L418.2,286.1L421.4,286.3L424.7,286.1L427.9,285.6L431.1,284.8L435.0,283.5L438.8,281.8L442.4,279.7L445.8,277.2L448.9,274.4L451.2,272.0L453.4,269.4L454.4,268.1Q455.3,266.7 458.1,267.3L460.9,267.8L463.2,268.2Q465.6,268.5 467.0,267.3L467.0,267.3Q468.5,266.0 469.1,264.6L469.1,264.6Q469.8,263.2 467.6,261.1L465.1,258.8L461.1,254.3L457.1,251.6L454.1,250.2Q451.4,248.9 451.4,245.9L451.4,235.0Q451.4,232.0 454.1,230.7L457.1,229.3L461.1,226.6L465.1,222.1L467.6,219.8Q469.8,217.7 469.1,216.3L469.1,216.3Q468.5,214.9 467.0,213.6L467.0,213.6Q465.6,212.4 463.2,212.7L460.9,213.1L458.1,213.6Q455.3,214.2 454.4,212.8L453.4,211.5L451.2,208.9L448.9,206.5L445.8,203.7L442.4,201.2L438.8,199.1L435.0,197.4L431.1,196.1L427.9,195.3L424.7,194.8L421.4,194.6L418.2,194.8L415.0,195.2L413.4,195.0Q411.8,194.8 412.0,197.8L415.0,240.5Z"/><path stroke="#4a5db3" fill="#4a5db3" d="M415.0,240.5L412.2,280.0Q412.0,283.0 413.5,282.8L415.0,282.6L421.0,283.3L424.1,283.4L427.2,283.2L430.4,282.8L434.2,281.7L438.2,280.1L441.5,278.3L444.8,276.0L447.9,273.4L450.2,271.1L452.3,268.6L453.3,267.3Q454.2,266.0 457.2,266.5L460.8,267.1Q463.8,267.6 465.1,264.8L465.2,264.5Q466.5,261.8 465.6,260.9L464.7,260.0L460.8,255.4L458.8,253.7L454.9,251.3L451.7,249.7Q449.0,248.3 448.8,245.3L448.6,241.7L448.9,235.6Q449.0,232.6 451.7,231.2L454.9,229.6L458.8,227.2L460.8,225.5L464.7,220.9L465.6,220.0Q466.5,219.1 465.2,216.4L465.1,216.1Q463.8,213.3 460.8,213.8L457.2,214.4Q454.2,214.9 453.3,213.6L452.3,212.3L450.2,209.8L447.9,207.5L444.8,204.9L441.5,202.6L438.2,200.8L434.2,199.2L430.4,198.1L427.2,197.7L424.1,197.5L421.0,197.6L415.0,198.3L413.5,198.1Q412.0,197.9 412.2,200.9L415.0,240.5Z"/><path stroke="#526fc0" fill="#526fc0" d="M415.0,240.5L412.4,277.4Q412.2,280.4 413.6,280.2L415.0,280.1L420.6,280.6L426.5,280.7L429.5,280.5L433.7,279.9L437.1,278.8L440.6,277.1L443.8,274.9L446.9,272.4L449.1,270.2L451.2,267.8L452.2,266.5Q453.1,265.3 456.1,265.7L459.2,266.2Q462.2,266.7 462.5,265.0L462.8,263.3L463.4,262.0Q464.0,260.8 463.2,259.7L462.4,258.7L460.4,256.4L458.5,254.6L456.6,253.1L454.7,252.0L449.4,249.2L448.6,248.6Q447.7,248.0 447.8,245.0L447.8,240.4L447.8,235.9Q447.7,232.9 448.6,232.3L449.4,231.7L454.7,228.9L456.6,227.8L458.5,226.3L460.4,224.5L462.4,222.2L463.2,221.2Q464.0,220.1 463.4,218.9L462.8,217.6L462.5,215.9Q462.2,214.2 459.2,214.7L456.1,215.2Q453.1,215.6 452.2,214.4L451.2,213.1L449.1,210.7L446.9,208.5L443.8,206.0L440.6,203.8L437.1,202.1L433.7,201.0L429.5,200.4L426.5,200.2L420.6,200.3L415.0,200.8L413.6,200.7Q412.2,200.5 412.4,203.5L415.0,240.5Z"/><path stroke="#5a83cd" fill="#5a83cd" d="M415.0,240.5L412.6,275.0Q412.4,278.0 413.7,277.9L415.0,277.8L420.3,278.2L425.8,278.2L428.6,278.0L432.3,277.5L435.9,276.7L439.4,275.4L442.8,273.6L445.0,272.1L448.1,269.3L450.2,267.0L451.1,265.8Q452.0,264.5 455.0,265.0L457.9,265.5Q460.8,265.9 461.0,264.2L461.0,264.2Q461.1,262.5 461.6,261.3L461.6,261.3Q462.2,260.0 461.1,258.7L460.1,257.4L458.2,255.5L456.3,253.9L454.5,252.6L449.2,249.8L448.5,249.3Q447.7,248.8 447.4,248.3L447.4,248.3Q447.0,247.9 447.0,244.9L447.0,241.2L447.0,236.0Q447.0,233.0 447.4,232.6L447.4,232.6Q447.7,232.1 448.5,231.6L449.2,231.1L454.5,228.3L456.3,227.0L458.2,225.4L460.1,223.5L461.1,222.2Q462.2,220.9 461.6,219.6L461.6,219.6Q461.1,218.4 461.0,216.7L461.0,216.7Q460.8,215.0 457.9,215.4L455.0,215.9Q452.0,216.4 451.1,215.1L450.2,213.9L448.1,211.6L445.0,208.8L442.8,207.3L439.4,205.5L435.9,204.2L432.3,203.4L428.6,202.9L425.8,202.7L420.3,202.7L415.0,203.1L413.7,203.0Q412.4,202.9 412.6,205.9L415.0,240.5Z"/><path stroke="#6396d8" fill="#6396d8" d="M415.0,240.5L412.7,273.0Q412.5,276.0 413.8,275.9L415.0,275.7L420.0,276.1L425.2,276.0L431.2,275.3L434.6,274.5L437.9,273.3L441.1,271.6L444.1,269.6L446.4,267.8L448.3,265.6Q450.3,263.4 451.0,263.7L451.7,264.0L456.6,264.7Q459.5,265.2 459.5,263.5L459.5,263.5Q459.4,261.7 460.0,260.5L460.0,260.5Q460.5,259.3 459.2,257.9L457.9,256.4L456.1,254.7L454.2,253.3L449.0,250.3L448.3,249.8Q447.5,249.3 446.9,248.5L446.9,248.5Q446.3,247.7 446.3,247.4L446.3,247.1L446.3,236.2Q446.3,233.2 446.9,232.4L446.9,232.4Q447.5,231.6 448.3,231.1L449.0,230.6L454.2,227.6L456.1,226.2L457.9,224.5L459.2,223.0Q460.5,221.6 460.0,220.4L460.0,220.4Q459.4,219.2 459.5,217.4L459.5,217.4Q459.5,215.7 456.6,216.2L451.7,216.9L451.0,217.2Q450.3,217.5 448.3,215.3L446.4,213.1L444.1,211.3L441.1,209.3L437.9,207.6L434.6,206.4L431.2,205.6L425.2,204.9L420.0,204.8L415.0,205.2L413.8,205.0Q412.5,204.9 412.7,207.9L415.0,240.5Z"/><path stroke="#6ba7e1" fill="#6ba7e1" d="M415.0,240.5L412.9,271.0Q412.7,274.0 413.8,273.9L415.0,273.8L419.7,274.2L424.7,274.2L427.2,274.0L430.4,273.5L433.5,272.6L436.6,271.4L439.6,269.8L442.4,267.9L444.5,266.2L446.3,264.1Q448.1,262.0 450.1,262.8L452.0,263.5L455.4,264.1Q458.3,264.5 458.2,263.3L458.1,262.2L458.0,261.5Q457.8,260.9 458.3,259.8L458.3,259.8Q458.9,258.7 457.3,257.0L455.8,255.4L454.0,254.0L449.9,251.4Q447.4,249.8 446.5,248.7L446.5,248.7Q445.6,247.5 445.6,244.5L445.6,236.4Q445.6,233.4 446.5,232.2L446.5,232.2Q447.4,231.1 449.9,229.5L454.0,226.9L455.8,225.5L457.3,223.9Q458.9,222.2 458.3,221.1L458.3,221.1Q457.8,220.0 458.0,219.4L458.1,218.7L458.2,217.6Q458.3,216.4 455.4,216.8L452.0,217.4L450.1,218.1Q448.1,218.9 446.3,216.8L444.5,214.7L442.4,213.0L439.6,211.1L436.6,209.5L433.5,208.3L430.4,207.4L427.2,206.9L424.7,206.7L419.7,206.7L415.0,207.1L413.8,207.0Q412.7,206.9 412.9,209.9L415.0,240.5Z"/><path stroke="#72aee3" fill="#72aee3" d="M415.0,240.5L413.0,269.2Q412.8,272.2 413.9,272.1L415.0,272.0L421.8,272.5L426.4,272.3L429.6,271.9L432.6,271.1L435.6,269.9L438.3,268.3L440.9,266.5L442.9,264.8L444.6,262.8Q446.2,260.8 449.0,261.9L452.3,263.1L454.7,263.5Q457.2,263.9 456.7,262.0L456.7,262.0Q456.3,260.2 456.8,259.1L456.8,259.1Q457.3,258.0 456.4,257.1L455.6,256.2L453.8,254.7L449.7,252.0Q447.2,250.4 446.0,248.9L446.0,248.9Q444.9,247.4 444.9,244.4L444.9,236.5Q444.9,233.5 446.0,232.0L446.0,232.0Q447.2,230.5 449.7,228.9L453.8,226.2L455.6,224.7L456.4,223.8Q457.3,222.9 456.8,221.8L456.8,221.8Q456.3,220.7 456.7,218.9L456.7,218.9Q457.2,217.0 454.7,217.4L452.3,217.8L449.0,219.0Q446.2,220.1 444.6,218.1L442.9,216.1L440.9,214.4L438.3,212.6L435.6,211.0L432.6,209.8L429.6,209.0L426.4,208.6L421.8,208.4L415.0,208.9L413.9,208.8Q412.8,208.7 413.0,211.7L415.0,240.5Z"/><path stroke="#7ab5e3" fill="#7ab5e3" d="M415.0,240.5L413.1,267.7Q412.9,270.7 413.9,270.6L415.0,270.6L421.4,270.8L423.7,270.8L428.9,270.3L431.8,269.6L434.6,268.6L437.3,267.1L439.8,265.3L441.7,263.7L443.3,261.8Q444.8,259.9 445.8,260.1L446.7,260.4L452.5,262.7L454.3,262.9Q456.0,263.2 455.8,262.5L455.7,261.7L455.2,260.6Q454.8,259.5 455.3,258.4L455.3,258.4Q455.7,257.4 454.7,256.4L453.6,255.4L449.5,252.6Q447.0,250.9 446.4,250.2L445.7,249.4L444.9,248.3Q444.1,247.2 444.1,244.2L444.1,240.4L444.1,236.7Q444.1,233.7 444.9,232.6L445.7,231.5L446.4,230.7Q447.0,230.0 449.5,228.3L453.6,225.5L454.7,224.5Q455.7,223.5 455.3,222.5L455.3,222.5Q454.8,221.4 455.2,220.3L455.7,219.2L455.8,218.4Q456.0,217.7 454.3,218.0L452.5,218.2L446.7,220.5L445.8,220.8Q444.8,221.0 443.3,219.1L441.7,217.2L439.8,215.6L437.3,213.8L434.6,212.3L431.8,211.3L428.9,210.6L423.7,210.1L421.4,210.1L415.0,210.3L413.9,210.3Q412.9,210.2 413.1,213.2L415.0,240.5Z"/><path stroke="#83bbe2" fill="#83bbe2" d="M415.0,240.5L413.2,266.5Q413.0,269.5 414.0,269.4L415.0,269.3L419.1,269.5L423.3,269.4L428.2,268.7L430.9,268.1L433.6,267.1L436.2,265.8L438.7,264.2L440.5,262.7L442.1,260.9Q443.6,259.1 445.3,259.5L446.9,260.0L452.8,262.2L453.8,262.4Q454.8,262.6 454.4,261.3L453.9,260.1L453.5,259.4Q453.1,258.7 453.6,257.7L453.6,257.7Q454.0,256.7 452.8,255.7L451.6,254.8L449.2,253.1Q446.8,251.4 445.6,250.0L444.3,248.5L443.8,247.8Q443.3,247.0 443.3,246.7L443.3,246.3L443.3,236.9Q443.3,233.9 444.4,232.4L445.5,230.9L446.8,229.5L451.6,226.1L452.8,225.2Q454.0,224.2 453.6,223.2L453.6,223.2Q453.1,222.2 453.5,221.5L453.9,220.8L454.4,219.6Q454.8,218.3 453.8,218.5L452.8,218.7L446.9,220.9L445.3,221.4Q443.6,221.8 442.1,220.0L440.5,218.2L438.7,216.7L436.2,215.1L433.6,213.8L430.9,212.8L428.2,212.2L423.3,211.5L419.1,211.4L415.0,211.6L414.0,211.5Q413.0,211.4 413.2,214.4L415.0,240.5Z"/><path stroke="#88bfdd" fill="#88bfdd" d="M415.0,240.5L413.3,265.1Q413.1,268.1 414.0,268.1L415.0,268.0L418.9,268.2L422.9,268.1L427.5,267.4L430.1,266.7L432.7,265.8L435.1,264.5L437.5,263.0L439.2,261.6L440.7,259.8Q442.2,258.1 444.7,258.8L447.2,259.5L450.7,260.8Q453.5,261.8 452.3,259.8L452.3,259.8Q451.1,257.7 451.5,256.8L451.5,256.8Q452.0,255.8 449.5,254.0L446.7,251.9L444.1,249.2L443.3,248.0Q442.6,246.8 442.5,243.8L442.5,240.4L442.5,237.1Q442.6,234.1 443.3,232.9L444.1,231.7L446.7,229.0L449.5,226.9Q452.0,225.1 451.5,224.1L451.5,224.1Q451.1,223.2 452.3,221.1L452.3,221.1Q453.5,219.1 450.7,220.1L447.2,221.4L444.7,222.1Q442.2,222.8 440.7,221.1L439.2,219.3L437.5,217.9L435.1,216.4L432.7,215.1L430.1,214.2L427.5,213.5L422.9,212.8L418.9,212.7L415.0,212.9L414.0,212.8Q413.1,212.8 413.3,215.8L415.0,240.5Z"/><path stroke="#8bc0d5" fill="#8bc0d5" d="M415.0,240.5L413.4,263.8Q413.2,266.8 414.1,266.8L415.0,266.7L418.7,266.9L422.5,266.8L426.9,266.1L429.4,265.5L431.8,264.6L434.1,263.3L436.3,261.8L438.0,260.5L439.4,258.9Q440.8,257.2 443.2,257.9L445.6,258.5L448.3,259.5Q451.1,260.5 450.5,259.6L449.9,258.7L449.4,257.7Q449.0,256.7 449.4,255.8L449.4,255.8Q449.8,254.9 448.1,253.7L446.5,252.5L445.2,251.2L442.8,248.4L442.3,247.5Q441.8,246.6 441.7,243.6L441.7,240.4L441.7,237.3Q441.8,234.3 442.3,233.4L442.8,232.5L445.2,229.7L446.5,228.4L448.1,227.2Q449.8,226.0 449.4,225.1L449.4,225.1Q449.0,224.2 449.4,223.2L449.9,222.2L450.5,221.3Q451.1,220.4 448.3,221.4L445.6,222.4L443.2,223.0Q440.8,223.7 439.4,222.0L438.0,220.4L436.3,219.1L434.1,217.6L431.8,216.3L429.4,215.4L426.9,214.8L422.5,214.1L418.7,214.0L415.0,214.2L414.1,214.1Q413.2,214.1 413.4,217.1L415.0,240.5Z"/><path stroke="#8bbfcc" fill="#8bbfcc" d="M415.0,240.5L413.5,262.6Q413.2,265.6 414.1,265.5L415.0,265.4L418.5,265.6L422.2,265.5L426.4,264.9L428.7,264.3L431.0,263.4L433.2,262.2L435.3,260.8L436.8,259.5L438.1,257.9Q439.5,256.4 442.4,257.1L445.9,258.0L446.8,258.3Q447.7,258.6 447.3,257.2L447.3,257.2Q446.9,255.7 447.3,254.9L447.3,254.9Q447.7,254.0 446.3,252.9L445.0,251.8L443.7,250.5L442.6,249.2L441.6,247.8Q440.7,246.4 440.7,243.4L440.7,240.4L440.7,237.5Q440.7,234.5 441.6,233.1L442.6,231.7L443.7,230.4L445.0,229.1L446.3,228.0Q447.7,226.9 447.3,226.0L447.3,226.0Q446.9,225.2 447.3,223.7L447.3,223.7Q447.7,222.3 446.8,222.6L445.9,222.9L442.4,223.8Q439.5,224.5 438.1,223.0L436.8,221.4L435.3,220.1L433.2,218.7L431.0,217.5L428.7,216.6L426.4,216.0L422.2,215.4L418.5,215.3L415.0,215.5L414.1,215.4Q413.2,215.3 413.5,218.3L415.0,240.5Z"/><path stroke="#89bec2" fill="#89bec2" d="M415.0,240.5L413.5,261.4Q413.3,264.4 414.2,264.3L415.0,264.3L418.4,264.4L421.8,264.3L425.8,263.7L428.0,263.1L430.2,262.2L432.3,261.1L434.2,259.7L435.7,258.5L437.0,257.0Q438.2,255.6 441.1,256.3L442.5,256.6Q445.4,257.3 445.2,256.1L445.2,256.1Q445.0,254.8 445.4,254.0L445.4,254.0Q445.8,253.2 444.6,252.2L443.5,251.2L442.3,249.9L441.0,248.0Q439.6,246.1 439.5,243.3L439.4,240.4L439.5,237.6Q439.6,234.8 441.0,232.9L442.3,231.0L443.5,229.7L444.6,228.7Q445.8,227.7 445.4,226.9L445.4,226.9Q445.0,226.1 445.2,224.8L445.2,224.8Q445.4,223.6 442.5,224.3L441.1,224.6Q438.2,225.3 437.0,223.9L435.7,222.4L434.2,221.2L432.3,219.8L430.2,218.7L428.0,217.8L425.8,217.2L421.8,216.6L418.4,216.5L415.0,216.6L414.2,216.6Q413.3,216.5 413.5,219.5L415.0,240.5Z"/><path stroke="#87bcb8" fill="#87bcb8" d="M415.0,240.5L413.7,259.6Q413.5,262.6 414.2,262.5L414.2,262.5Q415.0,262.4 416.6,262.6L418.1,262.9L422.1,263.0L425.3,262.5L427.4,261.9L429.4,261.1L431.4,260.0L433.3,258.8L434.7,257.6L435.8,256.2Q437.0,254.8 439.9,255.5L440.7,255.7Q443.6,256.3 443.4,255.2L443.4,255.2Q443.3,254.0 443.6,253.2L443.6,253.2Q443.9,252.5 443.0,251.5L442.1,250.6L440.3,248.3Q438.5,245.9 438.3,243.2L438.1,240.4L438.3,237.7Q438.5,235.0 440.3,232.6L442.1,230.3L443.0,229.4Q443.9,228.4 443.6,227.7L443.6,227.7Q443.3,226.9 443.4,225.7L443.4,225.7Q443.6,224.6 440.7,225.2L439.9,225.4Q437.0,226.1 435.8,224.7L434.7,223.3L433.3,222.1L431.4,220.9L429.4,219.8L427.4,219.0L425.3,218.4L422.1,217.9L418.1,218.0L416.6,218.3Q415.0,218.5 414.2,218.4L414.2,218.4Q413.5,218.3 413.7,221.3L415.0,240.5Z"/><path stroke="#83b8a7" fill="#83b8a7" d="M415.0,240.5L413.8,257.7Q413.6,260.7 414.3,260.5L414.3,260.5Q415.0,260.4 416.4,260.7L417.9,261.0L421.0,261.3L424.7,261.2L427.5,260.6L428.7,260.1L430.6,259.0L433.7,256.7L434.8,255.4Q435.9,254.1 438.8,254.7L439.0,254.7Q441.9,255.4 441.7,254.3L441.7,254.3Q441.6,253.2 441.9,252.5L441.9,252.5Q442.2,251.7 440.5,249.7L438.7,247.6L438.1,246.6Q437.4,245.6 437.2,243.0L437.0,240.4L437.2,237.9Q437.4,235.3 438.1,234.3L438.7,233.3L440.5,231.2Q442.2,229.2 441.9,228.4L441.9,228.4Q441.6,227.7 441.7,226.6L441.7,226.6Q441.9,225.5 439.0,226.2L438.8,226.2Q435.9,226.8 434.8,225.5L433.7,224.2L430.6,221.9L428.7,220.8L427.5,220.3L424.7,219.7L421.0,219.6L417.9,219.9L416.4,220.2Q415.0,220.5 414.3,220.4L414.3,220.4Q413.6,220.2 413.8,223.2L415.0,240.5Z"/><path stroke="#80b698" fill="#80b698" d="M415.0,240.5L413.9,256.0Q413.7,259.0 414.4,258.8L414.4,258.8Q415.0,258.7 417.0,259.1L419.0,259.5L422.0,259.8L424.0,259.8L426.0,259.5L427.9,258.9L429.7,258.0L431.4,256.9L432.6,255.8L433.7,254.6Q434.8,253.3 437.5,253.9L437.5,253.9Q440.3,254.5 440.1,253.5L440.1,253.5Q440.0,252.4 440.3,251.7L440.3,251.7Q440.6,251.1 439.5,249.8L438.4,248.5L437.4,247.0Q436.3,245.4 436.1,242.9L435.9,240.4L436.1,238.0Q436.3,235.5 437.4,233.9L438.4,232.4L439.5,231.1Q440.6,229.8 440.3,229.2L440.3,229.2Q440.0,228.5 440.1,227.4L440.1,227.4Q440.3,226.4 437.5,227.0L437.5,227.0Q434.8,227.6 433.7,226.3L432.6,225.1L431.4,224.0L429.7,222.9L427.9,222.0L426.0,221.4L424.0,221.1L422.0,221.1L419.0,221.4L417.0,221.8Q415.0,222.2 414.4,222.1L414.4,222.1Q413.7,221.9 413.9,224.9L415.0,240.5Z"/><path stroke="#7eb58a" fill="#7eb58a" d="M415.0,240.5L414.0,254.4Q413.8,257.4 414.4,257.3L414.4,257.3Q415.0,257.1 416.9,257.6L418.7,258.0L421.5,258.4L423.4,258.4L425.2,258.2L427.0,257.7L428.7,256.9L430.4,255.9L431.6,254.9L432.6,253.7Q433.6,252.6 436.2,253.1L436.2,253.1Q438.8,253.7 438.6,252.6L438.6,252.6Q438.4,251.6 438.7,251.0L438.7,251.0Q438.9,250.4 438.1,249.3L437.2,248.3L436.3,246.7Q435.3,245.2 435.0,242.8L434.8,240.4L435.0,238.1Q435.3,235.7 436.3,234.2L437.2,232.6L438.1,231.6Q438.9,230.5 438.7,229.9L438.7,229.9Q438.4,229.3 438.6,228.3L438.6,228.3Q438.8,227.2 436.2,227.8L436.2,227.8Q433.6,228.3 432.6,227.2L431.6,226.0L430.4,225.0L428.7,224.0L427.0,223.2L425.2,222.7L423.4,222.5L421.5,222.5L418.7,222.9L416.9,223.3Q415.0,223.8 414.4,223.6L414.4,223.6Q413.8,223.5 414.0,226.5L415.0,240.5Z"/><path stroke="#7cb47b" fill="#7cb47b" d="M415.0,240.5L414.1,253.0Q413.9,256.0 414.5,255.9L414.5,255.9Q415.0,255.7 416.7,256.2L418.4,256.7L421.0,257.1L422.8,257.1L424.5,257.0L426.3,256.6L427.9,255.8L429.4,254.9L430.6,254.0L431.6,253.0Q432.5,251.9 434.9,252.3L434.9,252.3Q437.2,252.8 437.0,251.8L437.0,251.8Q436.8,250.9 437.1,250.3L437.1,250.3Q437.3,249.7 436.7,248.9L436.1,248.0L435.2,246.5Q434.3,244.9 434.0,242.7L434.0,242.7Q433.7,240.4 434.0,238.2L434.0,238.2Q434.3,236.0 435.2,234.4L436.1,232.9L436.7,232.0Q437.3,231.2 437.1,230.6L437.1,230.6Q436.8,230.0 437.0,229.1L437.0,229.1Q437.2,228.1 434.9,228.6L434.9,228.6Q432.5,229.0 431.6,227.9L430.6,226.9L429.4,226.0L427.9,225.1L426.3,224.3L424.5,223.9L422.8,223.8L421.0,223.8L418.4,224.2L416.7,224.7Q415.0,225.2 414.5,225.0L414.5,225.0Q413.9,224.9 414.1,227.9L415.0,240.5Z"/><path stroke="#7bb26a" fill="#7bb26a" d="M415.0,240.5L414.2,251.7Q414.0,254.7 414.5,254.6L414.5,254.6Q415.0,254.5 416.6,254.9L418.2,255.4L420.6,255.9L422.2,256.0L423.9,255.9L425.5,255.5L427.1,254.9L428.6,254.0L429.7,253.2L430.6,252.2Q431.5,251.2 433.6,251.6L433.6,251.6Q435.7,252.0 435.5,251.1L435.5,251.1Q435.4,250.2 435.6,249.6L435.6,249.6Q435.8,249.1 435.1,247.8L434.3,246.6L433.8,245.6Q433.3,244.7 433.0,242.6L433.0,242.6Q432.7,240.4 433.0,238.3L433.0,238.3Q433.3,236.2 433.8,235.3L434.3,234.3L435.1,233.1Q435.8,231.8 435.6,231.3L435.6,231.3Q435.4,230.7 435.5,229.8L435.5,229.8Q435.7,228.9 433.6,229.3L433.6,229.3Q431.5,229.7 430.6,228.7L429.7,227.7L428.6,226.9L427.1,226.0L425.5,225.4L423.9,225.0L422.2,224.9L420.6,225.0L418.2,225.5L416.6,226.0Q415.0,226.4 414.5,226.3L414.5,226.3Q414.0,226.2 414.2,229.2L415.0,240.5Z"/><path stroke="#7ab25b" fill="#7ab25b" d="M415.0,240.5L414.3,250.7Q414.1,253.7 414.5,253.6L414.5,253.6Q415.0,253.6 417.6,254.2L420.2,254.8L421.7,254.9L423.3,254.9L424.1,254.7Q424.9,254.6 426.3,253.9L427.7,253.2L428.8,252.5L429.7,251.5Q430.5,250.6 432.4,250.9L432.4,250.9Q434.3,251.2 434.2,250.4L434.2,250.4Q434.0,249.5 434.2,249.0L434.2,249.0Q434.5,248.5 433.9,247.5L433.3,246.4L432.8,245.5Q432.4,244.5 432.1,242.5L432.1,242.5Q431.8,240.4 432.1,238.4L432.1,238.4Q432.4,236.4 432.8,235.4L433.3,234.5L433.9,233.4Q434.5,232.4 434.2,231.9L434.2,231.9Q434.0,231.4 434.2,230.5L434.2,230.5Q434.3,229.7 432.4,230.0L432.4,230.0Q430.5,230.3 429.7,229.4L428.8,228.4L427.7,227.7L426.3,227.0Q424.9,226.3 424.1,226.2L423.3,226.0L421.7,226.0L420.2,226.1L417.6,226.7Q415.0,227.3 414.5,227.3L414.5,227.3Q414.1,227.2 414.3,230.2L415.0,240.5Z"/><path stroke="#79b14c" fill="#79b14c" d="M415.0,240.5L414.3,249.9Q414.1,252.9 414.6,252.8L414.6,252.8Q415.0,252.8 418.0,253.3L421.2,253.9L422.8,253.9L423.5,253.8Q424.2,253.7 425.6,253.1L427.0,252.4L428.0,251.8L428.8,250.9Q429.6,250.0 431.3,250.2L431.3,250.2Q433.0,250.5 432.9,249.7L432.9,249.7Q432.7,248.9 432.9,248.5L432.9,248.5Q433.2,248.0 432.7,247.1L432.3,246.3L431.5,244.3L431.2,242.4Q430.9,240.4 431.2,238.5L431.5,236.6L432.3,234.6L432.7,233.8Q433.2,232.9 432.9,232.4L432.9,232.4Q432.7,232.0 432.9,231.2L432.9,231.2Q433.0,230.4 431.3,230.7L431.3,230.7Q429.6,230.9 428.8,230.0L428.0,229.1L427.0,228.5L425.6,227.8Q424.2,227.2 423.5,227.1L422.8,227.0L421.2,227.0L418.0,227.6Q415.0,228.1 414.6,228.1L414.6,228.1Q414.1,228.0 414.3,231.0L415.0,240.5Z"/><path stroke="#78b03d" fill="#78b03d" d="M415.0,240.5L414.4,249.1Q414.2,252.1 414.6,252.1L414.6,252.1Q415.0,252.0 417.2,252.3L419.4,252.7L422.2,252.9L422.8,252.9Q423.4,252.8 424.2,252.6L425.0,252.4L426.2,251.7L426.7,251.4Q427.2,251.1 428.0,250.2L428.0,250.2Q428.8,249.4 430.3,249.6L430.3,249.6Q431.8,249.8 431.7,249.1L431.7,249.1Q431.5,248.4 431.7,247.9L431.7,247.9Q431.9,247.5 431.4,246.2L430.9,244.9L430.4,242.9L430.0,241.7Q429.5,240.4 430.0,239.2L430.4,238.0L430.9,236.0L431.4,234.7Q431.9,233.4 431.7,233.0L431.7,233.0Q431.5,232.5 431.7,231.8L431.7,231.8Q431.8,231.1 430.3,231.3L430.3,231.3Q428.8,231.5 428.0,230.7L428.0,230.7Q427.2,229.8 426.7,229.5L426.2,229.2L425.0,228.5L424.2,228.3Q423.4,228.1 422.8,228.0L422.2,228.0L419.4,228.2L417.2,228.6Q415.0,228.9 414.6,228.8L414.6,228.8Q414.2,228.8 414.4,231.8L415.0,240.5Z"/><path stroke="#73a933" fill="#73a933" d="M415.0,240.5L414.4,248.4Q414.2,251.4 414.6,251.4L414.6,251.4Q415.0,251.3 417.7,251.6L420.3,251.9L421.6,251.8Q422.9,251.8 424.3,251.4L425.7,250.9L426.1,250.7Q426.5,250.4 427.2,249.7L427.2,249.7Q427.9,248.9 429.3,249.0L429.3,249.0Q430.7,249.2 430.6,248.5L430.6,248.5Q430.4,247.8 430.6,247.4L430.6,247.4Q430.8,247.0 429.9,244.7L429.0,242.4L428.5,241.4Q428.0,240.4 428.5,239.5L429.0,238.5L429.9,236.2Q430.8,233.9 430.6,233.5L430.6,233.5Q430.4,233.1 430.6,232.4L430.6,232.4Q430.7,231.7 429.3,231.9L429.3,231.9Q427.9,232.0 427.2,231.2L427.2,231.2Q426.5,230.5 426.1,230.2L425.7,230.0L424.3,229.5Q422.9,229.1 421.6,229.1L420.3,229.0L417.7,229.3Q415.0,229.6 414.6,229.5L414.6,229.5Q414.2,229.5 414.4,232.5L415.0,240.5Z"/><path stroke="#71a62e" fill="#71a62e" d="M415.0,240.5L414.5,247.7Q414.3,250.7 414.6,250.7L415.0,250.6L419.9,251.1L422.3,250.9L423.5,250.6L424.5,250.1Q425.5,249.6 426.3,248.9L426.3,248.9Q427.0,248.3 428.3,248.4L428.3,248.4Q429.7,248.6 429.5,248.0L429.5,248.0Q429.4,247.3 429.6,247.0L429.6,247.0Q429.7,246.6 429.7,246.4L429.6,246.2L427.6,242.0L427.1,241.2Q426.6,240.4 427.1,239.7L427.6,238.9L429.6,234.7L429.7,234.5Q429.7,234.3 429.6,233.9L429.6,233.9Q429.4,233.6 429.5,232.9L429.5,232.9Q429.7,232.3 428.3,232.5L428.3,232.5Q427.0,232.6 426.3,232.0L426.3,232.0Q425.5,231.3 424.5,230.8L423.5,230.3L422.3,230.0L419.9,229.8L415.0,230.3L414.6,230.2Q414.3,230.2 414.5,233.2L415.0,240.5Z"/><path stroke="#72a72d" fill="#72a72d" d="M415.0,240.5L414.5,247.1Q414.3,250.1 414.7,250.1L415.0,250.0L418.6,250.3L420.7,250.3L421.7,250.1L423.8,249.3L424.2,249.1Q424.6,248.9 425.3,248.2L425.3,248.2Q426.0,247.6 427.3,247.8L427.3,247.8Q428.7,248.1 428.5,247.5L428.5,247.5Q428.4,246.9 428.6,246.5L428.6,246.5Q428.7,246.1 427.8,244.4L426.9,242.7L426.2,241.6Q425.5,240.4 426.2,239.3L426.9,238.2L427.8,236.5Q428.7,234.8 428.6,234.4L428.6,234.4Q428.4,234.0 428.5,233.4L428.5,233.4Q428.7,232.8 427.3,233.1L427.3,233.1Q426.0,233.3 425.3,232.7L425.3,232.7Q424.6,232.0 424.2,231.8L423.8,231.6L421.7,230.8L420.7,230.6L418.6,230.6L415.0,230.9L414.7,230.8Q414.3,230.8 414.5,233.8L415.0,240.5Z"/><path stroke="#73a72d" fill="#73a72d" d="M415.0,240.5L414.6,246.5Q414.4,249.5 416.4,249.6L418.3,249.6L420.2,249.5L421.2,249.3L423.1,248.6L423.5,248.4Q423.8,248.1 424.4,247.6L424.4,247.6Q425.0,247.0 426.3,247.2L426.3,247.2Q427.7,247.5 427.4,246.9L427.4,246.9Q427.2,246.3 427.4,246.0L427.4,246.0Q427.5,245.7 426.4,243.6L425.3,241.6L425.1,241.0Q425.0,240.4 425.1,239.9L425.3,239.3L426.4,237.3Q427.5,235.2 427.4,234.9L427.4,234.9Q427.2,234.6 427.4,234.0L427.4,234.0Q427.7,233.4 426.3,233.7L426.3,233.7Q425.0,233.9 424.4,233.3L424.4,233.3Q423.8,232.8 423.5,232.5L423.1,232.3L421.2,231.6L420.2,231.4L418.3,231.3L416.4,231.3Q414.4,231.4 414.6,234.4L415.0,240.5Z"/><path stroke="#75a72d" fill="#75a72d" d="M415.0,240.5L414.6,245.9Q414.4,248.9 416.3,248.9L418.1,249.0L419.4,248.8Q420.7,248.6 421.9,248.1L421.9,248.1Q423.1,247.5 423.6,247.0L423.6,247.0Q424.2,246.4 425.4,246.6L425.4,246.6Q426.6,246.9 426.4,246.3L426.4,246.3Q426.2,245.8 426.3,245.5L426.3,245.5Q426.5,245.2 425.8,244.0L425.2,242.8L424.9,241.6Q424.5,240.4 424.9,239.3L425.2,238.1L425.8,236.9Q426.5,235.7 426.3,235.4L426.3,235.4Q426.2,235.1 426.4,234.6L426.4,234.6Q426.6,234.0 425.4,234.3L425.4,234.3Q424.2,234.5 423.6,233.9L423.6,233.9Q423.1,233.4 421.9,232.8L421.9,232.8Q420.7,232.3 419.4,232.1L418.1,231.9L416.3,232.0Q414.4,232.0 414.6,235.0L415.0,240.5Z"/><path stroke="#76a82c" fill="#76a82c" d="M415.0,240.5L414.7,245.3Q414.5,248.3 416.2,248.4L417.9,248.4L419.1,248.2Q420.3,248.0 421.3,247.5L421.3,247.5Q422.4,246.9 422.9,246.4L422.9,246.4Q423.4,245.9 424.5,246.1L424.5,246.1Q425.6,246.3 425.4,245.8L425.4,245.8Q425.2,245.3 425.3,245.1L425.3,245.1Q425.5,244.8 425.0,243.8L424.6,242.9L424.4,241.7Q424.1,240.4 424.4,239.2L424.6,238.0L425.0,237.1Q425.5,236.1 425.3,235.8L425.3,235.8Q425.2,235.6 425.4,235.1L425.4,235.1Q425.6,234.6 424.5,234.8L424.5,234.8Q423.4,235.0 422.9,234.5L422.9,234.5Q422.4,234.0 421.3,233.4L421.3,233.4Q420.3,232.9 419.1,232.7L417.9,232.5L416.2,232.5Q414.5,232.6 414.7,235.6L415.0,240.5Z"/><path stroke="#78a82c" fill="#78a82c" d="M415.0,240.5L414.7,244.8Q414.5,247.8 416.1,247.8L417.7,247.9L419.2,247.7L419.9,247.5L420.6,247.1Q421.3,246.7 422.0,246.1L422.0,246.1Q422.7,245.4 423.6,245.6L423.6,245.6Q424.6,245.8 424.5,245.4L424.5,245.4Q424.3,244.9 424.5,244.7L424.5,244.7Q424.6,244.4 424.3,243.7L424.1,243.0L423.9,241.7Q423.7,240.4 423.9,239.2L424.1,237.9L424.3,237.2Q424.6,236.5 424.5,236.2L424.5,236.2Q424.3,236.0 424.5,235.5L424.5,235.5Q424.6,235.1 423.6,235.3L423.6,235.3Q422.7,235.5 422.0,234.8L422.0,234.8Q421.3,234.2 420.6,233.8L419.9,233.4L419.2,233.2L417.7,233.0L416.1,233.1Q414.5,233.1 414.7,236.1L415.0,240.5Z"/><path stroke="#7aa92c" fill="#7aa92c" d="M415.0,240.5L414.7,244.3Q414.5,247.3 416.0,247.4L417.5,247.4L418.2,247.3Q418.9,247.2 419.9,246.8L419.9,246.8Q420.8,246.3 421.5,245.7L421.5,245.7Q422.1,245.1 423.0,245.2L423.0,245.2Q423.8,245.3 423.7,244.9L423.7,244.9Q423.5,244.5 423.6,244.3L423.6,244.3Q423.7,244.1 423.5,242.3L423.3,240.4L423.5,238.6Q423.7,236.8 423.6,236.6L423.6,236.6Q423.5,236.4 423.7,236.0L423.7,236.0Q423.8,235.6 423.0,235.7L423.0,235.7Q422.1,235.8 421.5,235.2L421.5,235.2Q420.8,234.6 419.9,234.1L419.9,234.1Q418.9,233.7 418.2,233.6L417.5,233.5L416.0,233.5Q414.5,233.6 414.7,236.6L415.0,240.5Z"/><path stroke="#7caa2c" fill="#7caa2c" d="M415.0,240.5L414.8,243.9Q414.6,246.9 416.0,246.9L417.4,246.9L418.0,246.8Q418.6,246.8 419.5,246.3L419.5,246.3Q420.4,245.9 421.0,245.3L421.0,245.3Q421.6,244.8 422.3,244.8L422.3,244.8Q423.1,244.9 423.0,244.6L423.0,244.6Q422.9,244.2 423.0,244.0L423.0,244.0Q423.1,243.8 423.0,242.1L422.9,240.4L423.0,238.8Q423.1,237.1 423.0,236.9L423.0,236.9Q422.9,236.7 423.0,236.3L423.0,236.3Q423.1,236.0 422.3,236.1L422.3,236.1Q421.6,236.1 421.0,235.6L421.0,235.6Q420.4,235.0 419.5,234.6L419.5,234.6Q418.6,234.1 418.0,234.1L417.4,234.0L416.0,234.0Q414.6,234.0 414.8,237.0L415.0,240.5Z"/><path stroke="#7fab2c" fill="#7fab2c" d="M415.0,240.5L414.8,243.5Q414.6,246.4 415.9,246.5L417.2,246.5L417.8,246.4Q418.4,246.3 419.2,245.9L419.2,245.9Q420.1,245.5 420.6,245.0L420.6,245.0Q421.2,244.5 421.8,244.5L421.8,244.5Q422.5,244.6 422.4,244.3L422.4,244.3Q422.3,244.0 422.4,243.8L422.4,243.8Q422.5,243.6 422.5,242.9L422.6,242.2L422.6,238.7L422.5,238.0Q422.5,237.3 422.4,237.1L422.4,237.1Q422.3,236.9 422.4,236.6L422.4,236.6Q422.5,236.3 421.8,236.4L421.8,236.4Q421.2,236.4 420.6,235.9L420.6,235.9Q420.1,235.4 419.2,235.0L419.2,235.0Q418.4,234.6 417.8,234.5L417.2,234.4L415.9,234.4Q414.6,234.5 414.8,237.5L415.0,240.5Z"/><path stroke="#82ad2c" fill="#82ad2c" d="M415.0,240.5L414.8,243.3Q414.6,246.0 415.6,246.1L416.6,246.1L417.4,246.0Q418.2,245.9 418.9,245.6L418.9,245.6Q419.7,245.2 420.2,244.7L420.2,244.7Q420.7,244.2 421.4,244.3L421.4,244.3Q422.0,244.3 421.9,244.0L421.9,244.0Q421.8,243.7 422.0,242.9L422.2,242.1L422.2,240.4L422.2,238.8L422.0,238.0Q421.8,237.2 421.9,236.9L421.9,236.9Q422.0,236.6 421.4,236.6L421.4,236.6Q420.7,236.7 420.2,236.2L420.2,236.2Q419.7,235.7 418.9,235.3L418.9,235.3Q418.2,235.0 417.4,234.9L416.6,234.8L415.6,234.8Q414.6,234.9 414.8,237.7L415.0,240.5Z"/><path stroke="#84ae2c" fill="#84ae2c" d="M415.0,240.5L414.8,243.1Q414.6,245.7 415.6,245.7L416.5,245.7L417.2,245.6Q417.9,245.6 418.7,245.2L418.7,245.2Q419.4,244.9 419.9,244.4L419.9,244.4Q420.4,243.9 420.9,244.0L420.9,244.0Q421.5,244.1 421.4,243.8L421.4,243.8Q421.4,243.5 421.6,242.8L421.8,242.0L421.9,240.4L421.8,238.9L421.6,238.1Q421.4,237.4 421.4,237.1L421.4,237.1Q421.5,236.8 420.9,236.9L420.9,236.9Q420.4,237.0 419.9,236.5L419.9,236.5Q419.4,236.0 418.7,235.7L418.7,235.7Q417.9,235.3 417.2,235.3L416.5,235.2L415.6,235.2Q414.6,235.2 414.8,237.9L415.0,240.5Z"/><path stroke="#87af2c" fill="#87af2c" d="M415.0,240.5L414.8,242.9Q414.7,245.3 415.7,245.3L416.8,245.4L417.3,245.3Q417.7,245.2 418.4,244.9L418.4,244.9Q419.1,244.6 419.6,244.1L419.6,244.1Q420.0,243.7 420.5,243.8L420.5,243.8Q421.0,243.8 421.0,243.5L421.0,243.5Q420.9,243.3 421.2,242.6L421.4,241.9L421.6,240.4L421.4,239.0L421.2,238.3Q420.9,237.6 421.0,237.4L421.0,237.4Q421.0,237.1 420.5,237.1L420.5,237.1Q420.0,237.2 419.6,236.8L419.6,236.8Q419.1,236.3 418.4,236.0L418.4,236.0Q417.7,235.7 417.3,235.6L416.8,235.5L415.7,235.6Q414.7,235.6 414.8,238.0L415.0,240.5Z"/><path stroke="#8ab12c" fill="#8ab12c" d="M415.0,240.5L414.8,242.7Q414.7,245.0 415.5,245.0L416.3,245.0L416.9,245.0Q417.6,244.9 418.2,244.6L418.2,244.6Q418.8,244.3 419.2,243.9L419.2,243.9Q419.7,243.5 420.1,243.5L420.1,243.5Q420.6,243.6 420.6,243.3L420.6,243.3Q420.5,243.1 420.8,242.5L421.1,241.9L421.2,241.2Q421.3,240.4 421.2,239.7L421.1,239.0L420.8,238.4Q420.5,237.8 420.6,237.6L420.6,237.6Q420.6,237.3 420.1,237.4L420.1,237.4Q419.7,237.4 419.2,237.0L419.2,237.0Q418.8,236.6 418.2,236.3L418.2,236.3Q417.6,236.0 416.9,235.9L416.3,235.9L415.5,235.9Q414.7,235.9 414.8,238.2L415.0,240.5Z"/><path stroke="#8db22c" fill="#8db22c" d="M415.0,240.5L414.9,242.6Q414.7,244.7 416.0,244.6L416.0,244.6Q417.4,244.6 418.0,244.3L418.0,244.3Q418.6,244.0 419.0,243.7L419.0,243.7Q419.3,243.3 419.8,243.3L419.8,243.3Q420.3,243.4 420.2,243.1L420.2,243.1Q420.2,242.9 420.4,242.3L420.4,242.3Q420.7,241.8 420.9,241.1L420.9,241.1Q421.0,240.4 420.9,239.8L420.9,239.8Q420.7,239.1 420.4,238.6L420.4,238.6Q420.2,238.0 420.2,237.8L420.2,237.8Q420.3,237.5 419.8,237.6L419.8,237.6Q419.3,237.6 419.0,237.2L419.0,237.2Q418.6,236.9 418.0,236.6L418.0,236.6Q417.4,236.3 416.0,236.3L416.0,236.3Q414.7,236.2 414.9,238.3L415.0,240.5Z"/><path stroke="#90b32c" fill="#90b32c" d="M415.0,240.5L414.9,242.4Q414.7,244.4 415.4,244.4L416.1,244.4L416.9,244.3Q417.6,244.2 418.1,243.9L418.1,243.9Q418.6,243.6 418.8,243.3L418.8,243.3Q419.0,243.1 419.5,243.1L419.5,243.1Q419.9,243.2 419.8,243.0L419.8,243.0Q419.8,242.7 420.1,242.2L420.1,242.2Q420.4,241.7 420.6,241.1L420.6,241.1Q420.7,240.4 420.6,239.8L420.6,239.8Q420.4,239.2 420.1,238.7L420.1,238.7Q419.8,238.2 419.8,237.9L419.8,237.9Q419.9,237.7 419.5,237.8L419.5,237.8Q419.0,237.8 418.8,237.6L418.8,237.6Q418.6,237.3 418.1,237.0L418.1,237.0Q417.6,236.7 416.7,236.6L415.8,236.5L415.3,236.5Q414.7,236.5 414.9,238.5L415.0,240.5Z"/><path stroke="#94b52c" fill="#94b52c" d="M415.0,240.5L414.9,242.3Q414.7,244.1 415.4,244.2L416.1,244.2L416.8,244.1Q417.4,243.9 417.9,243.7L417.9,243.7Q418.4,243.4 418.6,243.1L418.6,243.1Q418.8,242.9 419.2,242.9L419.2,242.9Q419.6,243.0 419.5,242.8L419.5,242.8Q419.5,242.6 419.8,242.1L419.8,242.1Q420.1,241.6 420.3,241.0L420.3,241.0Q420.4,240.4 420.3,239.9L420.3,239.9Q420.1,239.3 419.8,238.8L419.8,238.8Q419.5,238.3 419.5,238.1L419.5,238.1Q419.6,237.9 419.2,238.0L419.2,238.0Q418.8,238.0 418.6,237.8L418.6,237.8Q418.4,237.5 417.9,237.2L417.9,237.2Q417.4,237.0 416.6,236.8L415.8,236.7L415.3,236.7Q414.7,236.8 414.9,238.6L415.0,240.5Z"/><path stroke="#97b62c" fill="#97b62c" d="M415.0,240.5L414.9,242.2Q414.8,243.9 415.4,243.9L416.0,243.9L416.6,243.8Q417.3,243.7 417.7,243.4L417.7,243.4Q418.1,243.2 418.3,243.0L418.3,243.0Q418.5,242.7 418.9,242.8L418.9,242.8Q419.2,242.8 419.2,242.6L419.2,242.6Q419.2,242.4 419.5,242.0L419.5,242.0Q419.8,241.6 420.0,241.0L420.0,241.0Q420.2,240.4 420.0,239.9L420.0,239.9Q419.8,239.3 419.5,238.9L419.5,238.9Q419.2,238.5 419.2,238.3L419.2,238.3Q419.2,238.1 418.9,238.1L418.9,238.1Q418.5,238.2 418.3,237.9L418.3,237.9Q418.1,237.7 417.7,237.5L417.7,237.5Q417.3,237.2 416.5,237.1L415.7,237.0L415.2,237.0Q414.8,237.0 414.9,238.7L415.0,240.5Z"/><path stroke="#9ab72c" fill="#9ab72c" d="M415.0,240.5L414.9,242.1Q414.8,243.7 415.2,243.7L415.7,243.7L416.4,243.6Q417.1,243.5 417.5,243.2L417.5,243.2Q417.9,243.0 418.1,242.8L418.1,242.8Q418.3,242.6 418.6,242.6L418.6,242.6Q419.0,242.7 419.0,242.4L419.0,242.4Q419.0,242.1 419.3,241.8L419.3,241.8Q419.6,241.5 419.8,241.0L419.8,241.0Q420.0,240.4 419.8,239.9L419.8,239.9Q419.6,239.4 419.3,239.1L419.3,239.1Q419.0,238.8 419.0,238.5L419.0,238.5Q419.0,238.2 418.6,238.3L418.6,238.3Q418.3,238.3 418.1,238.1L418.1,238.1Q417.9,237.9 417.5,237.7L417.5,237.7Q417.1,237.4 416.4,237.3L415.7,237.2L415.2,237.2Q414.8,237.2 414.9,238.9L415.0,240.5Z"/><path stroke="#9fb92c" fill="#9fb92c" d="M415.0,240.5L414.9,242.0Q414.8,243.5 415.3,243.5L415.9,243.5L416.4,243.4Q417.0,243.3 417.5,242.9L417.5,242.9Q418.0,242.4 418.4,242.5L418.4,242.5Q418.7,242.5 418.7,242.2L418.7,242.2Q418.7,242.0 419.0,241.7L419.0,241.7Q419.3,241.5 419.5,241.0L419.5,241.0Q419.7,240.4 419.5,239.9L419.5,239.9Q419.3,239.4 419.0,239.2L419.0,239.2Q418.7,238.9 418.7,238.7L418.7,238.7Q418.7,238.4 418.4,238.4L418.4,238.4Q418.0,238.5 417.5,238.0L417.5,238.0Q417.0,237.6 416.3,237.5L415.6,237.4L415.2,237.4Q414.8,237.4 414.9,239.0L415.0,240.5Z"/><path stroke="#a6bc2c" fill="#a6bc2c" d="M415.0,240.5L414.9,241.9Q414.8,243.3 415.1,243.3L415.4,243.3L416.1,243.2Q416.8,243.1 417.3,242.7L417.3,242.7Q417.8,242.3 418.1,242.3L418.1,242.3Q418.4,242.4 418.4,242.1L418.4,242.1Q418.5,241.9 418.8,241.6L418.8,241.6Q419.1,241.4 419.3,240.9L419.3,240.9Q419.5,240.4 419.3,240.0L419.3,240.0Q419.1,239.5 418.8,239.3L418.8,239.3Q418.5,239.0 418.4,238.8L418.4,238.8Q418.4,238.5 418.1,238.6L418.1,238.6Q417.8,238.6 417.3,238.2L417.3,238.2Q416.8,237.8 416.1,237.7L415.4,237.6L415.1,237.6Q414.8,237.6 414.9,239.0L415.0,240.5Z"/><path stroke="#aebf2c" fill="#aebf2c" d="M415.0,240.5L414.9,241.8Q414.8,243.2 415.1,243.2L415.4,243.2L416.1,243.0Q416.7,242.9 417.2,242.5L417.2,242.5Q417.6,242.2 417.9,242.2L417.9,242.2Q418.2,242.2 418.2,242.0L418.2,242.0Q418.2,241.8 418.5,241.6L418.5,241.6Q418.9,241.3 419.1,240.9L419.1,240.9Q419.3,240.4 419.1,240.0L419.1,240.0Q418.9,239.6 418.5,239.3L418.5,239.3Q418.2,239.1 418.2,238.9L418.2,238.9Q418.2,238.7 417.9,238.7L417.9,238.7Q417.6,238.7 417.2,238.4L417.2,238.4Q416.7,238.0 416.1,237.9L415.4,237.7L415.1,237.7Q414.8,237.7 414.9,239.1L415.0,240.5Z"/><path stroke="#b5c32c" fill="#b5c32c" d="M415.0,240.5L414.9,241.8Q414.8,243.0 415.1,243.0L415.4,243.0L416.0,242.9Q416.6,242.8 417.1,242.4L417.1,242.4Q417.5,242.1 417.7,242.1L417.7,242.1Q418.0,242.1 418.0,241.9L418.0,241.9Q418.0,241.7 418.3,241.5L418.3,241.5Q418.7,241.3 418.9,240.9L418.9,240.9Q419.1,240.4 418.9,240.0L418.9,240.0Q418.7,239.6 418.3,239.4L418.3,239.4Q418.0,239.2 418.0,239.0L418.0,239.0Q418.0,238.8 417.7,238.8L417.7,238.8Q417.5,238.8 417.1,238.5L417.1,238.5Q416.6,238.1 416.0,238.0L415.4,237.9L415.1,237.9Q414.8,237.9 414.9,239.2L415.0,240.5Z"/><path stroke="#bdc82c" fill="#bdc82c" d="M415.0,240.5L414.9,241.7Q414.8,242.9 415.1,242.9L415.3,242.9L415.8,242.8Q416.3,242.8 416.8,242.4L416.8,242.4Q417.4,242.0 417.6,242.0L417.6,242.0Q417.8,242.0 417.8,241.8L417.8,241.8Q417.8,241.6 418.1,241.4L418.1,241.4Q418.5,241.2 418.7,240.8L418.7,240.8Q418.9,240.5 418.7,240.1L418.7,240.1Q418.5,239.7 418.1,239.5L418.1,239.5Q417.8,239.3 417.8,239.1L417.8,239.1Q417.8,238.9 417.6,238.9L417.6,238.9Q417.4,238.9 416.8,238.5L416.8,238.5Q416.3,238.1 415.8,238.1L415.3,238.0L415.1,238.0Q414.8,238.0 414.9,239.2L415.0,240.5Z"/><path stroke="#c4cd2c" fill="#c4cd2c" d="M415.0,240.5L414.9,241.6Q414.8,242.8 415.1,242.8L415.3,242.8L415.8,242.7Q416.3,242.7 416.8,242.3L416.8,242.3Q417.2,241.9 417.4,241.9L417.4,241.9Q417.6,241.9 417.6,241.7L417.6,241.7Q417.7,241.6 418.0,241.4L418.0,241.4Q418.3,241.2 418.5,240.8L418.5,240.8Q418.8,240.4 418.5,240.1L418.5,240.1Q418.3,239.7 418.0,239.5L418.0,239.5Q417.7,239.3 417.6,239.2L417.6,239.2Q417.6,239.0 417.4,239.0L417.4,239.0Q417.2,239.0 416.8,238.6L416.8,238.6Q416.3,238.2 415.8,238.2L415.3,238.1L415.1,238.1Q414.8,238.1 414.9,239.3L415.0,240.5Z"/><path stroke="#ccd12c" fill="#ccd12c" d="M415.0,240.5L414.9,241.6Q414.8,242.7 415.1,242.7L415.3,242.7L415.8,242.6Q416.2,242.5 416.7,242.2L416.7,242.2Q417.1,241.8 417.3,241.8L417.3,241.8Q417.5,241.8 417.5,241.7L417.5,241.7Q417.5,241.5 417.8,241.3L417.8,241.3Q418.1,241.2 418.3,240.8L418.3,240.8Q418.6,240.4 418.3,240.1L418.3,240.1Q418.1,239.7 417.8,239.6L417.8,239.6Q417.5,239.4 417.5,239.2L417.5,239.2Q417.5,239.1 417.3,239.1L417.3,239.1Q417.1,239.1 416.7,238.7L416.7,238.7Q416.2,238.4 415.8,238.3L415.3,238.2L415.1,238.2Q414.8,238.2 414.9,239.4L415.0,240.5Z"/><path stroke="#d4d62b" fill="#d4d62b" d="M415.0,240.5L414.9,241.5Q414.9,242.6 415.1,242.6L415.3,242.6L415.7,242.5Q416.1,242.4 416.6,242.1L416.6,242.1Q417.0,241.8 417.2,241.8L417.2,241.8Q417.4,241.8 417.4,241.6L417.4,241.6Q417.4,241.5 417.7,241.3L417.7,241.3Q417.9,241.1 418.2,240.8L418.2,240.8Q418.4,240.4 418.2,240.1L418.2,240.1Q417.9,239.8 417.7,239.6L417.7,239.6Q417.4,239.4 417.4,239.3L417.4,239.3Q417.4,239.1 417.2,239.1L417.2,239.1Q417.0,239.1 416.6,238.8L416.6,238.8Q416.1,238.5 415.7,238.4L415.3,238.3L415.1,238.3Q414.9,238.3 414.9,239.4L415.0,240.5Z"/><path stroke="#dbdb2a" fill="#dbdb2a" d="M415.0,240.5L414.9,241.5Q414.9,242.5 415.1,242.5L415.3,242.5L415.7,242.4Q416.1,242.3 416.5,242.0L416.5,242.0Q416.9,241.7 417.1,241.7L417.1,241.7Q417.3,241.7 417.3,241.6L417.3,241.6Q417.3,241.4 417.5,241.3L417.5,241.3Q417.8,241.1 418.0,240.8L418.0,240.8Q418.3,240.4 418.0,240.1L418.0,240.1Q417.8,239.8 417.5,239.6L417.5,239.6Q417.3,239.5 417.3,239.3L417.3,239.3Q417.3,239.2 417.1,239.2L417.1,239.2Q416.9,239.2 416.5,238.9L416.5,238.9Q416.1,238.6 415.5,238.5L415.5,238.5Q414.9,238.4 414.9,239.5L415.0,240.5Z"/><path stroke="#e2df2a" fill="#e2df2a" d="M415.0,240.5L414.9,241.4Q414.9,242.4 415.1,242.4L415.3,242.4L415.7,242.3Q416.0,242.3 416.4,242.0L416.4,242.0Q416.8,241.6 417.0,241.6L417.0,241.6Q417.2,241.6 417.2,241.5L417.2,241.5Q417.2,241.4 417.7,240.9L417.7,240.9Q418.1,240.4 417.7,240.0L417.7,240.0Q417.2,239.5 417.2,239.4L417.2,239.4Q417.2,239.3 417.0,239.3L417.0,239.3Q416.8,239.3 416.4,238.9L416.4,238.9Q416.0,238.6 415.5,238.6L415.5,238.6Q414.9,238.5 414.9,239.5L415.0,240.5Z"/><path stroke="#e8e329" fill="#e8e329" d="M415.0,240.5L414.9,241.4Q414.9,242.3 415.1,242.3L415.3,242.3L415.6,242.2Q416.0,242.2 416.4,241.9L416.4,241.9Q416.7,241.6 416.9,241.6L416.9,241.6Q417.1,241.6 417.1,241.5L417.1,241.5Q417.1,241.3 417.5,240.9L417.5,240.9Q418.0,240.4 417.5,240.0L417.5,240.0Q417.1,239.6 417.1,239.4L417.1,239.4Q417.1,239.3 416.9,239.3L416.9,239.3Q416.7,239.3 416.4,239.0L416.4,239.0Q416.0,238.7 415.4,238.7L415.4,238.7Q414.9,238.6 414.9,239.6L415.0,240.5Z"/><path stroke="#ede628" fill="#ede628" d="M415.0,240.5L414.9,241.3Q414.9,242.2 415.1,242.2L415.2,242.2L415.6,242.1Q415.9,242.1 416.3,241.8L416.3,241.8Q416.7,241.5 416.8,241.5L416.8,241.5Q417.0,241.5 417.0,241.4L417.0,241.4Q417.0,241.3 417.4,240.9L417.4,240.9Q417.8,240.4 417.4,240.0L417.4,240.0Q417.0,239.6 417.0,239.5L417.0,239.5Q417.0,239.4 416.8,239.4L416.8,239.4Q416.7,239.4 416.3,239.1L416.3,239.1Q415.9,238.8 415.4,238.8L415.4,238.8Q414.9,238.7 414.9,239.6L415.0,240.5Z"/><path stroke="#f1e826" fill="#f1e826" d="M415.0,240.5L414.9,241.3Q414.9,242.1 415.1,242.1L415.2,242.1L415.6,242.1Q415.9,242.0 416.2,241.7L416.2,241.7Q416.6,241.5 416.7,241.5L416.7,241.5Q416.9,241.5 416.9,241.4L416.9,241.4Q416.9,241.2 417.3,240.8L417.3,240.8Q417.7,240.4 417.3,240.1L417.3,240.1Q416.9,239.7 416.9,239.5L416.9,239.5Q416.9,239.4 416.7,239.4L416.7,239.4Q416.6,239.4 416.2,239.2L416.2,239.2Q415.9,238.9 415.4,238.8L415.4,238.8Q414.9,238.8 414.9,239.6L415.0,240.5Z"/><path stroke="#f2e723" fill="#f2e723" d="M415.0,240.5L414.9,241.2Q414.9,242.0 415.1,242.0L415.2,242.0L415.5,242.0Q415.9,241.9 416.2,241.7L416.2,241.7Q416.5,241.4 416.6,241.4L416.6,241.4Q416.8,241.4 416.8,241.3L416.8,241.3Q416.8,241.2 417.2,240.8L417.2,240.8Q417.5,240.4 417.2,240.1L417.2,240.1Q416.8,239.7 416.8,239.6L416.8,239.6Q416.8,239.5 416.6,239.5L416.6,239.5Q416.5,239.5 416.2,239.2L416.2,239.2Q415.9,239.0 415.4,238.9L415.4,238.9Q414.9,238.9 414.9,239.7L415.0,240.5Z"/><path stroke="#f4e620" fill="#f4e620" d="M415.0,240.5L414.9,241.2Q414.9,241.9 415.1,241.9L415.2,241.9L415.5,241.9Q415.8,241.9 416.1,241.6L416.1,241.6Q416.4,241.4 416.6,241.4L416.6,241.4Q416.7,241.4 416.7,241.3L416.7,241.3Q416.7,241.2 417.1,240.8L417.1,240.8Q417.4,240.4 417.1,240.1L417.1,240.1Q416.7,239.7 416.7,239.6L416.7,239.6Q416.7,239.5 416.6,239.5L416.6,239.5Q416.4,239.5 416.1,239.3L416.1,239.3Q415.8,239.0 415.4,239.0L415.4,239.0Q414.9,239.0 414.9,239.7L415.0,240.5Z"/><path stroke="#f4e11e" fill="#f4e11e" d="M415.0,240.5L414.9,241.2Q414.9,241.9 415.1,241.9L415.3,241.9L415.6,241.8Q415.9,241.7 416.1,241.5L416.1,241.5Q416.4,241.3 416.5,241.3L416.5,241.3Q416.6,241.4 416.9,240.9L416.9,240.9Q417.3,240.4 416.9,240.0L416.9,240.0Q416.6,239.5 416.5,239.6L416.5,239.6Q416.4,239.6 416.1,239.3L416.1,239.3Q415.8,239.1 415.3,239.1L415.3,239.1Q414.9,239.0 414.9,239.8L415.0,240.5Z"/><path stroke="#f2d71e" fill="#f2d71e" d="M415.0,240.5L415.0,241.1Q414.9,241.8 415.1,241.8L415.3,241.8L415.6,241.7Q415.9,241.7 416.1,241.5L416.1,241.5Q416.3,241.3 416.4,241.3L416.4,241.3Q416.5,241.3 416.9,240.9L416.9,240.9Q417.2,240.4 416.9,240.0L416.9,240.0Q416.5,239.6 416.4,239.6L416.4,239.6Q416.3,239.6 416.0,239.4L416.0,239.4Q415.7,239.2 415.3,239.1L415.3,239.1Q414.9,239.1 415.0,239.8L415.0,240.5Z"/><path stroke="#f0cd1e" fill="#f0cd1e" d="M415.0,240.5L415.0,241.1Q414.9,241.7 415.1,241.7L415.3,241.7L415.5,241.7Q415.8,241.6 416.0,241.4L416.0,241.4Q416.2,241.3 416.4,241.3L416.4,241.3Q416.5,241.3 416.8,240.9L416.8,240.9Q417.0,240.4 416.8,240.0L416.8,240.0Q416.5,239.6 416.4,239.6L416.4,239.6Q416.2,239.6 416.0,239.4L416.0,239.4Q415.7,239.2 415.3,239.2L415.3,239.2Q414.9,239.2 415.0,239.8L415.0,240.5Z"/><path stroke="#ecc11e" fill="#ecc11e" d="M415.0,240.5L415.0,241.1Q414.9,241.7 415.1,241.7L415.3,241.7L415.5,241.6Q415.8,241.6 416.0,241.4L416.0,241.4Q416.2,241.2 416.3,241.2L416.3,241.2Q416.4,241.2 416.7,240.8L416.7,240.8Q416.9,240.4 416.7,240.1L416.7,240.1Q416.4,239.7 416.3,239.7L416.3,239.7Q416.2,239.7 415.9,239.5L415.9,239.5Q415.7,239.3 415.3,239.3L415.3,239.3Q414.9,239.2 415.0,239.9L415.0,240.5Z"/><path stroke="#e7b31f" fill="#e7b31f" d="M415.0,240.5L415.0,241.0Q414.9,241.6 415.1,241.6L415.2,241.6L415.5,241.6Q415.7,241.5 415.9,241.3L415.9,241.3Q416.1,241.2 416.2,241.2L416.2,241.2Q416.3,241.2 416.6,240.8L416.6,240.8Q416.8,240.5 416.6,240.1L416.6,240.1Q416.3,239.7 416.2,239.7L416.2,239.7Q416.1,239.7 415.9,239.5L415.9,239.5Q415.6,239.4 415.3,239.3L415.3,239.3Q414.9,239.3 415.0,239.9L415.0,240.5Z"/><path stroke="#e2a620" fill="#e2a620" d="M415.0,240.5L415.0,241.0Q414.9,241.6 415.1,241.6L415.1,241.6Q415.2,241.6 415.8,241.4L415.8,241.4Q416.3,241.2 416.5,240.8L416.5,240.8Q416.7,240.5 416.5,240.1L416.5,240.1Q416.3,239.7 416.2,239.7L416.2,239.7Q416.1,239.8 415.8,239.6L415.8,239.6Q415.6,239.4 415.3,239.4L415.3,239.4Q414.9,239.3 415.0,239.9L415.0,240.5Z"/><path stroke="#dc9620" fill="#dc9620" d="M415.0,240.5L415.0,241.0Q414.9,241.5 415.1,241.5L415.1,241.5Q415.2,241.5 415.7,241.3L415.7,241.3Q416.2,241.1 416.4,240.8L416.4,240.8Q416.7,240.4 416.4,240.1L416.4,240.1Q416.2,239.8 416.1,239.8L416.1,239.8Q416.0,239.8 415.7,239.6L415.7,239.6Q415.5,239.4 415.2,239.4L415.2,239.4Q414.9,239.4 415.0,239.9L415.0,240.5Z"/><path stroke="#d6841f" fill="#d6841f" d="M415.0,240.5L415.0,241.0Q414.9,241.4 415.1,241.4L415.1,241.4Q415.2,241.5 415.7,241.3L415.7,241.3Q416.2,241.1 416.4,240.8L416.4,240.8Q416.6,240.4 416.4,240.1L416.4,240.1Q416.2,239.8 416.1,239.8L416.1,239.8Q416.0,239.8 415.7,239.7L415.7,239.7Q415.5,239.5 415.2,239.5L415.2,239.5Q414.9,239.5 415.0,240.0L415.0,240.5Z"/><path stroke="#cf731e" fill="#cf731e" d="M415.0,240.5L415.0,240.9Q414.9,241.4 415.1,241.4L415.1,241.4Q415.2,241.4 415.7,241.2L415.7,241.2Q416.1,241.1 416.3,240.8L416.3,240.8Q416.5,240.4 416.3,240.1L416.3,240.1Q416.1,239.8 416.0,239.8L416.0,239.8Q415.9,239.9 415.7,239.7L415.7,239.7Q415.4,239.5 415.2,239.5L415.2,239.5Q414.9,239.5 415.0,240.0L415.0,240.5Z"/><path stroke="#ca641e" fill="#ca641e" d="M415.0,240.5L415.0,240.9Q414.9,241.4 415.1,241.4L415.1,241.4Q415.2,241.4 415.6,241.2L415.6,241.2Q416.1,241.0 416.2,240.7L416.2,240.7Q416.4,240.4 416.2,240.2L416.2,240.2Q416.1,239.9 415.5,239.7L415.5,239.7Q414.9,239.5 415.0,240.0L415.0,240.5Z"/><path stroke="#c7571d" fill="#c7571d" d="M415.0,240.5L415.0,240.9Q414.9,241.3 415.0,241.3L415.0,241.3Q415.1,241.3 415.5,241.2L415.5,241.2Q416.0,241.0 416.2,240.7L416.2,240.7Q416.3,240.4 416.2,240.2L416.2,240.2Q416.0,239.9 415.5,239.7L415.5,239.7Q414.9,239.6 415.0,240.0L415.0,240.5Z"/><path stroke="#c34a1c" fill="#c34a1c" d="M415.0,240.5L415.0,240.9Q414.9,241.3 415.0,241.3L415.0,241.3Q415.1,241.3 415.5,241.1L415.5,241.1Q416.0,241.0 416.1,240.7L416.1,240.7Q416.3,240.4 416.1,240.2L416.1,240.2Q416.0,239.9 415.5,239.8L415.5,239.8Q414.9,239.6 415.0,240.0L415.0,240.5Z"/><path stroke="#bf3d1c" fill="#bf3d1c" d="M415.0,240.5L415.0,240.9Q414.9,241.3 415.0,241.3L415.0,241.3Q415.1,241.3 415.5,241.1L415.5,241.1Q415.9,241.0 416.1,240.7L416.1,240.7Q416.2,240.4 416.1,240.2L416.1,240.2Q415.9,239.9 415.4,239.8L415.4,239.8Q414.9,239.6 415.0,240.0L415.0,240.5Z"/><path stroke="#bc321c" fill="#bc321c" d="M415.0,240.5L415.0,240.9Q414.9,241.3 415.0,241.3L415.0,241.3Q415.1,241.3 415.5,241.1L415.5,241.1Q415.9,240.9 416.0,240.7L416.0,240.7Q416.1,240.4 416.0,240.2L416.0,240.2Q415.9,240.0 415.6,239.8L415.6,239.8Q415.4,239.7 415.2,239.7L415.2,239.7Q414.9,239.6 415.0,240.1L415.0,240.5Z"/><path stroke="#b9261c" fill="#b9261c" d="M415.0,240.5L415.0,240.9Q414.9,241.2 415.1,241.2L415.1,241.2Q415.2,241.2 415.5,241.1L415.5,241.1Q415.8,240.9 416.0,240.7L416.0,240.7Q416.1,240.4 416.0,240.2L416.0,240.2Q415.8,240.0 415.6,239.8L415.6,239.8Q415.4,239.7 415.2,239.7L415.2,239.7Q414.9,239.7 415.0,240.1L415.0,240.5Z"/><path stroke="#b81f1c" fill="#b81f1c" d="M415.0,240.5L415.0,240.9Q414.9,241.2 415.1,241.2L415.1,241.2Q415.2,241.2 415.5,241.1L415.5,241.1Q415.8,240.9 415.9,240.7L415.9,240.7Q416.0,240.4 415.8,240.1L415.8,240.1Q415.5,239.8 415.2,239.7L415.2,239.7Q414.9,239.7 415.0,240.1L415.0,240.5Z"/><path stroke="#b71e1c" fill="#b71e1c" d="M415.0,240.5L415.0,240.8Q414.9,241.2 415.1,241.2L415.1,241.2Q415.2,241.2 415.5,241.0L415.5,241.0Q415.8,240.9 415.9,240.7L415.9,240.7Q416.0,240.4 415.8,240.1L415.8,240.1Q415.5,239.8 415.2,239.8L415.2,239.8Q414.9,239.7 415.0,240.1L415.0,240.5Z"/><path stroke="#b71d1c" fill="#b71d1c" d="M415.0,240.5L415.0,240.8Q414.9,241.2 415.1,241.2L415.1,241.2Q415.2,241.2 415.5,241.0L415.5,241.0Q415.8,240.9 415.8,240.7L415.8,240.7Q415.9,240.4 415.8,240.2L415.8,240.2Q415.8,240.0 415.5,239.9L415.5,239.9Q415.2,239.7 415.1,239.7L415.1,239.7Q414.9,239.7 415.0,240.1L415.0,240.5Z"/><path stroke="#b61b1c" fill="#b61b1c" d="M415.0,240.5L415.0,240.8Q415.0,241.2 415.1,241.2L415.1,241.2Q415.2,241.2 415.5,241.0L415.5,241.0Q415.8,240.9 415.8,240.7L415.8,240.7Q415.9,240.4 415.8,240.2L415.8,240.2Q415.8,240.0 415.5,239.9L415.5,239.9Q415.2,239.7 415.1,239.7L415.1,239.7Q415.0,239.7 415.0,240.1L415.0,240.5Z"/><path stroke="#b61a1c" fill="#b61a1c" d="M415.0,240.5L415.0,240.8Q415.0,241.1 415.1,241.1L415.1,241.1Q415.2,241.2 415.5,241.0L415.5,241.0Q415.7,240.9 415.8,240.7L415.8,240.7Q415.9,240.4 415.8,240.2L415.8,240.2Q415.7,240.0 415.4,239.9L415.4,239.9Q415.1,239.7 415.1,239.8L415.1,239.8Q415.0,239.8 415.0,240.1L415.0,240.5Z"/><path stroke="#b5191c" fill="#b5191c" d="M415.0,240.5L415.0,240.8Q415.0,241.1 415.1,241.1L415.1,241.1Q415.2,241.1 415.5,241.0L415.5,241.0Q415.7,240.9 415.8,240.7L415.8,240.7Q415.9,240.4 415.8,240.2L415.8,240.2Q415.7,240.0 415.5,239.9L415.5,239.9Q415.2,239.8 415.1,239.8L415.1,239.8Q415.0,239.8 415.0,240.1L415.0,240.5Z"/><path stroke="#b5181c" fill="#b5181c" d="M415.0,240.5L415.0,240.8Q415.0,241.1 415.1,241.1L415.1,241.1Q415.2,241.1 415.5,241.0L415.5,241.0Q415.7,240.9 415.8,240.7L415.8,240.7Q415.9,240.4 415.8,240.2L415.8,240.2Q415.7,240.0 415.5,239.9L415.5,239.9Q415.2,239.8 415.1,239.8L415.1,239.8Q415.0,239.8 415.0,240.1L415.0,240.5Z"/><path stroke="#b5181c" fill="#b5181c" d="M415.0,240.5L415.0,240.8Q415.0,241.1 415.1,241.1L415.1,241.1Q415.2,241.1 415.5,241.0L415.5,241.0Q415.7,240.8 415.8,240.6L415.8,240.6Q415.8,240.4 415.8,240.3L415.8,240.3Q415.7,240.1 415.5,239.9L415.5,239.9Q415.2,239.8 415.1,239.8L415.1,239.8Q415.0,239.8 415.0,240.2L415.0,240.5Z"/><path stroke="#b5171c" fill="#b5171c" d="M415.0,240.5L415.0,240.8Q415.0,241.1 415.1,241.1L415.1,241.1Q415.2,241.1 415.5,241.0L415.5,241.0Q415.7,240.8 415.8,240.6L415.8,240.6Q415.8,240.4 415.8,240.3L415.8,240.3Q415.7,240.1 415.5,239.9L415.5,239.9Q415.2,239.8 415.1,239.8L415.1,239.8Q415.0,239.8 415.0,240.2L415.0,240.5Z"/><path stroke="#b5171b" fill="#b5171b" d="M415.0,240.5L415.0,240.8Q415.0,241.0 415.1,241.1L415.1,241.1Q415.2,241.1 415.5,241.0L415.5,241.0Q415.7,240.8 415.8,240.6L415.8,240.6Q415.8,240.4 415.8,240.3L415.8,240.3Q415.7,240.1 415.5,239.9L415.5,239.9Q415.2,239.8 415.1,239.8L415.1,239.8Q415.0,239.9 415.0,240.2L415.0,240.5Z"/><path stroke="#b5171b" fill="#b5171b" d="M415.0,240.5L415.0,240.7Q415.0,241.0 415.2,241.0L415.2,241.0Q415.5,241.0 415.6,240.8L415.6,240.8Q415.8,240.6 415.7,240.3L415.7,240.3Q415.7,240.1 415.5,240.0L415.5,240.0Q415.3,239.9 415.2,239.9L415.2,239.9Q415.0,239.9 415.0,240.2L415.0,240.5Z"/><path stroke="#b5161b" fill="#b5161b" d="M415.0,240.5L415.0,240.7Q415.0,241.0 415.2,241.0L415.2,241.0Q415.4,241.0 415.6,240.8L415.6,240.8Q415.8,240.6 415.7,240.3L415.7,240.3Q415.7,240.1 415.5,240.0L415.5,240.0Q415.3,239.9 415.1,239.9L415.1,239.9Q415.0,239.9 415.0,240.2L415.0,240.5Z"/><path stroke="#b5161b" fill="#b5161b" d="M415.0,240.5L415.0,240.7Q415.0,241.0 415.2,241.0L415.2,241.0Q415.4,241.0 415.6,240.8L415.6,240.8Q415.7,240.6 415.7,240.4L415.7,240.4Q415.7,240.1 415.5,240.0L415.5,240.0Q415.3,239.9 415.1,239.9L415.1,239.9Q415.0,239.9 415.0,240.2L415.0,240.5Z"/><path stroke="#b5161b" fill="#b5161b" d="M415.0,240.5L415.0,240.7Q415.0,241.0 415.2,241.0L415.2,241.0Q415.4,241.0 415.6,240.8L415.6,240.8Q415.7,240.6 415.7,240.4L415.7,240.4Q415.7,240.1 415.5,240.0L415.5,240.0Q415.3,239.9 415.1,239.9L415.1,239.9Q415.0,239.9 415.0,240.2L415.0,240.5Z"/></g><path d="M398.8,473.2L412.2,468.3Q415.0,467.3 417.8,468.3L431.2,473.2L434.9,474.8M434.9,6.1L431.2,7.7L417.8,12.6Q415.0,13.6 412.2,12.6L398.8,7.7M400.3,451.1L412.1,447.5Q415.0,446.6 417.9,447.5L429.7,451.1L445.4,457.5L454.4,460.4L462.2,463.3L478.9,466.9M478.9,14.0L462.2,17.6L454.4,20.5L445.4,23.4L429.7,29.8L417.9,33.4Q415.0,34.3 412.1,33.4L400.3,29.8M401.7,430.9L412.2,427.3Q415.0,426.3 417.8,427.3L428.3,430.9L430.1,431.7L442.4,435.8L457.2,439.7L472.7,442.0L488.1,441.9L507.7,439.8L527.1,435.1L546.0,428.0L563.4,417.7L579.9,405.7L591.0,396.1M591.0,84.8L579.9,75.2L563.4,63.2L546.0,52.9L527.1,45.8L507.7,41.1L488.1,39.0L472.7,38.9L457.2,41.2L442.4,45.1L430.1,49.2L428.3,50.0L417.8,53.6Q415.0,54.6 412.2,53.6L401.7,50.0M403.4,406.6L412.2,403.2Q415.0,402.2 417.8,403.2L426.6,406.6L439.1,412.0L452.4,416.6L466.1,418.9L479.7,418.6L496.7,416.1L513.4,411.3L529.5,404.4L544.4,395.1L558.6,384.4L569.2,374.8L578.9,364.3L586.0,355.3Q587.8,353.0 590.8,353.4L618.5,357.5M642.9,296.1L641.4,294.3Q639.9,292.5 639.9,289.5L639.9,240.4L639.9,191.4Q639.9,188.4 641.4,186.6L642.9,184.8M618.5,123.4L590.8,127.5Q587.8,127.9 586.0,125.6L578.9,116.6L569.2,106.1L558.6,96.5L544.4,85.8L529.5,76.5L513.4,69.6L496.7,64.8L479.7,62.3L466.1,62.0L452.4,64.3L439.1,68.9L426.6,74.3L417.8,77.7Q415.0,78.7 412.2,77.7L403.4,74.3M405.1,382.7L412.2,379.9Q415.0,378.8 417.8,379.9L435.5,386.7L446.7,389.8L458.2,391.5L470.0,392.0L485.1,391.1L499.9,387.9L513.8,382.6L527.2,374.5L539.4,365.2L548.6,356.9L557.0,347.7L562.9,340.3Q564.8,337.9 567.7,338.3L625.1,345.2M634.2,323.2L625.8,311.4L617.6,300.6L606.7,286.7Q604.8,284.4 604.8,281.4L604.8,199.5Q604.8,196.5 606.7,194.2L617.6,180.3L625.8,169.5L634.2,157.7M625.1,135.7L567.7,142.6Q564.8,143.0 562.9,140.6L557.0,133.2L548.6,124.0L539.4,115.7L527.2,106.4L513.8,98.3L499.9,93.0L485.1,89.8L470.0,88.9L458.2,89.4L446.7,91.1L435.5,94.2L417.8,101.0Q415.0,102.1 412.2,101.0L405.1,98.2M406.5,363.0L412.2,360.8Q415.0,359.7 417.8,360.8L423.5,363.0L432.6,365.7L441.9,367.1L451.2,367.0L473.2,365.6L485.6,363.0L497.6,358.7L508.7,352.4L519.3,345.0L527.3,338.3L535.4,331.4L540.8,325.8Q542.8,323.7 545.8,324.0L570.6,326.9L598.6,329.4Q601.6,329.7 602.8,326.9L604.8,322.5Q606.0,319.8 604.3,317.3L595.0,304.0L588.0,294.6L581.3,286.1L574.8,278.3L574.4,277.8Q574.1,277.3 574.1,274.3L574.3,240.4L574.1,206.6Q574.1,203.6 574.4,203.1L574.8,202.6L581.3,194.8L588.0,186.3L595.0,176.9L604.3,163.6Q606.0,161.1 604.8,158.4L602.8,154.0Q601.6,151.2 598.6,151.5L570.6,154.0L545.8,156.9Q542.8,157.2 540.8,155.1L535.4,149.5L527.3,142.6L519.3,135.9L508.7,128.5L497.6,122.2L485.6,117.9L473.2,115.3L451.2,113.9L441.9,113.8L432.6,115.2L423.5,117.9L417.8,120.1Q415.0,121.2 412.2,120.1L406.5,117.9M407.6,346.6L412.2,344.9Q415.0,343.8 417.8,344.9L422.4,346.6L430.2,348.9L438.3,350.1L446.4,350.1L454.7,349.7L465.2,348.4L475.6,345.8L485.8,341.8L495.2,336.2L504.2,329.8L511.1,324.1L518.2,318.4L522.9,314.2Q525.1,312.1 528.1,312.3L536.1,312.6L544.4,313.1L568.6,315.1Q571.6,315.3 572.8,312.6L574.0,309.7Q575.3,307.0 573.5,304.6L568.5,297.8L562.7,289.4L557.3,281.0L553.6,274.8Q552.1,272.2 552.0,269.2L551.7,240.4L552.0,211.7Q552.1,208.7 553.6,206.1L557.3,199.9L562.7,191.5L568.5,183.1L573.5,176.3Q575.3,173.9 574.0,171.2L572.8,168.3Q571.6,165.6 568.6,165.8L544.4,167.8L536.1,168.3L528.1,168.6Q525.1,168.8 522.9,166.7L518.2,162.5L511.1,156.8L504.2,151.1L495.2,144.7L485.8,139.1L475.6,135.1L465.2,132.5L454.7,131.2L446.4,130.8L438.3,130.8L430.2,132.0L422.4,134.3L417.8,136.0Q415.0,137.1 412.2,136.0L407.6,134.3M408.6,331.7L412.2,330.4Q415.0,329.4 417.8,330.4L421.4,331.7L428.1,333.7L435.0,334.8L442.0,334.8L449.2,334.5L458.3,333.5L467.4,331.4L476.2,328.0L484.3,323.3L492.2,317.8L504.6,308.2L508.5,304.8Q510.8,302.8 513.8,302.7L526.3,302.4L541.6,302.4Q544.6,302.4 545.8,299.7L546.5,298.3Q547.7,295.5 546.2,293.0L541.1,284.5L536.4,277.5L531.7,271.4L529.4,268.8Q527.5,266.5 527.5,263.5L527.6,240.5L527.5,217.4Q527.5,214.4 529.4,212.1L531.7,209.5L536.4,203.4L541.1,196.4L546.2,187.9Q547.7,185.4 546.5,182.6L545.8,181.2Q544.6,178.5 541.6,178.5L526.3,178.5L513.8,178.2Q510.8,178.1 508.5,176.1L504.6,172.7L492.2,163.1L484.3,157.6L476.2,152.9L467.4,149.5L458.3,147.4L449.2,146.4L442.0,146.1L435.0,146.1L428.1,147.2L421.4,149.2L417.8,150.5Q415.0,151.5 412.2,150.5L408.6,149.2M409.5,319.3L412.3,318.5Q415.0,317.6 417.7,318.5L420.5,319.3L426.2,320.6L432.1,321.3L438.1,321.1L444.1,320.6L451.8,319.7L459.5,317.8L467.0,315.0L474.0,310.9L480.7,306.4L491.4,298.2L494.4,295.6Q496.7,293.6 499.7,293.7L504.0,293.8L510.8,293.7L521.2,292.9Q524.2,292.6 525.4,289.9L525.5,289.6Q526.7,286.8 525.2,284.3L522.6,279.9L518.6,273.9L514.6,268.7L510.9,264.5Q508.9,262.2 508.9,259.2L508.9,221.7Q508.9,218.7 510.9,216.4L514.6,212.2L518.6,207.0L522.6,201.0L525.2,196.6Q526.7,194.1 525.5,191.3L525.4,191.0Q524.2,188.3 521.2,188.0L510.8,187.2L504.0,187.1L499.7,187.2Q496.7,187.3 494.4,185.3L491.4,182.7L480.7,174.5L474.0,170.0L467.0,165.9L459.5,163.1L451.8,161.2L444.1,160.3L438.1,159.8L432.1,159.6L426.2,160.3L420.5,161.6L417.7,162.4Q415.0,163.3 412.3,162.4L409.5,161.6M410.3,308.3L412.6,307.6Q415.0,307.0 417.4,307.6L419.7,308.3L424.6,309.3L429.7,309.7L434.7,309.4L439.9,309.0L446.4,307.9L452.8,306.2L459.1,303.6L464.9,300.1L470.5,296.1L479.2,289.0L481.4,287.0Q483.5,285.1 485.1,285.3L486.7,285.5L496.5,285.7L505.6,285.3Q508.6,285.2 509.7,282.7L509.7,282.7Q510.8,280.2 509.1,277.8L507.2,275.0L503.6,270.2L496.8,261.5L495.4,260.1Q494.0,258.7 494.0,255.7L494.0,225.2Q494.0,222.2 495.4,220.8L496.8,219.4L503.6,210.7L507.2,205.9L509.1,203.1Q510.8,200.7 509.7,198.2L509.7,198.2Q508.6,195.7 505.6,195.6L496.5,195.2L486.7,195.4L485.1,195.6Q483.5,195.8 481.4,193.9L479.2,191.9L470.5,184.8L464.9,180.8L459.1,177.3L452.8,174.7L446.4,173.0L439.9,171.9L434.7,171.5L429.7,171.2L424.6,171.6L419.7,172.6L417.4,173.3Q415.0,173.9 412.6,173.3L410.3,172.6M410.9,298.9L413.0,298.5Q415.0,298.2 418.0,298.6L423.3,299.5L427.6,299.7L431.9,299.4L436.2,298.9L441.7,297.9L447.1,296.2L452.4,293.9L457.2,290.9L461.9,287.5L469.1,281.3L470.8,279.6Q472.6,277.9 474.6,278.5L476.5,279.0L480.5,279.8L486.2,280.0L490.0,279.6L492.4,279.1Q494.7,278.6 495.7,276.5L495.7,276.5Q496.6,274.3 495.4,271.9L494.3,269.5L491.4,264.8L488.3,261.3L485.2,258.5L483.2,257.2Q481.3,255.8 481.3,252.8L481.3,228.1Q481.3,225.1 483.2,223.7L485.2,222.4L488.3,219.6L491.4,216.1L494.3,211.4L495.4,209.0Q496.6,206.6 495.7,204.4L495.7,204.4Q494.7,202.3 492.4,201.8L490.0,201.3L486.2,200.9L485.0,200.8L480.5,201.1L476.5,201.9L474.6,202.4Q472.6,203.0 470.8,201.3L469.1,199.6L461.9,193.4L457.2,190.0L452.4,187.0L447.1,184.7L441.7,183.0L436.2,182.0L431.9,181.5L427.6,181.2L423.3,181.4L418.0,182.3Q415.0,182.7 413.0,182.4L410.9,182.0M411.4,291.5L413.2,291.3Q415.0,291.0 416.8,291.3L418.6,291.5L422.2,291.8L425.9,291.8L429.6,291.4L433.3,290.9L438.0,289.8L442.6,288.3L447.0,286.3L451.2,283.7L455.1,280.7L461.0,275.2L462.4,273.7Q463.8,272.2 465.7,273.0L467.7,273.8L470.9,274.8L474.4,275.5L482.8,275.8L485.2,275.5Q487.6,275.2 488.5,273.2L488.5,273.2Q489.3,271.3 488.0,269.0L486.6,266.6L483.8,263.1L480.9,260.2L478.0,257.9L475.3,255.9L473.2,254.7Q471.2,253.5 471.2,250.5L471.2,230.4Q471.2,227.4 473.2,226.2L475.3,225.0L478.0,223.0L480.9,220.7L483.8,217.8L486.6,214.3L488.0,211.9Q489.3,209.6 488.5,207.7L488.5,207.7Q487.6,205.7 485.2,205.4L482.8,205.1L474.4,205.4L470.9,206.1L467.7,207.1L465.7,207.9Q463.8,208.7 462.4,207.2L461.0,205.7L455.1,200.2L451.2,197.2L447.0,194.6L442.6,192.6L438.0,191.1L433.3,190.0L429.6,189.5L425.9,189.1L422.2,189.1L418.6,189.4L416.8,189.6Q415.0,189.9 413.2,189.6L411.4,189.4M411.9,284.5L413.5,284.2Q415.0,283.8 417.9,284.5L421.3,285.2L424.6,285.5L427.9,285.5L431.2,285.2L435.4,284.3L439.5,282.9L443.3,281.0L447.0,278.7L450.4,275.9L452.9,273.5L455.3,270.9L456.4,269.5Q457.4,268.1 460.1,269.2L462.7,270.3L465.5,271.3L468.6,272.2L473.5,272.9L478.5,272.5Q481.4,272.2 482.2,270.5L482.2,270.5Q483.0,268.7 481.3,266.4L479.6,264.1L477.0,261.3L474.3,258.9L471.7,256.8L469.2,255.2L465.0,252.9Q462.4,251.4 462.4,248.4L462.4,232.5Q462.4,229.5 464.6,228.3L466.7,227.2L471.7,224.1L474.3,222.0L477.0,219.6L479.6,216.8L481.3,214.5Q483.0,212.2 482.2,210.4L482.2,210.4Q481.4,208.7 478.5,208.4L473.5,208.0L472.1,208.1L468.6,208.7L465.5,209.6L462.7,210.6L460.1,211.7Q457.4,212.8 456.4,211.4L455.3,210.0L452.9,207.4L450.4,205.0L447.0,202.2L443.3,199.9L439.5,198.0L435.4,196.6L431.2,195.7L427.9,195.4L424.6,195.4L421.3,195.7L417.9,196.4Q415.0,197.1 413.5,196.7L411.9,196.4M412.3,279.1L413.7,278.7Q415.0,278.4 417.9,279.1L423.4,280.2L426.0,280.5L429.6,280.5L433.4,280.1L437.3,279.2L441.0,277.7L444.4,275.6L447.7,273.2L450.1,271.1L452.3,268.6L453.4,267.4Q454.4,266.1 457.2,267.1L463.4,269.2L466.3,270.0L467.7,270.3Q469.2,270.5 472.1,270.1L472.8,270.0Q475.7,269.5 476.5,267.9L476.5,267.9Q477.2,266.3 475.3,264.0L473.4,261.8L470.9,259.5L468.4,257.5L466.0,255.8L461.5,253.0L457.4,251.0Q454.7,249.6 454.7,246.6L454.7,234.3Q454.7,231.3 457.0,230.1L459.4,229.0L463.7,226.5L468.4,223.4L470.9,221.4L473.4,219.1L475.3,216.9Q477.2,214.6 476.5,213.0L476.5,213.0Q475.7,211.4 472.8,210.9L472.1,210.8Q469.2,210.4 467.7,210.6L466.3,210.9L463.4,211.7L457.2,213.8Q454.4,214.8 453.4,213.5L452.3,212.3L450.1,209.8L447.7,207.7L444.4,205.3L441.0,203.2L437.3,201.7L433.4,200.8L429.6,200.4L426.5,200.4L423.4,200.7L417.9,201.8Q415.0,202.5 413.7,202.2L412.3,201.8M412.6,274.4L413.8,274.0Q415.0,273.6 417.9,274.5L422.5,275.9L428.1,276.6L431.8,276.5L435.4,276.0L439.0,274.7L442.2,273.0L445.3,270.8L447.6,268.9L449.7,266.7L450.6,265.5Q451.6,264.3 454.5,265.2L461.2,267.4L463.3,267.9Q465.3,268.4 466.4,268.0L467.6,267.7L469.0,267.3Q470.5,267.0 471.2,265.5L471.2,265.5Q471.8,264.0 470.9,263.1L470.1,262.1L467.7,259.9L465.3,258.0L460.9,254.8L456.8,252.3L451.7,249.7Q449.0,248.3 448.8,245.3L448.6,241.7L448.9,235.6Q449.0,232.6 451.7,231.2L454.9,229.6L458.8,227.4L463.1,224.6L467.7,221.0L470.1,218.8L470.9,217.8Q471.8,216.9 471.2,215.4L471.2,215.4Q470.5,213.9 469.0,213.6L467.6,213.2L466.4,212.9Q465.3,212.5 463.3,213.0L461.2,213.5L454.5,215.7Q451.6,216.6 450.6,215.4L449.7,214.2L447.6,212.0L445.3,210.1L442.2,207.9L439.0,206.2L435.4,204.9L431.8,204.4L428.1,204.3L422.5,205.0L417.9,206.4Q415.0,207.3 413.8,206.9L412.6,206.5M412.9,270.0L414.0,269.6Q415.0,269.2 417.8,270.3L421.6,271.8L425.0,272.8L426.9,273.2L430.3,273.4L433.8,273.1L437.1,272.1L440.2,270.6L443.2,268.7L445.4,267.0L447.3,264.8Q449.1,262.7 452.0,263.5L458.8,265.5Q461.7,266.4 463.5,265.4L463.5,265.4Q465.3,264.5 465.9,263.1L465.9,263.1Q466.5,261.8 464.5,260.0L462.5,258.3L458.3,255.1L454.5,252.6L449.2,249.8L448.5,249.3Q447.7,248.8 447.4,248.3L447.4,248.3Q447.0,247.9 447.0,244.9L447.0,236.0Q447.0,233.0 447.4,232.6L447.4,232.6Q447.7,232.1 448.5,231.6L449.2,231.1L454.5,228.3L458.3,225.8L462.5,222.6L464.7,220.8L465.6,219.9Q466.5,219.1 465.9,217.8L465.9,217.8Q465.3,216.4 463.5,215.5L463.5,215.5Q461.7,214.5 458.8,215.4L452.0,217.4Q449.1,218.2 447.3,216.1L445.4,213.9L443.2,212.2L440.2,210.3L437.1,208.8L433.8,207.8L430.3,207.5L426.9,207.7L424.2,208.3L421.6,209.1L417.8,210.6Q415.0,211.7 414.0,211.3L412.9,210.9M413.3,265.3L414.1,264.8Q415.0,264.4 417.6,265.9L420.4,267.5L423.1,268.7L425.5,269.5L428.8,270.2L432.2,270.4L435.5,269.8L438.5,268.5L441.3,266.8L443.4,265.2L445.1,263.2Q446.9,261.2 449.7,262.0L455.5,263.7Q458.4,264.6 459.3,263.3L460.2,262.1L460.7,260.9Q461.3,259.7 458.9,257.8L455.9,255.3L449.9,251.4Q447.4,249.8 446.5,248.7L446.5,248.7Q445.6,247.5 445.6,244.5L445.6,236.4Q445.6,233.4 446.5,232.2L446.5,232.2Q447.4,231.1 449.9,229.5L455.9,225.6L458.9,223.1Q461.3,221.2 460.7,220.0L460.2,218.8L459.3,217.6Q458.4,216.3 455.5,217.2L449.7,218.9Q446.9,219.7 445.1,217.7L443.4,215.7L441.3,214.1L438.5,212.4L435.5,211.1L432.2,210.5L428.8,210.7L425.5,211.4L423.1,212.2L420.4,213.4L417.6,215.0Q415.0,216.5 414.1,216.1L413.3,215.6M413.5,261.3L414.3,260.8Q415.0,260.4 417.5,262.0L419.9,263.6L422.0,264.8L424.2,265.8L427.2,266.8L430.4,267.2L433.5,267.0L436.5,266.2L439.3,264.8L440.4,264.2Q441.4,263.5 443.1,261.7L443.1,261.7Q444.8,259.9 446.8,260.3L448.7,260.7L452.6,262.0Q455.4,262.9 455.5,261.4L455.5,261.4Q455.6,259.9 456.1,258.8L456.1,258.8Q456.6,257.7 455.1,256.5L453.6,255.4L449.5,252.6Q447.0,250.9 446.4,250.2L445.7,249.4L444.9,248.3Q444.1,247.2 444.1,244.2L444.1,236.7Q444.1,233.7 444.9,232.6L445.7,231.5L446.4,230.7Q447.0,230.0 449.5,228.3L453.6,225.5L455.1,224.4Q456.6,223.2 456.1,222.1L456.1,222.1Q455.6,221.0 455.5,219.5L455.5,219.5Q455.4,218.0 452.6,218.9L448.7,220.2L446.8,220.6Q444.8,221.0 443.1,219.2L443.1,219.2Q441.4,217.4 440.4,216.7L439.3,216.1L436.5,214.7L433.5,213.9L430.4,213.7L427.2,214.1L424.2,215.1L419.9,217.3L417.5,218.9Q415.0,220.5 414.3,220.1L413.5,219.6M414.0,255.4L414.5,255.0Q415.0,254.7 417.5,256.4L419.9,258.1L423.4,260.1L425.2,260.7Q427.0,261.3 428.4,261.4L428.4,261.4Q429.7,261.5 431.0,261.3L432.2,261.0L434.7,260.2L435.6,259.7Q436.5,259.2 438.0,257.8L438.0,257.8Q439.5,256.4 442.4,257.1L444.4,257.7Q447.3,258.4 447.1,257.1L447.1,257.1Q446.9,255.7 447.3,254.9L447.3,254.9Q447.7,254.0 446.3,252.9L445.0,251.8L443.7,250.5L442.6,249.2L441.6,247.8Q440.7,246.4 440.7,243.4L440.7,237.5Q440.7,234.5 441.6,233.1L442.6,231.7L443.7,230.4L445.0,229.1L446.3,228.0Q447.7,226.9 447.3,226.0L447.3,226.0Q446.9,225.2 447.1,223.8L447.1,223.8Q447.3,222.5 444.4,223.2L442.4,223.8Q439.5,224.5 438.0,223.1L438.0,223.1Q436.5,221.7 435.6,221.2L434.7,220.7L432.2,219.9L431.0,219.6Q429.7,219.4 428.4,219.5L427.0,219.6L424.3,220.4L421.8,221.6L418.9,223.4L416.9,224.8Q415.0,226.2 414.5,225.9L414.0,225.5M414.3,251.1L414.6,250.9Q415.0,250.6 417.4,252.4L420.1,254.4L421.0,255.0L424.1,256.3L426.4,256.7L428.5,256.6L430.6,256.1L431.4,255.8Q432.3,255.5 433.5,254.4L433.5,254.4Q434.8,253.3 437.5,253.9L437.5,253.9Q440.3,254.5 440.1,253.5L440.1,253.5Q440.0,252.4 440.3,251.7L440.3,251.7Q440.6,251.1 439.5,249.8L438.4,248.5L437.4,247.0Q436.3,245.4 436.1,242.9L435.9,240.4L436.1,238.0Q436.3,235.5 437.4,233.9L438.4,232.4L439.5,231.1Q440.6,229.8 440.3,229.2L440.3,229.2Q440.0,228.5 440.1,227.4L440.1,227.4Q440.3,226.4 437.5,227.0L437.5,227.0Q434.8,227.6 433.5,226.5L433.5,226.5Q432.3,225.4 431.4,225.1L430.6,224.8L428.5,224.3L426.4,224.2L424.1,224.6L421.0,225.9L420.1,226.5L417.4,228.5Q415.0,230.3 414.6,230.0L414.3,229.8M414.5,248.1L414.7,247.9Q415.0,247.7 417.4,249.5L420.1,251.3L421.8,252.3L422.8,252.6Q423.7,253.0 424.6,252.9L425.5,252.9L427.0,252.6Q428.5,252.2 429.5,251.4L429.5,251.4Q430.5,250.6 432.4,250.9L432.4,250.9Q434.3,251.2 434.2,250.4L434.2,250.4Q434.0,249.5 434.2,249.0L434.2,249.0Q434.5,248.5 433.9,247.5L433.3,246.4L432.8,245.5Q432.4,244.5 432.1,242.5L432.1,242.5Q431.8,240.4 432.1,238.4L432.1,238.4Q432.4,236.4 432.8,235.4L433.3,234.5L433.9,233.4Q434.5,232.4 434.2,231.9L434.2,231.9Q434.0,231.4 434.2,230.5L434.2,230.5Q434.3,229.7 432.4,230.0L432.4,230.0Q430.5,230.3 429.5,229.5L429.5,229.5Q428.5,228.7 427.0,228.3L425.5,228.0L424.6,228.0Q423.7,227.9 422.8,228.3L421.8,228.6L420.1,229.6L417.4,231.4Q415.0,233.2 414.7,233.0L414.5,232.8M414.7,244.4L414.9,244.3Q415.0,244.2 416.2,245.1L417.3,245.9L418.5,246.6L419.0,246.7Q419.5,246.8 420.8,246.8L420.8,246.8Q422.1,246.7 422.7,246.3L422.7,246.3Q423.4,245.9 424.5,246.1L424.5,246.1Q425.6,246.3 425.4,245.8L425.4,245.8Q425.2,245.3 425.3,245.1L425.3,245.1Q425.5,244.8 425.0,243.8L424.6,242.9L424.4,241.7Q424.1,240.4 424.4,239.2L424.6,238.0L425.0,237.1Q425.5,236.1 425.3,235.8L425.3,235.8Q425.2,235.6 425.4,235.1L425.4,235.1Q425.6,234.6 424.5,234.8L424.5,234.8Q423.4,235.0 422.7,234.6L422.7,234.6Q422.1,234.2 420.8,234.1L420.8,234.1Q419.5,234.1 419.0,234.2L418.5,234.3L417.3,235.0L416.2,235.8Q415.0,236.7 414.9,236.6L414.7,236.5M414.9,242.5L414.9,242.4Q415.0,242.3 415.6,242.9L415.6,242.9Q416.3,243.4 416.9,243.7L416.9,243.7Q417.5,244.0 418.2,244.0L418.2,244.0Q419.0,243.9 419.3,243.7L419.3,243.7Q419.7,243.5 420.1,243.5L420.1,243.5Q420.6,243.6 420.6,243.3L420.6,243.3Q420.5,243.1 420.8,242.5L421.1,241.9L421.2,241.2Q421.3,240.4 421.2,239.7L421.1,239.0L420.8,238.4Q420.5,237.8 420.6,237.6L420.6,237.6Q420.6,237.3 420.1,237.4L420.1,237.4Q419.7,237.4 419.3,237.2L419.3,237.2Q419.0,237.0 418.2,236.9L418.2,236.9Q417.5,236.9 416.9,237.2L416.9,237.2Q416.3,237.5 415.6,238.0L415.6,238.0Q415.0,238.6 414.9,238.5L414.9,238.4M414.9,241.5L415.0,241.5Q415.0,241.4 415.4,241.8L415.4,241.8Q415.8,242.3 416.1,242.4L416.1,242.4Q416.4,242.5 416.9,242.5L416.9,242.5Q417.3,242.4 417.5,242.3L417.5,242.3Q417.6,242.2 417.9,242.2L417.9,242.2Q418.2,242.2 418.2,242.0L418.2,242.0Q418.2,241.8 418.5,241.6L418.5,241.6Q418.9,241.3 419.1,240.9L419.1,240.9Q419.3,240.4 419.1,240.0L419.1,240.0Q418.9,239.6 418.5,239.3L418.5,239.3Q418.2,239.1 418.2,238.9L418.2,238.9Q418.2,238.7 417.9,238.7L417.9,238.7Q417.6,238.7 417.5,238.6L417.5,238.6Q417.3,238.5 416.9,238.4L416.9,238.4Q416.4,238.4 416.1,238.5L416.1,238.5Q415.8,238.6 415.4,239.1L415.4,239.1Q415.0,239.5 415.0,239.4L414.9,239.4M414.9,241.2L415.4,241.5Q415.9,241.8 416.2,241.8L416.2,241.8Q416.5,241.8 416.8,241.7L416.8,241.7Q417.1,241.6 417.1,241.5L417.1,241.5Q417.1,241.3 417.5,240.9L417.5,240.9Q418.0,240.4 417.5,240.0L417.5,240.0Q417.1,239.6 417.1,239.4L417.1,239.4Q417.1,239.3 416.8,239.2L416.8,239.2Q416.5,239.1 416.2,239.1L416.2,239.1Q415.9,239.1 415.4,239.4L414.9,239.7M415.0,241.1L415.3,241.2Q415.7,241.3 416.1,241.3L416.1,241.3Q416.4,241.2 416.7,240.8L416.7,240.8Q416.9,240.4 416.7,240.1L416.7,240.1Q416.4,239.7 416.1,239.6L416.1,239.6Q415.7,239.6 415.3,239.7L415.0,239.8M415.0,240.9L415.2,241.0Q415.4,241.1 415.7,241.1L415.7,241.1Q416.0,241.0 416.1,240.7L416.1,240.7Q416.3,240.4 416.1,240.2L416.1,240.2Q416.0,239.9 415.7,239.8L415.7,239.8Q415.4,239.8 415.2,239.9L415.0,240.0M415.0,240.7L415.2,240.9Q415.5,241.0 415.6,240.9L415.6,240.9Q415.7,240.9 415.8,240.7L415.8,240.7Q415.9,240.4 415.8,240.2L415.8,240.2Q415.7,240.0 415.6,240.0L415.6,240.0Q415.5,239.9 415.2,240.0L415.0,240.2M415.0,240.5L415.2,240.7Q415.4,240.9 415.5,240.9L415.5,240.9Q415.7,240.8 415.7,240.6L415.7,240.6Q415.8,240.4 415.7,240.3L415.7,240.3Q415.7,240.1 415.5,240.0L415.5,240.0Q415.4,240.0 415.2,240.2L415.0,240.4" fill="none" stroke="#101010" stroke-width="1" stroke-dasharray="1.5,3.1" stroke-linecap="butt"/></g><path d="M46.3,421.5h4M46.3,361.1h4M46.3,300.8h4M46.3,240.4h4M46.3,180.1h4M46.3,119.8h4M46.3,59.4h4M265.5,270.6h-2.2M265.5,255.5h-2.2M265.5,240.4h-4.4M265.5,225.4h-2.2M265.5,210.3h-2.2" stroke="#000" stroke-opacity="0.4" stroke-width="1" fill="none"/><path d="M415.5,421.5h4M415.5,361.1h4M415.5,300.8h4M415.5,240.4h4M415.5,180.1h4M415.5,119.8h4M415.5,59.4h4M634.7,270.6h-2.2M634.7,255.5h-2.2M634.7,240.4h-4.4M634.7,225.4h-2.2M634.7,210.3h-2.2" stroke="#000" stroke-opacity="0.4" stroke-width="1" fill="none"/><defs><linearGradient id="cb" x1="0" y1="0" x2="0" y2="1"><stop offset="0.0000" stop-color="#b5161b"/><stop offset="0.0498" stop-color="#b5181c"/><stop offset="0.1001" stop-color="#b8201c"/><stop offset="0.1227" stop-color="#c0401c"/><stop offset="0.1499" stop-color="#cc6a1e"/><stop offset="0.1756" stop-color="#e0a020"/><stop offset="0.2002" stop-color="#efc81e"/><stop offset="0.2247" stop-color="#f5e61e"/><stop offset="0.2500" stop-color="#f0e828"/><stop offset="0.2738" stop-color="#e0de2a"/><stop offset="0.3002" stop-color="#c8cf2c"/><stop offset="0.3267" stop-color="#b0c02c"/><stop offset="0.3493" stop-color="#9cb82c"/><stop offset="0.4003" stop-color="#88b02c"/><stop offset="0.4513" stop-color="#78a82c"/><stop offset="0.5004" stop-color="#70a62e"/><stop offset="0.5117" stop-color="#78b03c"/><stop offset="0.5230" stop-color="#79b150"/><stop offset="0.5344" stop-color="#7ab264"/><stop offset="0.5495" stop-color="#7db482"/><stop offset="0.5646" stop-color="#80b69b"/><stop offset="0.5797" stop-color="#87bcb9"/><stop offset="0.6005" stop-color="#8cc0d2"/><stop offset="0.6174" stop-color="#87bee1"/><stop offset="0.6326" stop-color="#76b2e4"/><stop offset="0.6477" stop-color="#69a5e1"/><stop offset="0.6628" stop-color="#5a82cd"/><stop offset="0.6779" stop-color="#4b5fb4"/><stop offset="0.6892" stop-color="#4450aa"/><stop offset="0.7005" stop-color="#4248a5"/><stop offset="0.7156" stop-color="#3e3e9b"/><stop offset="0.7307" stop-color="#3a3791"/><stop offset="0.7458" stop-color="#37348c"/><stop offset="0.7685" stop-color="#36328c"/><stop offset="0.7987" stop-color="#34308c"/><stop offset="0.8214" stop-color="#342a87"/><stop offset="0.8478" stop-color="#3a2080"/><stop offset="0.8591" stop-color="#3c1c7a"/><stop offset="0.8742" stop-color="#3e1470"/><stop offset="0.8894" stop-color="#3c1269"/><stop offset="0.9007" stop-color="#3a1262"/><stop offset="0.9120" stop-color="#3a145a"/><stop offset="0.9271" stop-color="#36124e"/><stop offset="0.9422" stop-color="#321044"/><stop offset="0.9573" stop-color="#2e0e38"/><stop offset="0.9649" stop-color="#280e28"/><stop offset="0.9800" stop-color="#1c101a"/><stop offset="0.9951" stop-color="#161014"/><stop offset="1.0000" stop-color="#141012"/></linearGradient></defs><rect x="330.2" y="108.5" width="14.6" height="264.8" fill="url(#cb)" stroke="#222" stroke-width="0.8"/><path d="M330.2,121.7h2M344.8,121.7h-2M330.2,135.0h2M344.8,135.0h-2M330.2,148.2h2M344.8,148.2h-2M330.2,161.5h2M344.8,161.5h-2M330.2,174.7h2M344.8,174.7h-2M330.2,187.9h2M344.8,187.9h-2M330.2,201.2h2M344.8,201.2h-2M330.2,214.4h2M344.8,214.4h-2M330.2,227.7h2M344.8,227.7h-2M330.2,240.9h2M344.8,240.9h-2M330.2,254.1h2M344.8,254.1h-2M330.2,267.4h2M344.8,267.4h-2M330.2,280.6h2M344.8,280.6h-2M330.2,293.9h2M344.8,293.9h-2M330.2,307.1h2M344.8,307.1h-2M330.2,320.3h2M344.8,320.3h-2M330.2,333.6h2M344.8,333.6h-2M330.2,346.8h2M344.8,346.8h-2M330.2,360.1h2M344.8,360.1h-2" stroke="#222" stroke-width="0.9" fill="none"/><g font-size="11.5" fill="#000"><text x="325.8" y="117.0" text-anchor="end">2.48</text><text x="325.8" y="139.9" text-anchor="end">1.63</text><text x="325.8" y="166.4" text-anchor="end">0.78</text><text x="325.8" y="192.8" text-anchor="end">-0.07</text><text x="325.8" y="219.3" text-anchor="end">-0.91</text><text x="325.8" y="245.8" text-anchor="end">-1.76</text><text x="325.8" y="272.3" text-anchor="end">-2.61</text><text x="325.8" y="298.8" text-anchor="end">-3.46</text><text x="325.8" y="325.2" text-anchor="end">-4.30</text><text x="325.8" y="351.7" text-anchor="end">-5.15</text><text x="325.8" y="375.4" text-anchor="end">-6.00</text></g><text transform="translate(292.3,244.5) rotate(-90)" text-anchor="middle" font-size="11.85">log(Variance [nT ^ 2])</text><text x="156" y="11.3" text-anchor="middle" font-size="15.4" textLength="86.3" lengthAdjust="spacingAndGlyphs">2D Variance</text><text x="524.8" y="11.0" text-anchor="middle" font-size="15.4" textLength="98.4" lengthAdjust="spacingAndGlyphs">Slab Variance</text></svg></body></html>
